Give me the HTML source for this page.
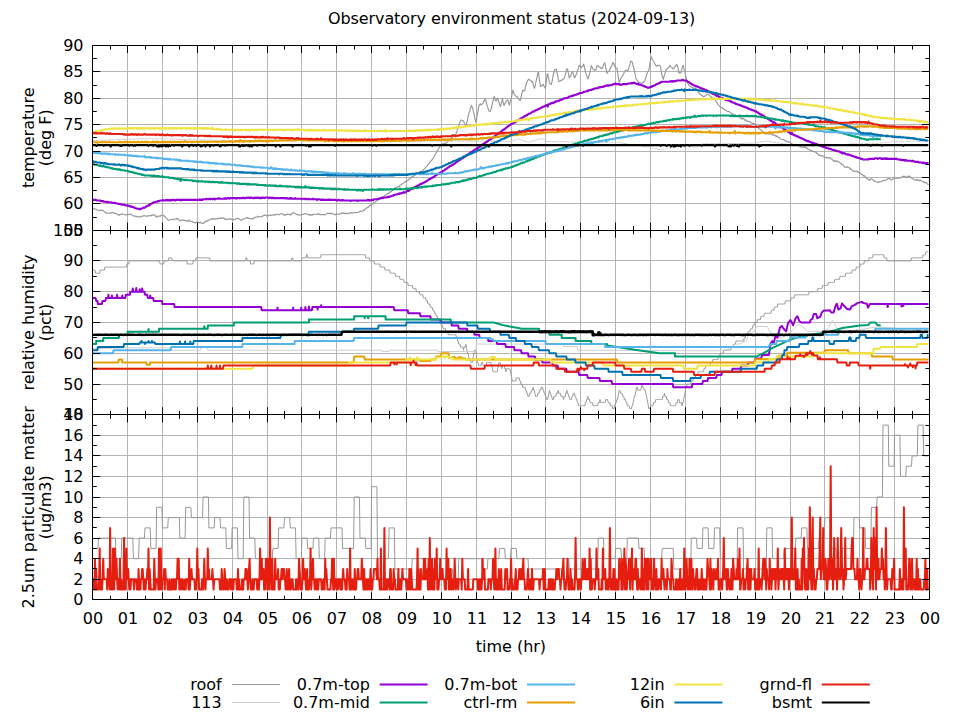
<!DOCTYPE html>
<html lang="en"><head><meta charset="utf-8"><title>Observatory environment status (2024-09-13)</title>
<style>html,body{margin:0;padding:0;background:#fff;}body{width:960px;height:720px;overflow:hidden;}svg{display:block;}</style>
</head><body>
<svg width="960" height="720" viewBox="0 0 960 720" font-family="'DejaVu Sans','Liberation Sans',sans-serif" font-size="16" fill="#000">
<rect width="960" height="720" fill="#fff"/>
<text x="511.6" y="24" text-anchor="middle" textLength="367.4" lengthAdjust="spacing">Observatory environment status (2024-09-13)</text>
<g>
<path d="M127.50 45.50V230.50M162.50 45.50V230.50M197.50 45.50V230.50M232.50 45.50V230.50M267.50 45.50V230.50M301.50 45.50V230.50M336.50 45.50V230.50M371.50 45.50V230.50M406.50 45.50V230.50M441.50 45.50V230.50M476.50 45.50V230.50M511.50 45.50V230.50M545.50 45.50V230.50M580.50 45.50V230.50M615.50 45.50V230.50M650.50 45.50V230.50M685.50 45.50V230.50M720.50 45.50V230.50M755.50 45.50V230.50M790.50 45.50V230.50M824.50 45.50V230.50M859.50 45.50V230.50M894.50 45.50V230.50M92.50 203.50H929.50M92.50 177.50H929.50M92.50 151.50H929.50M92.50 124.50H929.50M92.50 98.50H929.50M92.50 71.50H929.50" stroke="#b4b4b4" stroke-width="1" fill="none"/>
<clipPath id="cp0"><rect x="92.71" y="45.45" width="836.8" height="184.8"/></clipPath>
<g clip-path="url(#cp0)">
<path d="M92.7 208.2L93.3 208.3L93.9 208.8L94.5 209.2L95.0 208.9L95.6 209.2L96.2 209.3L96.8 209.7L97.4 209.8L97.9 209.8L98.5 210.6L99.1 210.7L99.7 210.8L100.3 210.5L100.8 209.7L101.4 210.5L102.0 210.5L102.6 210.6L103.2 210.4L103.8 211.1L104.3 211.5L104.9 211.9L105.5 212.5L106.1 212.9L106.7 213.1L107.2 212.9L107.8 213.0L108.4 213.2L109.0 213.2L109.6 212.8L110.1 213.1L110.7 213.2L111.3 212.6L111.9 212.8L112.5 212.6L113.0 212.3L113.6 212.7L114.2 213.3L114.8 213.3L115.4 213.3L116.0 213.7L116.5 213.6L117.1 214.1L117.7 214.6L118.3 214.9L118.9 215.3L119.4 214.6L120.0 214.8L120.6 214.6L121.2 214.3L121.8 213.5L122.3 214.2L122.9 214.2L123.5 214.3L124.1 214.5L124.7 214.6L125.3 214.7L125.8 214.9L126.4 215.0L127.0 214.3L127.6 214.4L128.2 214.5L128.7 214.4L129.3 214.6L129.9 214.4L130.5 214.4L131.1 214.2L131.6 214.9L132.2 215.4L132.8 215.7L133.4 215.7L134.0 216.0L134.5 216.1L135.1 216.4L135.7 216.1L136.3 216.5L136.9 216.9L137.5 216.8L138.0 216.6L138.6 216.8L139.2 216.9L139.8 216.9L140.4 217.1L140.9 216.7L141.5 216.2L142.1 216.3L142.7 216.1L143.3 216.1L143.8 215.5L144.4 215.8L145.0 215.8L145.6 215.9L146.2 216.2L146.8 216.0L147.3 216.1L147.9 216.2L148.5 215.5L149.1 215.8L149.7 215.9L150.2 215.4L150.8 215.7L151.4 215.6L152.0 214.9L152.6 215.2L153.1 214.7L153.7 215.2L154.3 215.0L154.9 215.3L155.5 215.6L156.1 216.6L156.6 217.4L157.2 216.6L157.8 216.5L158.4 216.0L159.0 216.1L159.5 216.0L160.1 216.3L160.7 215.6L161.3 215.6L161.9 214.9L162.4 214.8L163.0 215.6L163.6 215.6L164.2 215.9L164.8 216.6L165.3 216.8L165.9 217.7L166.5 218.1L167.1 218.8L167.7 219.6L168.3 220.4L168.8 220.3L169.4 220.0L170.0 219.8L170.6 219.7L171.2 219.5L171.7 219.4L172.3 219.7L172.9 219.8L173.5 219.1L174.1 219.2L174.6 219.2L175.2 219.1L175.8 219.3L176.4 218.9L177.0 218.1L177.6 219.1L178.1 219.1L178.7 219.4L179.3 220.0L179.9 220.8L180.5 220.7L181.0 220.2L181.6 220.1L182.2 220.3L182.8 219.9L183.4 220.3L183.9 220.3L184.5 220.3L185.1 220.7L185.7 220.4L186.3 220.9L186.8 221.1L187.4 220.9L188.0 221.4L188.6 221.1L189.2 219.8L189.8 221.0L190.3 221.2L190.9 221.5L191.5 221.5L192.1 221.8L192.7 221.5L193.2 222.1L193.8 222.2L194.4 222.7L195.0 222.7L195.6 222.4L196.1 222.7L196.7 222.2L197.3 223.2L197.9 222.2L198.5 222.3L199.1 222.9L199.6 222.6L200.2 222.2L200.8 223.0L201.4 223.1L202.0 223.2L202.5 223.7L203.1 223.4L203.7 223.2L204.3 222.1L204.9 222.3L205.4 221.7L206.0 221.1L206.6 220.8L207.2 221.2L207.8 220.7L208.4 219.9L208.9 220.2L209.5 220.2L210.1 219.4L210.7 219.0L211.3 219.1L211.8 218.5L212.4 218.9L213.0 218.7L213.6 219.3L214.2 219.0L214.7 219.3L215.3 218.8L215.9 218.9L216.5 218.8L217.1 219.0L217.6 218.1L218.2 218.4L218.8 218.2L219.4 218.4L220.0 218.3L220.6 217.9L221.1 218.6L221.7 218.0L222.3 218.1L222.9 217.8L223.5 218.2L224.0 217.9L224.6 218.9L225.2 219.1L225.8 219.5L226.4 219.6L226.9 219.2L227.5 219.4L228.1 218.9L228.7 219.2L229.3 219.2L229.9 218.8L230.4 218.7L231.0 219.4L231.6 219.1L232.2 219.1L232.8 219.7L233.3 220.1L233.9 219.3L234.5 219.2L235.1 219.3L235.7 219.5L236.2 218.7L236.8 218.4L237.4 218.5L238.0 218.0L238.6 218.8L239.1 219.0L239.7 219.4L240.3 219.7L240.9 220.1L241.5 219.9L242.1 220.0L242.6 219.3L243.2 219.1L243.8 218.8L244.4 218.8L245.0 218.7L245.5 218.2L246.1 217.8L246.7 217.4L247.3 218.0L247.9 218.5L248.4 218.2L249.0 218.6L249.6 218.4L250.2 218.8L250.8 218.7L251.4 218.6L251.9 219.0L252.5 219.1L253.1 218.3L253.7 218.5L254.3 217.5L254.8 217.7L255.4 217.4L256.0 217.1L256.6 217.2L257.2 216.9L257.7 216.2L258.3 216.5L258.9 216.8L259.5 216.7L260.1 216.5L260.7 216.7L261.2 216.9L261.8 216.8L262.4 216.1L263.0 215.9L263.6 215.7L264.1 215.3L264.7 214.9L265.3 215.3L265.9 215.3L266.5 215.8L267.0 215.8L267.6 215.6L268.2 215.9L268.8 215.1L269.4 215.2L269.9 215.2L270.5 214.8L271.1 215.4L271.7 215.2L272.3 215.1L272.9 215.0L273.4 214.8L274.0 215.1L274.6 214.7L275.2 215.2L275.8 214.5L276.3 214.3L276.9 214.3L277.5 214.5L278.1 214.3L278.7 214.9L279.2 214.6L279.8 214.3L280.4 213.9L281.0 213.7L281.6 213.7L282.2 214.0L282.7 214.1L283.3 214.8L283.9 214.7L284.5 215.3L285.1 214.4L285.6 214.9L286.2 214.9L286.8 214.6L287.4 214.0L288.0 214.4L288.5 214.4L289.1 214.5L289.7 214.5L290.3 215.2L290.9 214.1L291.4 214.5L292.0 213.6L292.6 212.9L293.2 212.5L293.8 212.7L294.4 213.2L294.9 213.3L295.5 213.6L296.1 214.1L296.7 214.7L297.3 214.4L297.8 214.6L298.4 214.7L299.0 215.3L299.6 215.0L300.2 215.0L300.7 214.8L301.3 214.7L301.9 214.6L302.5 214.6L303.1 214.5L303.7 214.1L304.2 213.8L304.8 213.5L305.4 213.6L306.0 213.9L306.6 214.0L307.1 214.3L307.7 214.1L308.3 214.7L308.9 214.4L309.5 214.5L310.0 215.4L310.6 214.8L311.2 215.1L311.8 214.5L312.4 215.1L313.0 214.5L313.5 214.2L314.1 214.2L314.7 214.5L315.3 214.4L315.9 214.2L316.4 214.2L317.0 214.3L317.6 213.7L318.2 213.9L318.8 214.3L319.3 214.0L319.9 214.6L320.5 214.4L321.1 214.7L321.7 214.6L322.2 214.6L322.8 214.6L323.4 214.4L324.0 214.7L324.6 215.0L325.2 214.7L325.7 214.3L326.3 214.2L326.9 213.5L327.5 213.2L328.1 213.5L328.6 213.3L329.2 213.6L329.8 213.6L330.4 213.1L331.0 213.5L331.5 213.2L332.1 213.8L332.7 213.8L333.3 214.1L333.9 214.2L334.5 214.3L335.0 214.4L335.6 214.8L336.2 214.1L336.8 214.3L337.4 214.2L337.9 214.0L338.5 214.2L339.1 214.2L339.7 214.3L340.3 213.8L340.8 213.3L341.4 213.6L342.0 213.0L342.6 213.2L343.2 212.8L343.8 213.6L344.3 213.0L344.9 213.4L345.5 213.6L346.1 213.3L346.7 213.3L347.2 213.4L347.8 213.9L348.4 213.8L349.0 213.1L349.6 213.5L350.1 213.1L350.7 212.7L351.3 212.5L351.9 213.1L352.5 212.7L353.0 212.8L353.6 212.9L354.2 212.6L354.8 212.3L355.4 212.7L356.0 212.8L356.5 212.4L357.1 212.7L357.7 212.5L358.3 212.2L358.9 212.1L359.4 211.6L360.0 211.5L360.6 211.3L361.2 211.4L361.8 211.0L362.3 211.0L362.9 211.0L363.5 210.2L364.1 210.5L364.7 209.5L365.3 209.1L365.8 208.7L366.4 208.3L367.0 207.5L367.6 207.6L368.2 207.2L368.7 206.9L369.3 206.2L369.9 205.7L370.5 204.9L371.1 205.5L371.6 204.7L372.2 203.9L372.8 204.0L373.4 203.0L374.0 202.2L374.5 202.3L375.1 202.0L375.7 201.6L376.3 201.0L376.9 200.9L377.5 200.3L378.0 200.1L378.6 199.8L379.2 199.3L379.8 198.6L380.4 198.5L380.9 197.7L381.5 197.9L382.1 197.3L382.7 197.0L383.3 196.8L383.8 196.9L384.4 195.9L385.0 195.5L385.6 195.1L386.2 194.4L386.8 194.3L387.3 193.5L387.9 193.4L388.5 193.6L389.1 193.0L389.7 192.4L390.2 192.1L390.8 191.4L391.4 191.8L392.0 190.7L392.6 190.3L393.1 190.2L393.7 189.6L394.3 189.7L394.9 188.9L395.5 188.4L396.0 187.8L396.6 187.5L397.2 186.9L397.8 186.4L398.4 186.9L399.0 186.8L399.5 185.7L400.1 185.1L400.7 185.0L401.3 184.5L401.9 184.1L402.4 184.0L403.0 183.3L403.6 183.2L404.2 182.5L404.8 181.8L405.3 181.6L405.9 181.9L406.5 180.7L407.1 180.9L407.7 180.6L408.3 180.1L408.8 179.4L409.4 179.1L410.0 178.4L410.6 178.2L411.2 177.8L411.7 177.4L412.3 176.4L412.9 177.0L413.5 176.0L414.1 175.6L414.6 175.1L415.2 175.0L415.8 174.5L416.4 174.1L417.0 173.8L417.6 173.7L418.1 173.0L418.7 173.1L419.3 172.2L419.9 172.0L420.5 171.5L421.0 171.2L421.6 171.3L422.2 170.9L422.8 170.4L423.4 170.1L423.9 169.2L424.5 168.9L425.1 168.5L425.7 167.2L426.3 166.6L426.8 166.2L427.4 165.6L428.0 164.3L428.6 163.8L429.2 163.5L429.8 162.0L430.3 161.7L430.9 161.3L431.5 160.1L432.1 159.9L432.7 159.2L433.2 158.1L433.8 157.2L434.4 155.7L435.0 155.2L435.6 153.7L436.1 152.9L436.7 152.2L437.3 150.5L437.9 150.1L438.5 149.1L439.1 147.8L439.6 147.2L440.2 146.3L440.8 145.3L441.4 144.3L442.0 144.2L442.5 143.9L443.1 144.6L443.7 143.5L444.3 143.3L444.9 143.4L445.4 143.6L446.0 143.3L446.6 142.5L447.2 142.3L447.8 141.8L448.3 140.9L448.9 140.1L449.5 139.9L450.1 139.2L450.7 138.8L451.3 138.3L451.8 137.6L452.4 137.4L453.0 136.8L453.6 136.5L454.2 136.1L454.7 134.9L455.3 135.1L455.9 134.0L456.5 132.2L457.1 130.9L457.6 128.8L458.2 127.2L458.8 125.3L459.4 124.0L460.0 122.2L460.6 121.3L461.1 120.0L461.7 120.2L462.3 120.3L462.9 120.9L463.5 121.1L464.0 122.3L464.6 123.2L465.2 124.6L465.8 125.8L466.4 124.8L466.9 122.0L467.5 120.2L468.1 117.0L468.7 114.1L469.3 111.8L469.9 110.9L470.4 108.0L471.0 106.6L471.6 105.6L472.2 107.3L472.8 109.1L473.3 111.2L473.9 113.4L474.5 116.4L475.1 118.9L475.7 122.2L476.2 120.6L476.8 117.5L477.4 114.0L478.0 110.6L478.6 106.7L479.1 105.2L479.7 104.8L480.3 103.8L480.9 104.9L481.5 104.4L482.1 104.2L482.6 103.7L483.2 102.7L483.8 101.4L484.4 100.4L485.0 98.7L485.5 99.3L486.1 101.5L486.7 104.0L487.3 106.2L487.9 107.5L488.4 109.8L489.0 110.9L489.6 111.3L490.2 111.6L490.8 109.9L491.4 108.2L491.9 106.0L492.5 102.8L493.1 101.0L493.7 97.6L494.3 96.5L494.8 98.5L495.4 100.4L496.0 101.1L496.6 99.6L497.2 99.0L497.7 98.1L498.3 100.1L498.9 101.9L499.5 104.6L500.1 105.9L500.6 106.3L501.2 103.5L501.8 101.4L502.4 98.2L503.0 101.7L503.6 104.6L504.1 105.5L504.7 103.9L505.3 102.8L505.9 101.8L506.5 100.7L507.0 100.3L507.6 99.8L508.2 101.3L508.8 103.9L509.4 105.1L509.9 102.7L510.5 100.7L511.1 98.9L511.7 96.2L512.3 92.8L512.9 90.0L513.4 92.1L514.0 93.5L514.6 94.7L515.2 95.4L515.8 96.0L516.3 96.6L516.9 96.6L517.5 96.9L518.1 98.1L518.7 99.1L519.2 99.7L519.8 100.5L520.4 100.3L521.0 97.6L521.6 94.3L522.2 92.0L522.7 90.4L523.3 90.3L523.9 91.0L524.5 91.0L525.1 88.5L525.6 86.3L526.2 84.0L526.8 82.3L527.4 81.0L528.0 80.1L528.5 79.4L529.1 79.2L529.7 80.3L530.3 80.6L530.9 80.8L531.4 81.0L532.0 82.1L532.6 81.5L533.2 84.2L533.8 86.3L534.4 88.3L534.9 86.9L535.5 83.8L536.1 81.0L536.7 78.5L537.3 75.6L537.8 73.3L538.4 71.8L539.0 76.5L539.6 81.0L540.2 85.1L540.7 86.5L541.3 85.9L541.9 85.3L542.5 85.4L543.1 84.2L543.7 85.6L544.2 86.4L544.8 87.4L545.4 88.4L546.0 84.1L546.6 78.9L547.1 74.1L547.7 73.9L548.3 77.3L548.9 79.8L549.5 83.3L550.0 83.5L550.6 84.0L551.2 84.4L551.8 82.4L552.4 80.0L552.9 76.7L553.5 73.7L554.1 71.9L554.7 69.3L555.3 69.5L555.9 69.5L556.4 69.1L557.0 72.6L557.6 75.1L558.2 78.5L558.8 81.6L559.3 81.4L559.9 81.3L560.5 80.7L561.1 80.4L561.7 80.4L562.2 79.7L562.8 79.4L563.4 78.8L564.0 78.9L564.6 77.2L565.2 74.8L565.7 73.3L566.3 70.8L566.9 68.9L567.5 68.9L568.1 72.1L568.6 74.4L569.2 77.8L569.8 77.5L570.4 76.3L571.0 74.9L571.5 73.1L572.1 72.2L572.7 71.5L573.3 74.1L573.9 76.0L574.5 78.0L575.0 77.3L575.6 75.8L576.2 74.6L576.8 72.8L577.4 71.2L577.9 69.6L578.5 67.6L579.1 65.3L579.7 65.4L580.3 66.7L580.8 66.9L581.4 67.7L582.0 66.7L582.6 66.2L583.2 65.7L583.7 64.0L584.3 66.6L584.9 69.1L585.5 71.7L586.1 73.9L586.7 75.2L587.2 77.1L587.8 78.6L588.4 79.0L589.0 76.0L589.6 73.5L590.1 71.3L590.7 68.6L591.3 65.5L591.9 67.0L592.5 67.9L593.0 68.7L593.6 69.6L594.2 69.5L594.8 70.1L595.4 70.3L596.0 69.4L596.5 67.5L597.1 66.0L597.7 65.6L598.3 65.7L598.9 66.7L599.4 66.9L600.0 67.0L600.6 68.1L601.2 67.9L601.8 68.8L602.3 68.4L602.9 66.9L603.5 64.9L604.1 63.5L604.7 62.7L605.2 65.0L605.8 67.7L606.4 70.2L607.0 73.6L607.6 72.3L608.2 71.7L608.7 71.3L609.3 70.6L609.9 69.1L610.5 68.0L611.1 66.9L611.6 65.9L612.2 64.5L612.8 62.6L613.4 62.7L614.0 64.3L614.5 65.7L615.1 67.1L615.7 67.5L616.3 68.1L616.9 68.4L617.5 71.9L618.0 75.5L618.6 78.6L619.2 82.3L619.8 81.2L620.4 79.5L620.9 78.6L621.5 77.4L622.1 76.0L622.7 75.7L623.3 74.2L623.8 73.7L624.4 71.8L625.0 71.1L625.6 70.4L626.2 70.1L626.8 70.6L627.3 70.7L627.9 70.9L628.5 68.6L629.1 66.7L629.7 65.0L630.2 63.3L630.8 61.1L631.4 61.5L632.0 61.6L632.6 63.4L633.1 65.5L633.7 67.6L634.3 70.1L634.9 73.5L635.5 76.3L636.0 79.0L636.6 79.6L637.2 80.2L637.8 81.1L638.4 82.0L639.0 82.5L639.5 82.7L640.1 82.9L640.7 83.2L641.3 83.1L641.9 83.4L642.4 83.0L643.0 82.6L643.6 81.8L644.2 81.5L644.8 80.8L645.3 79.3L645.9 76.9L646.5 75.4L647.1 73.4L647.7 71.8L648.3 71.0L648.8 70.1L649.4 67.2L650.0 63.0L650.6 59.2L651.2 56.8L651.7 58.6L652.3 59.0L652.9 60.3L653.5 61.5L654.1 62.2L654.6 63.5L655.2 64.7L655.8 65.4L656.4 66.1L657.0 66.1L657.5 65.3L658.1 65.6L658.7 65.3L659.3 65.4L659.9 65.9L660.5 66.4L661.0 70.0L661.6 73.7L662.2 76.0L662.8 77.8L663.4 79.3L663.9 76.9L664.5 75.2L665.1 72.9L665.7 71.6L666.3 70.0L666.8 68.8L667.4 68.9L668.0 67.9L668.6 67.5L669.2 66.7L669.8 65.7L670.3 65.4L670.9 66.8L671.5 67.4L672.1 67.5L672.7 68.6L673.2 69.0L673.8 68.8L674.4 67.3L675.0 66.4L675.6 66.5L676.1 65.4L676.7 64.5L677.3 65.2L677.9 67.7L678.5 71.5L679.1 73.2L679.6 72.3L680.2 72.6L680.8 72.9L681.4 70.7L682.0 68.9L682.5 66.5L683.1 65.4L683.7 67.7L684.3 69.6L684.9 71.8L685.4 74.5L686.0 77.2L686.6 79.7L687.2 82.3L687.8 83.4L688.3 83.7L688.9 85.2L689.5 86.0L690.1 86.3L690.7 86.7L691.3 87.0L691.8 87.2L692.4 87.3L693.0 87.6L693.6 88.0L694.2 88.3L694.7 88.5L695.3 88.7L695.9 89.4L696.5 89.3L697.1 90.1L697.6 90.3L698.2 92.1L698.8 92.6L699.4 93.3L700.0 94.2L700.6 94.7L701.1 95.1L701.7 95.3L702.3 95.7L702.9 96.2L703.5 96.7L704.0 96.4L704.6 96.4L705.2 95.9L705.8 95.8L706.4 95.0L706.9 94.4L707.5 94.3L708.1 94.1L708.7 95.0L709.3 95.4L709.9 95.7L710.4 96.5L711.0 96.9L711.6 97.6L712.2 97.8L712.8 97.9L713.3 98.3L713.9 98.2L714.5 99.6L715.1 99.8L715.7 100.7L716.2 101.7L716.8 102.5L717.4 103.3L718.0 104.6L718.6 104.9L719.1 105.9L719.7 106.4L720.3 106.5L720.9 106.9L721.5 107.8L722.1 107.6L722.6 108.3L723.2 109.1L723.8 108.7L724.4 109.3L725.0 110.0L725.5 110.4L726.1 110.6L726.7 110.9L727.3 111.2L727.9 111.4L728.4 111.4L729.0 111.6L729.6 111.8L730.2 112.6L730.8 113.1L731.4 113.1L731.9 113.8L732.5 113.8L733.1 114.5L733.7 114.8L734.3 115.1L734.8 115.1L735.4 115.4L736.0 115.5L736.6 116.1L737.2 115.8L737.7 115.7L738.3 116.5L738.9 116.5L739.5 117.0L740.1 117.8L740.6 118.1L741.2 118.4L741.8 119.1L742.4 118.2L743.0 118.6L743.6 118.6L744.1 119.5L744.7 120.1L745.3 119.6L745.9 120.8L746.5 120.9L747.0 120.5L747.6 121.5L748.2 121.4L748.8 121.2L749.4 121.7L749.9 121.9L750.5 122.2L751.1 122.8L751.7 122.9L752.3 123.3L752.9 123.3L753.4 123.9L754.0 123.4L754.6 123.9L755.2 123.9L755.8 124.5L756.3 125.2L756.9 126.8L757.5 127.1L758.1 127.3L758.7 128.3L759.2 129.0L759.8 129.1L760.4 129.4L761.0 130.0L761.6 130.8L762.1 131.1L762.7 131.5L763.3 132.8L763.9 133.4L764.5 133.5L765.1 134.0L765.6 133.7L766.2 133.9L766.8 133.5L767.4 133.6L768.0 134.1L768.5 133.9L769.1 133.7L769.7 133.4L770.3 133.9L770.9 134.0L771.4 134.1L772.0 134.6L772.6 135.1L773.2 134.9L773.8 135.1L774.4 135.2L774.9 135.0L775.5 135.3L776.1 136.8L776.7 135.8L777.3 136.7L777.8 136.9L778.4 137.3L779.0 137.3L779.6 138.1L780.2 138.5L780.7 138.8L781.3 139.1L781.9 139.2L782.5 139.5L783.1 139.7L783.7 139.5L784.2 140.2L784.8 140.1L785.4 140.9L786.0 141.5L786.6 141.3L787.1 141.4L787.7 141.6L788.3 142.0L788.9 142.0L789.5 142.5L790.0 142.1L790.6 142.9L791.2 143.2L791.8 143.5L792.4 144.5L792.9 144.6L793.5 144.6L794.1 144.8L794.7 144.6L795.3 145.1L795.9 144.6L796.4 144.8L797.0 145.0L797.6 145.0L798.2 145.5L798.8 145.7L799.3 146.2L799.9 146.5L800.5 146.7L801.1 146.9L801.7 147.3L802.2 147.2L802.8 147.2L803.4 147.4L804.0 146.9L804.6 147.1L805.2 147.0L805.7 147.5L806.3 148.2L806.9 147.9L807.5 149.0L808.1 149.0L808.6 149.2L809.2 149.5L809.8 150.0L810.4 150.4L811.0 150.6L811.5 150.9L812.1 150.7L812.7 151.4L813.3 151.6L813.9 151.6L814.4 151.8L815.0 151.9L815.6 152.2L816.2 152.6L816.8 153.4L817.4 153.2L817.9 154.1L818.5 154.8L819.1 155.4L819.7 154.8L820.3 155.6L820.8 155.8L821.4 155.9L822.0 155.6L822.6 155.8L823.2 156.2L823.7 156.6L824.3 157.0L824.9 157.5L825.5 157.4L826.1 157.8L826.7 157.5L827.2 157.8L827.8 157.7L828.4 158.2L829.0 157.7L829.6 158.0L830.1 157.7L830.7 158.0L831.3 158.9L831.9 159.1L832.5 159.8L833.0 160.4L833.6 161.2L834.2 160.7L834.8 161.4L835.4 161.1L836.0 160.9L836.5 161.1L837.1 160.9L837.7 161.8L838.3 162.1L838.9 161.8L839.4 162.1L840.0 162.9L840.6 163.4L841.2 163.6L841.8 164.6L842.3 164.5L842.9 164.7L843.5 165.8L844.1 166.3L844.7 167.1L845.2 167.2L845.8 167.5L846.4 167.4L847.0 166.5L847.6 167.1L848.2 167.2L848.7 167.4L849.3 168.0L849.9 168.0L850.5 169.5L851.1 169.3L851.6 169.3L852.2 170.0L852.8 170.8L853.4 171.1L854.0 171.2L854.5 171.4L855.1 171.2L855.7 171.4L856.3 171.3L856.9 171.1L857.5 172.1L858.0 171.7L858.6 172.3L859.2 172.7L859.8 172.5L860.4 173.2L860.9 173.8L861.5 174.2L862.1 174.5L862.7 175.1L863.3 175.4L863.8 176.1L864.4 175.6L865.0 176.5L865.6 177.0L866.2 177.9L866.8 178.4L867.3 178.3L867.9 179.3L868.5 180.2L869.1 179.7L869.7 180.1L870.2 179.3L870.8 178.9L871.4 178.9L872.0 179.4L872.6 179.3L873.1 180.1L873.7 180.6L874.3 181.4L874.9 180.8L875.5 181.4L876.0 181.8L876.6 182.0L877.2 182.1L877.8 182.0L878.4 182.6L879.0 182.0L879.5 181.8L880.1 182.0L880.7 181.8L881.3 181.4L881.9 181.4L882.4 181.2L883.0 180.6L883.6 180.1L884.2 180.7L884.8 180.7L885.3 180.3L885.9 180.0L886.5 179.7L887.1 179.5L887.7 179.0L888.3 178.2L888.8 178.7L889.4 178.6L890.0 179.1L890.6 179.2L891.2 179.7L891.7 180.1L892.3 179.6L892.9 179.0L893.5 178.3L894.1 178.1L894.6 178.2L895.2 178.2L895.8 177.9L896.4 178.3L897.0 178.2L897.5 178.5L898.1 177.8L898.7 178.0L899.3 177.6L899.9 178.0L900.5 178.1L901.0 177.6L901.6 177.0L902.2 177.4L902.8 176.6L903.4 176.2L903.9 176.4L904.5 176.3L905.1 176.7L905.7 177.5L906.3 177.3L906.8 177.4L907.4 176.2L908.0 176.7L908.6 176.3L909.2 176.4L909.8 176.0L910.3 176.9L910.9 177.3L911.5 178.0L912.1 178.5L912.7 178.7L913.2 179.2L913.8 179.6L914.4 179.9L915.0 179.9L915.6 179.8L916.1 179.9L916.7 180.3L917.3 179.4L917.9 180.1L918.5 180.3L919.1 179.9L919.6 180.9L920.2 180.1L920.8 180.4L921.4 180.9L922.0 181.2L922.5 181.5L923.1 181.6L923.7 182.4L924.3 182.3L924.9 182.8L925.4 182.6L926.0 182.4L926.6 182.9L927.2 183.6L927.8 184.1L928.3 184.8" stroke="#989898" stroke-width="1.15" fill="none" stroke-linejoin="round" stroke-linecap="butt" />
<path d="M92.7 140.5L95.0 140.5L95.6 139.9L96.2 140.5L97.4 140.5L97.9 139.9L98.5 140.5L99.1 140.5L99.7 139.9L100.8 139.9L101.4 140.5L102.0 139.9L103.2 139.9L103.8 140.5L104.3 139.9L104.9 140.5L105.5 139.9L107.2 139.9L107.8 140.5L108.4 139.9L113.0 139.9L113.6 139.3L114.2 139.9L115.4 139.9L116.0 139.3L119.4 139.3L120.0 139.9L120.6 139.3L121.2 139.3L121.8 139.9L122.3 139.3L129.9 139.3L130.5 138.7L131.1 139.3L131.6 138.7L132.2 138.7L132.8 139.3L133.4 139.3L134.0 138.7L134.5 139.3L135.1 139.3L135.7 138.7L136.9 138.7L137.5 139.3L138.0 139.3L138.6 138.7L140.9 138.7L141.5 139.3L142.1 138.1L142.7 138.7L147.9 138.7L148.5 138.1L149.1 138.7L150.8 138.7L151.4 139.3L152.0 138.7L152.6 138.7L153.1 139.3L153.7 138.7L155.5 138.7L156.1 139.3L156.6 138.7L158.4 138.7L159.0 139.3L159.5 138.7L161.9 138.7L162.4 139.3L163.6 139.3L164.2 138.7L164.8 138.7L165.3 139.3L165.9 138.7L168.3 138.7L168.8 139.3L169.4 138.7L170.0 139.3L174.6 139.3L175.2 138.7L175.8 139.3L183.4 139.3L183.9 139.9L184.5 139.3L185.1 139.3L185.7 139.9L186.3 139.3L186.8 139.3L187.4 139.9L188.0 139.3L192.1 139.3L192.7 139.9L193.2 139.9L193.8 139.3L195.0 139.3L195.6 139.9L198.5 139.9L199.1 139.3L199.6 139.3L200.2 139.9L207.8 139.9L208.4 140.5L208.9 139.9L213.0 139.9L213.6 140.5L214.2 139.9L214.7 140.5L217.1 140.5L217.6 139.9L218.2 139.9L218.8 140.5L219.4 140.5L220.0 139.9L221.1 139.9L221.7 140.5L224.0 140.5L224.6 139.9L225.2 140.5L225.8 140.5L226.4 139.9L226.9 140.5L242.6 140.5L243.2 141.1L243.8 140.5L265.3 140.5L265.9 141.1L266.5 140.5L272.3 140.5L272.9 139.9L273.4 140.5L274.6 140.5L275.2 141.1L275.8 140.5L277.5 140.5L278.1 141.1L278.7 140.5L279.2 139.9L279.8 140.5L307.1 140.5L307.7 141.1L308.3 140.5L311.8 140.5L312.4 141.1L313.0 140.5L326.9 140.5L327.5 141.1L328.1 140.5L329.8 140.5L330.4 141.1L331.0 141.1L331.5 140.5L333.3 140.5L333.9 141.1L334.5 140.5L340.8 140.5L341.4 141.1L342.0 140.5L344.3 140.5L344.9 141.1L345.5 140.5L347.2 140.5L347.8 141.1L348.4 140.5L349.0 141.1L349.6 140.5L350.1 141.1L350.7 140.5L351.3 141.1L351.9 140.5L352.5 141.1L353.0 140.5L353.6 141.1L354.2 140.5L354.8 141.1L355.4 140.5L356.0 141.1L356.5 140.5L357.1 140.5L357.7 141.1L358.3 141.1L358.9 140.5L359.4 140.5L360.0 141.1L360.6 140.5L361.2 141.1L361.8 141.1L362.3 140.5L362.9 141.1L364.1 141.1L364.7 140.5L366.4 140.5L367.0 141.1L369.3 141.1L369.9 140.5L370.5 141.1L376.3 141.1L376.9 140.5L377.5 141.1L378.0 141.1L378.6 140.5L379.2 140.5L379.8 141.1L380.4 140.5L380.9 141.1L381.5 141.1L382.1 140.5L382.7 141.1L383.3 141.1L383.8 140.5L384.4 141.1L386.2 141.1L386.8 140.5L387.3 141.1L391.4 141.1L392.0 140.5L392.6 141.1L403.0 141.1L403.6 140.5L404.2 141.1L407.1 141.1L407.7 141.7L408.3 141.1L414.1 141.1L414.6 140.5L415.2 141.1L415.8 140.5L416.4 141.1L425.1 141.1L425.7 140.5L426.3 140.5L426.8 141.1L428.0 141.1L428.6 140.5L429.2 141.1L429.8 141.1L430.3 141.7L430.9 141.1L434.4 141.1L435.0 140.5L435.6 141.1L441.4 141.1L442.0 139.9L442.5 141.1L447.2 141.1L447.8 140.5L448.3 141.1L449.5 141.1L450.1 140.5L450.7 141.1L453.6 141.1L454.2 140.5L454.7 141.1L456.5 141.1L457.1 140.5L457.6 141.1L461.1 141.1L461.7 140.5L462.3 141.1L464.0 141.1L464.6 140.5L465.2 141.1L482.1 141.1L482.6 141.7L483.2 141.1L483.8 141.1L484.4 141.7L485.0 141.1L489.6 141.1L490.2 140.5L490.8 141.1L491.4 141.7L491.9 141.1L496.6 141.1L497.2 141.7L497.7 141.1L500.6 141.1L501.2 141.7L501.8 141.7L502.4 141.1L503.0 141.7L504.1 141.7L504.7 141.1L505.3 141.7L505.9 141.7L506.5 141.1L507.0 141.7L508.8 141.7L509.4 141.1L509.9 141.7L511.1 141.7L511.7 141.1L512.9 141.1L513.4 140.5L514.0 141.1L514.6 140.5L515.2 139.9L515.8 139.3L517.5 139.3L518.1 138.7L518.7 139.3L520.4 139.3L521.0 139.9L521.6 139.9L522.2 140.5L523.9 140.5L524.5 141.1L525.6 141.1L526.2 141.7L528.0 141.7L528.5 142.3L529.1 142.3L529.7 141.7L530.9 141.7L531.4 141.1L533.2 141.1L533.8 140.5L534.9 140.5L535.5 139.9L536.7 139.9L537.3 139.3L539.6 139.3L540.2 138.7L541.9 138.7L542.5 138.1L543.1 139.3L543.7 139.9L544.2 139.9L544.8 140.5L545.4 141.1L546.0 141.7L558.8 141.7L559.3 142.3L559.9 141.7L565.7 141.7L566.3 142.3L566.9 141.7L567.5 142.3L568.1 141.7L568.6 142.3L569.2 142.3L569.8 141.7L570.4 142.3L571.0 141.7L571.5 141.7L572.1 142.3L572.7 141.7L574.5 141.7L575.0 142.3L575.6 141.7L576.2 142.3L576.8 141.7L577.4 142.3L579.1 142.3L579.7 141.7L580.3 142.3L584.3 142.3L584.9 141.7L585.5 142.3L586.7 142.3L587.2 141.7L587.8 142.3L588.4 142.3L589.0 141.7L589.6 142.3L590.1 142.3L590.7 141.7L591.3 142.3L591.9 142.3L592.5 141.7L593.0 142.3L596.0 142.3L596.5 141.7L597.1 142.3L600.6 142.3L601.2 141.7L601.8 142.3L603.5 142.3L604.1 141.7L604.7 142.3L605.8 142.3L606.4 141.7L607.0 141.7L607.6 142.3L608.2 142.3L608.7 141.7L609.3 142.3L609.9 142.3L610.5 141.7L611.1 142.3L612.8 142.3L613.4 141.7L614.0 142.3L614.5 141.7L615.1 142.3L615.7 142.3L616.3 141.7L616.9 142.3L619.2 142.3L619.8 142.9L621.5 142.9L622.1 143.5L622.7 142.9L623.3 143.5L626.2 143.5L626.8 144.1L629.1 144.1L629.7 144.6L631.4 144.6L632.0 144.1L632.6 144.6L633.1 144.6L633.7 144.1L634.3 144.6L634.9 145.2L637.2 145.2L637.8 145.8L639.0 145.8L639.5 145.2L640.1 145.8L640.7 145.8L641.3 145.2L641.9 145.8L642.4 145.8L643.0 146.4L645.9 146.4L646.5 147.0L647.7 147.0L648.3 146.4L648.8 147.0L649.4 147.0L650.0 147.6L650.6 147.0L651.2 147.6L651.7 147.6L652.3 148.2L654.1 148.2L654.6 148.8L655.2 148.8L655.8 148.2L656.4 148.8L657.0 149.4L659.9 149.4L660.5 150.0L662.2 150.0L662.8 149.4L664.5 149.4L665.1 148.8L665.7 148.8L666.3 148.2L666.8 148.8L667.4 148.2L669.2 148.2L669.8 147.6L672.1 147.6L672.7 147.0L675.0 147.0L675.6 146.4L678.5 146.4L679.1 145.8L682.0 145.8L682.5 145.2L684.3 145.2L684.9 144.6L686.0 144.6L686.6 145.2L687.8 145.2L688.3 144.6L688.9 145.8L690.1 145.8L690.7 146.4L693.0 146.4L693.6 147.0L695.3 147.0L695.9 147.6L696.5 147.0L697.1 147.0L697.6 146.4L698.2 146.4L698.8 145.8L699.4 145.8L700.0 144.6L700.6 145.2L701.1 144.1L701.7 144.6L702.3 144.1L702.9 144.1L703.5 143.5L704.0 144.1L704.6 144.1L705.2 143.5L706.9 143.5L707.5 144.1L708.1 143.5L709.3 143.5L709.9 144.1L710.4 144.1L711.0 143.5L712.2 143.5L712.8 142.9L713.3 144.1L713.9 143.5L714.5 143.5L715.1 144.1L715.7 143.5L716.2 143.5L716.8 144.1L717.4 143.5L720.3 143.5L720.9 144.1L721.5 143.5L722.6 143.5L723.2 144.1L723.8 143.5L725.5 143.5L726.1 144.1L726.7 143.5L727.3 143.5L727.9 144.1L728.4 143.5L737.2 143.5L737.7 142.9L738.3 143.5L744.7 143.5L745.3 142.9L745.9 143.5L746.5 143.5L747.0 142.9L747.6 143.5L748.2 142.9L750.5 142.9L751.1 143.5L752.3 143.5L752.9 142.9L753.4 142.9L754.0 143.5L754.6 142.9L758.1 142.9L758.7 142.3L760.4 142.3L761.0 141.7L765.1 141.7L765.6 141.1L767.4 141.1L768.0 141.7L768.5 141.1L769.1 141.1L769.7 141.7L771.4 141.7L772.0 142.3L772.6 141.7L773.2 142.3L776.1 142.3L776.7 142.9L779.6 142.9L780.2 143.5L780.7 142.9L781.3 143.5L783.1 143.5L783.7 144.1L785.4 144.1L786.0 143.5L786.6 144.1L787.1 144.1L787.7 144.6L793.5 144.6L794.1 145.2L794.7 144.6L795.3 145.2L795.9 145.2L796.4 144.6L797.0 145.2L798.8 145.2L799.3 144.6L799.9 144.6L800.5 145.2L802.8 145.2L803.4 145.8L804.0 145.2L804.6 145.8L805.2 145.2L806.3 145.2L806.9 145.8L807.5 145.2L808.1 145.2L808.6 145.8L809.2 145.2L811.0 145.2L811.5 145.8L813.9 145.8L814.4 145.2L815.0 145.2L815.6 145.8L823.7 145.8L824.3 146.4L824.9 145.8L828.4 145.8L829.0 145.2L829.6 145.8L830.1 145.8L830.7 145.2L831.3 145.8L831.9 145.2L838.9 145.2L839.4 144.6L840.0 145.2L840.6 145.2L841.2 144.6L846.4 144.6L847.0 144.1L851.6 144.1L852.2 143.5L852.8 144.1L853.4 144.1L854.0 143.5L855.1 143.5L855.7 144.1L856.3 143.5L856.9 143.5L857.5 142.9L858.0 143.5L858.6 142.9L859.2 142.9L859.8 143.5L860.4 143.5L860.9 142.9L861.5 143.5L862.7 143.5L863.3 142.9L863.8 142.9L864.4 143.5L868.5 143.5L869.1 142.9L869.7 143.5L870.2 143.5L870.8 142.9L871.4 142.9L872.0 143.5L874.3 143.5L874.9 142.9L875.5 143.5L878.4 143.5L879.0 142.9L882.4 142.9L883.0 142.3L883.6 142.9L884.2 142.9L884.8 142.3L885.3 142.9L885.9 142.9L886.5 142.3L888.8 142.3L889.4 141.7L890.0 142.3L890.6 142.3L891.2 141.7L892.3 141.7L892.9 141.1L893.5 141.7L898.1 141.7L898.7 141.1L899.3 141.7L899.9 141.1L900.5 141.1L901.0 140.5L901.6 141.7L903.9 141.7L904.5 141.1L905.1 141.7L905.7 141.7L906.3 141.1L906.8 141.7L907.4 141.1L908.0 141.7L908.6 141.7L909.2 141.1L909.8 141.7L910.3 141.1L913.2 141.1L913.8 141.7L914.4 141.1L915.0 141.7L915.6 141.1L919.1 141.1L919.6 141.7L920.2 141.1L921.4 141.1L922.0 141.7L922.5 141.1L923.1 142.3L923.7 141.1L928.3 141.1" stroke="#cfcfcf" stroke-width="1" fill="none" stroke-linejoin="round" stroke-linecap="butt" />
<path d="M92.7 199.9L96.2 199.9L96.8 200.5L100.3 200.5L100.8 201.1L103.2 201.1L103.8 201.7L106.1 201.7L106.7 202.3L107.2 201.7L107.8 201.7L108.4 202.3L111.3 202.3L111.9 202.9L115.4 202.9L116.0 203.5L117.7 203.5L118.3 204.0L120.6 204.0L121.2 204.6L124.1 204.6L124.7 205.2L126.4 205.2L127.0 205.8L127.6 205.2L128.2 205.8L129.3 205.8L129.9 206.4L131.1 206.4L131.6 207.0L133.4 207.0L134.0 207.6L134.5 207.6L135.1 208.2L136.3 208.2L136.9 208.8L139.2 208.8L139.8 209.4L140.4 208.8L141.5 208.8L142.1 208.2L142.7 208.2L143.3 207.6L145.0 207.6L145.6 207.0L146.2 206.4L146.8 206.4L147.3 205.8L148.5 205.8L149.1 204.6L149.7 205.2L150.2 204.0L150.8 204.0L151.4 203.5L152.0 203.5L152.6 202.9L153.1 202.9L153.7 202.3L154.9 202.3L155.5 201.7L157.2 201.7L157.8 201.1L159.5 201.1L160.1 200.5L162.4 200.5L163.0 199.9L163.6 200.5L165.3 200.5L165.9 199.9L166.5 199.9L167.1 200.5L167.7 199.9L168.3 200.5L168.8 199.9L169.4 200.5L170.0 200.5L170.6 199.9L171.2 200.5L171.7 199.9L174.1 199.9L174.6 200.5L175.2 200.5L175.8 199.9L180.5 199.9L181.0 200.5L181.6 199.9L199.1 199.9L199.6 199.3L200.2 199.9L201.4 199.9L202.0 199.3L202.5 199.9L203.1 199.3L206.0 199.3L206.6 198.7L207.2 199.3L208.4 199.3L208.9 198.7L209.5 198.7L210.1 199.3L210.7 198.7L211.8 198.7L212.4 199.3L213.0 198.7L213.6 198.7L214.2 199.3L214.7 198.7L215.3 199.3L215.9 198.7L218.2 198.7L218.8 198.1L219.4 198.7L224.6 198.7L225.2 198.1L225.8 198.7L226.9 198.7L227.5 198.1L228.7 198.1L229.3 198.7L229.9 198.1L235.7 198.1L236.2 198.7L236.8 198.1L242.6 198.1L243.2 197.5L243.8 198.1L246.1 198.1L246.7 197.5L247.3 197.5L247.9 198.1L248.4 197.5L249.0 197.5L249.6 198.1L250.2 197.5L250.8 198.1L251.4 197.5L251.9 197.5L252.5 198.1L254.3 198.1L254.8 197.5L255.4 198.1L256.0 197.5L256.6 198.1L257.2 197.5L257.7 197.5L258.3 198.1L258.9 197.5L259.5 198.1L260.7 198.1L261.2 197.5L261.8 198.1L262.4 197.5L263.0 198.1L263.6 197.5L264.1 197.5L264.7 198.1L265.3 197.5L268.2 197.5L268.8 198.1L269.4 197.5L269.9 198.1L270.5 198.1L271.1 197.5L271.7 198.1L272.3 198.1L272.9 197.5L273.4 198.1L285.1 198.1L285.6 198.7L286.2 198.1L287.4 198.1L288.0 198.7L289.1 198.7L289.7 198.1L290.3 198.1L290.9 198.7L291.4 198.1L292.0 198.7L294.4 198.7L294.9 198.1L295.5 198.7L301.3 198.7L301.9 199.3L302.5 198.7L304.8 198.7L305.4 199.3L306.0 198.7L306.6 198.7L307.1 199.3L308.3 199.3L308.9 198.7L309.5 199.3L312.4 199.3L313.0 198.7L313.5 199.3L316.4 199.3L317.0 199.9L317.6 199.3L319.9 199.3L320.5 199.9L321.7 199.9L322.2 199.3L322.8 199.9L328.1 199.9L328.6 199.3L329.2 199.9L335.6 199.9L336.2 200.5L337.4 200.5L337.9 199.9L339.1 199.9L339.7 200.5L340.8 200.5L341.4 199.9L342.0 200.5L342.6 200.5L343.2 199.9L343.8 200.5L350.1 200.5L350.7 201.1L351.3 200.5L357.1 200.5L357.7 201.1L358.3 200.5L367.0 200.5L367.6 199.9L368.2 199.9L368.7 200.5L369.3 199.9L369.9 200.5L370.5 200.5L371.1 199.9L373.4 199.9L374.0 199.3L377.5 199.3L378.0 198.7L379.8 198.7L380.4 198.1L381.5 198.1L382.1 197.5L382.7 198.1L383.3 198.1L383.8 197.5L386.8 197.5L387.3 196.9L389.7 196.9L390.2 196.3L391.4 196.3L392.0 195.7L393.1 195.7L393.7 195.1L394.3 195.1L394.9 194.5L397.2 194.5L397.8 193.9L399.0 193.9L399.5 193.4L401.3 193.4L401.9 192.8L403.0 192.8L403.6 192.2L404.2 192.8L404.8 192.2L405.9 192.2L406.5 191.6L407.1 191.0L408.3 191.0L408.8 190.4L409.4 190.4L410.0 189.8L410.6 189.2L411.2 189.2L411.7 188.6L412.9 188.6L413.5 188.0L414.1 187.4L414.6 187.4L415.2 186.8L415.8 186.8L416.4 186.2L417.0 186.2L417.6 185.6L418.7 185.6L419.3 185.0L419.9 184.4L420.5 183.9L421.6 183.9L422.2 183.3L422.8 183.3L423.4 182.7L423.9 182.7L424.5 182.1L425.1 182.1L425.7 181.5L426.3 181.5L426.8 180.9L427.4 180.3L428.0 180.3L428.6 179.7L429.2 179.1L430.3 179.1L430.9 178.5L431.5 177.9L432.1 177.9L432.7 177.3L433.2 177.3L433.8 176.7L434.4 176.7L435.0 175.5L435.6 175.5L436.1 174.9L436.7 174.9L437.3 174.3L437.9 174.3L438.5 173.8L439.1 173.2L439.6 173.2L440.2 172.6L440.8 172.6L441.4 172.0L442.0 172.0L442.5 171.4L443.1 170.8L443.7 170.8L444.3 170.2L444.9 169.6L445.4 169.6L446.0 169.0L446.6 168.4L447.2 168.4L447.8 167.8L448.3 167.2L448.9 167.2L449.5 166.6L450.1 166.0L450.7 166.0L451.3 165.4L451.8 165.4L452.4 164.8L453.0 164.8L453.6 164.2L454.2 163.7L454.7 163.7L455.3 163.1L455.9 162.5L456.5 161.9L457.1 161.9L457.6 161.3L458.2 160.7L458.8 160.7L459.4 160.1L460.0 160.1L460.6 159.5L461.1 158.9L461.7 158.3L462.9 158.3L463.5 157.1L464.0 156.5L464.6 157.1L465.2 156.5L465.8 155.9L466.4 155.3L466.9 155.3L467.5 154.7L468.1 154.2L468.7 154.2L469.3 153.6L469.9 153.0L470.4 152.4L471.0 152.4L471.6 151.8L472.2 151.8L472.8 151.2L473.3 150.6L473.9 150.6L474.5 150.0L475.1 149.4L475.7 149.4L476.2 148.8L476.8 148.8L477.4 147.6L478.6 147.6L479.1 147.0L479.7 147.0L480.3 145.8L480.9 145.8L481.5 145.2L482.1 144.6L482.6 144.6L483.2 144.1L483.8 143.5L485.0 143.5L485.5 142.3L486.1 142.3L486.7 141.7L487.3 141.7L487.9 141.1L488.4 140.5L489.0 139.9L489.6 139.9L490.2 139.3L490.8 139.3L491.4 138.7L491.9 138.1L492.5 138.1L493.1 137.5L493.7 136.9L494.3 136.9L494.8 136.3L495.4 135.7L496.0 135.1L496.6 134.6L497.2 134.6L497.7 134.0L498.3 133.4L498.9 133.4L499.5 132.8L500.1 132.2L500.6 132.2L501.2 131.6L501.8 131.0L502.4 130.4L503.0 129.8L503.6 129.8L504.1 129.2L504.7 129.2L505.3 128.6L505.9 128.0L506.5 127.4L507.0 126.8L507.6 126.8L508.2 126.2L508.8 125.6L509.4 125.6L509.9 125.0L510.5 124.5L511.1 123.9L511.7 123.9L512.3 123.3L512.9 123.3L513.4 122.7L514.6 122.7L515.2 122.1L515.8 121.5L516.3 121.5L516.9 120.9L517.5 120.3L518.1 120.3L518.7 119.7L519.2 119.7L519.8 119.1L520.4 118.5L521.0 118.5L521.6 117.9L522.2 117.9L522.7 117.3L523.3 117.3L523.9 116.7L524.5 116.1L525.6 116.1L526.2 115.5L526.8 114.9L527.4 114.9L528.0 114.4L528.5 113.8L529.7 113.8L530.3 113.2L530.9 113.2L531.4 112.6L532.0 112.0L532.6 112.0L533.2 111.4L534.4 111.4L534.9 110.8L535.5 110.2L536.7 110.2L537.3 109.6L537.8 109.6L538.4 109.0L539.0 109.0L539.6 108.4L540.2 108.4L540.7 107.8L541.3 107.8L541.9 107.2L542.5 107.2L543.1 106.6L544.2 106.6L544.8 106.0L545.4 106.0L546.0 105.4L546.6 105.4L547.1 104.8L547.7 106.6L548.3 104.3L549.5 104.3L550.0 103.7L550.6 103.7L551.2 103.1L552.4 103.1L552.9 102.5L553.5 103.1L554.1 102.5L554.7 101.9L555.3 101.9L555.9 101.3L557.6 101.3L558.2 100.7L559.3 100.7L559.9 100.1L560.5 99.5L561.1 100.1L561.7 99.5L562.2 99.5L562.8 98.9L563.4 98.9L564.0 98.3L565.7 98.3L566.3 97.7L568.1 97.7L568.6 97.1L569.2 96.5L571.0 96.5L571.5 95.9L572.7 95.9L573.3 95.3L574.5 95.3L575.0 94.8L576.2 94.8L576.8 94.2L577.9 94.2L578.5 93.6L579.1 93.6L579.7 93.0L582.0 93.0L582.6 92.4L583.2 92.4L583.7 91.8L585.5 91.8L586.1 91.2L586.7 91.2L587.2 90.6L587.8 91.2L588.4 90.6L589.0 90.6L589.6 90.0L591.3 90.0L591.9 89.4L593.0 89.4L593.6 88.8L594.8 88.8L595.4 88.2L597.7 88.2L598.3 87.6L598.9 87.6L599.4 87.0L600.0 87.6L600.6 87.0L602.9 87.0L603.5 86.4L604.7 86.4L605.2 85.8L606.4 85.8L607.0 85.2L607.6 85.8L608.2 85.8L608.7 85.2L611.1 85.2L611.6 84.7L612.8 84.7L613.4 84.1L614.5 84.1L615.1 83.5L615.7 83.5L616.3 84.1L618.6 84.1L619.2 84.7L619.8 84.1L620.4 84.7L622.1 84.7L622.7 84.1L627.3 84.1L627.9 83.5L630.8 83.5L631.4 82.9L632.0 83.5L632.6 82.9L634.9 82.9L635.5 83.5L636.0 83.5L636.6 84.1L637.8 84.1L638.4 83.5L639.0 84.7L640.7 84.7L641.3 85.2L642.4 85.2L643.0 85.8L643.6 85.8L644.2 86.4L645.3 86.4L645.9 87.0L646.5 87.0L647.1 87.6L649.4 87.6L650.0 87.0L651.2 87.0L651.7 86.4L652.3 86.4L652.9 85.8L654.1 85.8L654.6 85.2L655.2 85.2L655.8 84.7L656.4 84.1L657.5 84.1L658.1 83.5L658.7 83.5L659.3 82.9L659.9 82.9L660.5 82.3L661.0 82.3L661.6 81.7L669.8 81.7L670.3 81.1L670.9 81.1L671.5 81.7L672.1 81.1L672.7 81.1L673.2 81.7L673.8 81.1L676.1 81.1L676.7 80.5L681.4 80.5L682.0 79.9L683.1 79.9L683.7 80.5L686.0 80.5L686.6 81.1L687.2 81.1L687.8 81.7L688.3 81.7L688.9 82.3L689.5 82.3L690.1 82.9L690.7 83.5L691.3 84.1L691.8 84.1L692.4 84.7L693.0 84.7L693.6 85.2L694.2 85.2L694.7 85.8L695.3 85.8L695.9 86.4L697.6 86.4L698.2 87.0L698.8 87.0L699.4 87.6L700.0 87.6L700.6 88.2L701.7 88.2L702.3 88.8L703.5 88.8L704.0 89.4L704.6 89.4L705.2 90.0L706.4 90.0L706.9 90.6L707.5 91.2L708.7 91.2L709.3 91.8L709.9 91.8L710.4 92.4L711.0 92.4L711.6 93.0L712.2 93.6L712.8 93.6L713.3 94.2L714.5 94.2L715.1 94.8L715.7 95.3L716.2 95.3L716.8 95.9L718.0 95.9L718.6 96.5L719.1 97.1L719.7 97.1L720.3 97.7L720.9 97.7L721.5 98.3L722.1 97.7L722.6 98.3L723.2 98.3L723.8 98.9L724.4 98.9L725.0 99.5L725.5 99.5L726.1 100.1L727.9 100.1L728.4 100.7L729.6 100.7L730.2 101.3L730.8 101.3L731.4 101.9L731.9 101.9L732.5 102.5L733.7 102.5L734.3 103.1L734.8 103.1L735.4 103.7L736.0 103.7L736.6 104.3L737.7 104.3L738.3 104.8L739.5 104.8L740.1 105.4L741.2 105.4L741.8 106.0L742.4 106.0L743.0 106.6L744.1 106.6L744.7 107.2L745.9 107.2L746.5 107.8L747.6 107.8L748.2 108.4L748.8 109.0L749.9 109.0L750.5 109.6L751.7 109.6L752.3 110.2L753.4 110.2L754.0 110.8L754.6 110.8L755.2 111.4L756.3 111.4L756.9 112.0L757.5 112.6L758.1 112.6L758.7 113.2L759.2 113.8L759.8 113.8L760.4 114.4L761.0 114.4L761.6 114.9L762.1 114.9L762.7 115.5L763.3 115.5L763.9 116.1L764.5 116.7L765.1 117.3L765.6 117.3L766.2 117.9L766.8 117.9L767.4 118.5L768.0 119.1L768.5 119.1L769.1 119.7L769.7 119.7L770.3 120.3L770.9 120.9L771.4 120.9L772.0 121.5L772.6 121.5L773.2 122.1L773.8 122.1L774.4 122.7L774.9 122.7L775.5 123.3L776.1 123.9L776.7 124.5L777.3 124.5L777.8 125.0L778.4 125.0L779.0 125.6L779.6 126.2L780.2 126.2L780.7 126.8L781.3 127.4L781.9 127.4L782.5 128.0L783.1 128.6L783.7 128.6L784.2 129.2L784.8 129.8L785.4 129.8L786.0 130.4L786.6 131.0L787.1 131.0L787.7 131.6L788.3 132.2L789.5 132.2L790.0 133.4L790.6 133.4L791.2 134.0L791.8 132.8L792.4 134.0L792.9 134.6L793.5 134.6L794.1 135.1L794.7 135.1L795.3 135.7L796.4 135.7L797.0 136.3L797.6 136.3L798.2 136.9L798.8 136.9L799.3 137.5L799.9 137.5L800.5 138.1L801.7 138.1L802.2 138.7L802.8 138.7L803.4 139.3L804.0 139.3L804.6 139.9L805.2 139.9L805.7 140.5L806.3 140.5L806.9 141.1L808.6 141.1L809.2 141.7L809.8 141.7L810.4 142.3L811.5 142.3L812.1 142.9L813.3 142.9L813.9 143.5L815.6 143.5L816.2 144.1L816.8 144.1L817.4 144.6L817.9 144.6L818.5 145.2L819.7 145.2L820.3 145.8L821.4 145.8L822.0 146.4L822.6 146.4L823.2 147.0L824.9 147.0L825.5 147.6L826.1 147.6L826.7 148.2L828.4 148.2L829.0 148.8L830.7 148.8L831.3 149.4L831.9 149.4L832.5 150.0L834.2 150.0L834.8 150.6L836.0 150.6L836.5 151.2L838.9 151.2L839.4 151.8L840.0 151.8L840.6 152.4L841.8 152.4L842.3 153.6L842.9 153.0L844.1 153.0L844.7 153.6L845.2 153.6L845.8 154.2L847.0 154.2L847.6 154.7L848.2 154.2L848.7 154.7L849.3 154.7L849.9 155.3L851.1 155.3L851.6 155.9L852.8 155.9L853.4 156.5L854.5 156.5L855.1 157.1L856.3 157.1L856.9 157.7L858.6 157.7L859.2 158.3L860.4 158.3L860.9 158.9L862.1 158.9L862.7 159.5L867.3 159.5L867.9 158.9L868.5 159.5L869.1 158.9L874.3 158.9L874.9 158.3L877.2 158.3L877.8 158.9L878.4 158.3L880.7 158.3L881.3 158.9L881.9 158.3L882.4 158.9L883.6 158.9L884.2 158.3L884.8 158.3L885.3 158.9L885.9 158.3L886.5 158.9L887.1 158.3L887.7 158.9L897.0 158.9L897.5 159.5L899.9 159.5L900.5 160.1L901.0 159.5L901.6 160.1L904.5 160.1L905.1 160.7L905.7 160.1L906.3 160.1L906.8 160.7L910.9 160.7L911.5 161.3L912.1 161.3L912.7 160.7L913.2 161.3L914.4 161.3L915.0 161.9L918.5 161.9L919.1 162.5L922.0 162.5L922.5 163.1L923.1 163.1L923.7 162.5L924.3 163.1L927.8 163.1L928.3 163.7" stroke="#9400d3" stroke-width="2.1" fill="none" stroke-linejoin="round" stroke-linecap="butt" />
<path d="M92.7 163.7L93.3 164.2L94.5 164.2L95.0 164.8L97.4 164.8L97.9 165.4L99.1 165.4L99.7 166.0L100.3 165.4L100.8 166.0L102.0 166.0L102.6 166.6L103.2 166.0L103.8 166.0L104.3 166.6L105.5 166.6L106.1 167.2L108.4 167.2L109.0 167.8L110.7 167.8L111.3 168.4L113.0 168.4L113.6 169.0L116.5 169.0L117.1 169.6L118.3 169.6L118.9 169.0L119.4 169.6L120.6 169.6L121.2 170.2L124.1 170.2L124.7 170.8L127.6 170.8L128.2 171.4L129.3 171.4L129.9 172.0L132.2 172.0L132.8 172.6L134.5 172.6L135.1 173.2L136.9 173.2L137.5 173.8L139.2 173.8L139.8 174.3L141.5 174.3L142.1 174.9L143.8 174.9L144.4 175.5L150.2 175.5L150.8 176.1L151.4 175.5L152.0 175.5L152.6 176.1L153.1 175.5L153.7 176.1L154.3 175.5L154.9 176.1L159.0 176.1L159.5 176.7L161.3 176.7L161.9 176.1L162.4 176.7L164.2 176.7L164.8 177.3L168.8 177.3L169.4 177.9L172.9 177.9L173.5 178.5L174.1 177.9L174.6 178.5L175.8 178.5L176.4 179.1L177.0 179.1L177.6 178.5L178.1 179.1L179.9 179.1L180.5 180.9L181.0 179.1L181.6 179.1L182.2 179.7L184.5 179.7L185.1 180.3L185.7 179.7L186.8 179.7L187.4 180.3L192.1 180.3L192.7 180.9L196.1 180.9L196.7 181.5L197.9 181.5L198.5 180.9L199.1 181.5L201.4 181.5L202.0 180.9L202.5 181.5L204.9 181.5L205.4 182.1L206.0 181.5L207.2 181.5L207.8 182.1L208.4 182.1L208.9 181.5L209.5 181.5L210.1 182.1L211.8 182.1L212.4 181.5L213.0 182.1L218.2 182.1L218.8 182.7L220.0 182.7L220.6 182.1L221.1 182.1L221.7 182.7L222.3 182.1L222.9 182.7L227.5 182.7L228.1 183.3L228.7 183.3L229.3 182.7L229.9 182.7L230.4 183.3L231.6 183.3L232.2 182.7L232.8 182.7L233.3 183.3L236.8 183.3L237.4 183.9L238.0 183.3L239.1 183.3L239.7 183.9L246.1 183.9L246.7 184.4L247.3 184.4L247.9 183.9L248.4 184.4L249.0 183.9L249.6 184.4L256.0 184.4L256.6 185.0L257.2 185.0L257.7 184.4L258.3 185.0L263.6 185.0L264.1 185.6L264.7 185.0L265.3 185.0L265.9 185.6L268.8 185.6L269.4 185.0L269.9 185.6L274.6 185.6L275.2 186.2L275.8 185.6L276.3 185.6L276.9 186.2L278.7 186.2L279.2 185.6L279.8 186.2L280.4 186.2L281.0 185.6L281.6 186.2L286.2 186.2L286.8 186.8L287.4 186.2L288.0 186.8L288.5 186.8L289.1 186.2L290.3 186.2L290.9 186.8L294.9 186.8L295.5 187.4L296.1 186.8L296.7 186.8L297.3 187.4L297.8 186.8L298.4 186.8L299.0 187.4L299.6 186.8L300.2 187.4L300.7 187.4L301.3 186.8L301.9 187.4L304.8 187.4L305.4 186.2L306.0 187.4L309.5 187.4L310.0 188.0L310.6 188.0L311.2 187.4L311.8 188.0L312.4 187.4L313.0 188.0L314.1 188.0L314.7 187.4L315.3 188.0L318.8 188.0L319.3 188.6L319.9 188.0L320.5 188.0L321.1 188.6L321.7 188.0L322.2 188.6L322.8 188.6L323.4 188.0L324.0 188.6L330.4 188.6L331.0 189.2L331.5 188.6L332.1 189.2L332.7 188.6L333.3 189.2L333.9 189.2L334.5 188.6L335.0 188.6L335.6 189.2L337.9 189.2L338.5 188.6L339.1 189.2L343.2 189.2L343.8 189.8L344.3 189.2L344.9 189.8L345.5 189.2L346.1 189.8L347.2 189.8L347.8 189.2L348.4 189.2L349.0 189.8L356.0 189.8L356.5 190.4L357.1 189.8L357.7 190.4L358.3 189.8L359.4 189.8L360.0 190.4L360.6 190.4L361.2 189.8L361.8 189.8L362.3 190.4L362.9 191.0L363.5 189.8L372.2 189.8L372.8 189.2L373.4 189.8L377.5 189.8L378.0 189.2L378.6 189.8L379.2 189.2L379.8 189.8L380.4 189.2L380.9 189.8L381.5 189.2L382.1 189.8L382.7 189.8L383.3 189.2L383.8 189.8L384.4 189.2L385.0 189.2L385.6 189.8L386.2 189.8L386.8 189.2L387.9 189.2L388.5 189.8L389.1 189.8L389.7 189.2L392.0 189.2L392.6 189.8L393.1 189.2L394.3 189.2L394.9 188.6L395.5 189.2L399.5 189.2L400.1 188.6L400.7 189.2L405.3 189.2L405.9 188.6L406.5 188.6L407.1 189.2L407.7 188.6L411.2 188.6L411.7 188.0L412.3 188.6L412.9 188.0L413.5 188.6L414.1 188.0L417.6 188.0L418.1 187.4L421.0 187.4L421.6 186.8L422.2 187.4L422.8 186.8L425.1 186.8L425.7 186.2L426.3 186.8L427.4 186.8L428.0 186.2L432.1 186.2L432.7 185.6L433.2 186.2L433.8 185.6L435.6 185.6L436.1 185.0L436.7 185.6L437.3 185.0L440.8 185.0L441.4 184.4L445.4 184.4L446.0 183.9L448.9 183.9L449.5 183.3L451.3 183.3L451.8 182.7L455.3 182.7L455.9 182.1L459.4 182.1L460.0 181.5L461.1 181.5L461.7 180.9L462.9 180.9L463.5 180.3L464.0 180.9L464.6 180.3L465.8 180.3L466.4 179.7L466.9 180.3L467.5 179.7L468.1 179.7L468.7 179.1L471.0 179.1L471.6 178.5L472.8 178.5L473.3 177.9L476.2 177.9L476.8 177.3L477.4 177.3L478.0 176.7L478.6 176.7L479.1 176.1L481.5 176.1L482.1 175.5L483.2 175.5L483.8 174.9L485.0 174.9L485.5 174.3L486.7 174.3L487.3 173.8L489.0 173.8L489.6 173.2L491.4 173.2L491.9 172.6L493.1 172.6L493.7 172.0L495.4 172.0L496.0 171.4L496.6 171.4L497.2 170.8L498.9 170.8L499.5 170.2L500.6 170.2L501.2 169.6L501.8 170.2L502.4 169.6L503.0 169.6L503.6 169.0L504.7 169.0L505.3 168.4L507.6 168.4L508.2 167.8L509.9 167.8L510.5 167.2L511.7 167.2L512.3 166.6L513.4 166.6L514.0 166.0L514.6 166.0L515.2 165.4L516.3 165.4L516.9 164.8L518.1 164.8L518.7 164.2L519.2 164.2L519.8 163.7L520.4 163.7L521.0 163.1L522.2 163.1L522.7 162.5L524.5 162.5L525.1 161.9L525.6 161.3L527.4 161.3L528.0 160.7L528.5 160.7L529.1 160.1L530.3 160.1L530.9 159.5L531.4 159.5L532.0 158.9L533.2 158.9L533.8 158.3L534.4 158.3L534.9 157.7L536.1 157.7L536.7 157.1L537.3 157.1L537.8 156.5L539.6 156.5L540.2 155.9L540.7 155.9L541.3 155.3L542.5 155.3L543.1 154.7L543.7 154.7L544.2 154.2L544.8 154.2L545.4 153.6L547.1 153.6L547.7 153.0L548.9 153.0L549.5 152.4L551.2 152.4L551.8 151.8L552.4 151.8L552.9 151.2L553.5 151.2L554.1 150.6L555.3 150.6L555.9 150.0L557.6 150.0L558.2 149.4L559.9 149.4L560.5 148.8L561.7 148.8L562.2 148.2L562.8 147.6L563.4 148.2L564.0 147.6L565.2 147.6L565.7 147.0L566.3 147.0L566.9 146.4L568.1 146.4L568.6 145.8L569.8 145.8L570.4 145.2L571.5 145.2L572.1 144.6L573.9 144.6L574.5 144.1L575.0 144.1L575.6 143.5L577.4 143.5L577.9 142.9L579.1 142.9L579.7 142.3L581.4 142.3L582.0 141.7L583.2 141.7L583.7 141.1L584.3 141.1L584.9 140.5L585.5 141.1L586.1 140.5L587.2 140.5L587.8 139.9L588.4 140.5L589.0 139.9L589.6 139.3L591.3 139.3L591.9 138.7L593.6 138.7L594.2 138.1L595.4 138.1L596.0 137.5L597.1 137.5L597.7 136.9L598.3 137.5L598.9 136.9L599.4 136.3L601.8 136.3L602.3 135.7L603.5 135.7L604.1 135.1L605.2 135.1L605.8 134.6L608.2 134.6L608.7 134.0L609.3 134.0L609.9 133.4L612.2 133.4L612.8 132.8L613.4 132.8L614.0 132.2L616.3 132.2L616.9 131.6L618.6 131.6L619.2 131.0L620.4 131.0L620.9 130.4L622.1 130.4L622.7 129.8L623.3 130.4L623.8 129.8L624.4 129.8L625.0 129.2L627.3 129.2L627.9 128.6L629.1 128.6L629.7 128.0L631.4 128.0L632.0 127.4L633.1 127.4L633.7 126.8L636.6 126.8L637.2 126.2L637.8 126.8L638.4 126.2L639.0 126.2L639.5 125.6L642.4 125.6L643.0 125.0L645.3 125.0L645.9 124.5L647.1 124.5L647.7 123.9L650.6 123.9L651.2 123.3L652.9 123.3L653.5 122.7L654.1 123.3L654.6 122.7L655.8 122.7L656.4 122.1L659.3 122.1L659.9 121.5L662.8 121.5L663.4 120.9L666.3 120.9L666.8 120.3L669.2 120.3L669.8 119.7L672.1 119.7L672.7 119.1L673.2 119.7L673.8 119.1L677.3 119.1L677.9 118.5L678.5 118.5L679.1 119.1L679.6 119.1L680.2 118.5L681.4 118.5L682.0 117.9L682.5 117.9L683.1 118.5L683.7 117.9L685.4 117.9L686.0 117.3L686.6 117.9L687.2 117.3L689.5 117.3L690.1 117.9L690.7 117.3L691.3 116.7L694.2 116.7L694.7 115.5L695.3 116.7L697.1 116.7L697.6 116.1L700.6 116.1L701.1 115.5L702.3 115.5L702.9 116.1L703.5 115.5L705.8 115.5L706.4 116.1L706.9 115.5L712.8 115.5L713.3 116.1L713.9 115.5L715.7 115.5L716.2 116.1L716.8 115.5L729.6 115.5L730.2 116.1L730.8 116.1L731.4 115.5L731.9 116.1L732.5 116.1L733.1 115.5L733.7 116.1L734.3 116.1L734.8 115.5L735.4 116.1L738.9 116.1L739.5 115.5L740.1 115.5L740.6 116.1L746.5 116.1L747.0 115.5L747.6 116.1L756.3 116.1L756.9 116.7L760.4 116.7L761.0 117.3L763.9 117.3L764.5 117.9L765.1 117.3L765.6 117.9L768.0 117.9L768.5 118.5L772.0 118.5L772.6 119.1L774.4 119.1L774.9 119.7L775.5 119.1L776.1 119.7L779.0 119.7L779.6 120.3L781.3 120.3L781.9 120.9L782.5 120.3L783.1 120.3L783.7 120.9L784.2 120.9L784.8 121.5L785.4 120.9L786.0 120.9L786.6 121.5L788.9 121.5L789.5 122.1L791.8 122.1L792.4 122.7L795.3 122.7L795.9 123.3L797.0 123.3L797.6 122.7L798.8 122.7L799.3 123.3L804.0 123.3L804.6 123.9L806.3 123.9L806.9 124.5L807.5 123.9L808.1 123.9L808.6 124.5L809.2 125.0L809.8 124.5L810.4 124.5L811.0 125.0L813.3 125.0L813.9 125.6L815.0 125.6L815.6 126.2L817.9 126.2L818.5 126.8L821.4 126.8L822.0 127.4L823.7 127.4L824.3 128.0L824.9 127.4L825.5 128.0L826.1 128.6L828.4 128.6L829.0 129.2L830.1 129.2L830.7 129.8L831.9 129.8L832.5 130.4L834.2 130.4L834.8 131.0L836.5 131.0L837.1 131.6L837.7 131.6L838.3 132.2L839.4 132.2L840.0 132.8L842.3 132.8L842.9 133.4L844.7 133.4L845.2 134.0L846.4 134.0L847.0 134.6L848.2 134.6L848.7 135.1L850.5 135.1L851.1 135.7L852.2 135.7L852.8 136.3L855.1 136.3L855.7 136.9L857.5 136.9L858.0 137.5L859.2 137.5L859.8 138.1L860.9 138.1L861.5 138.7L863.8 138.7L864.4 139.3L866.2 139.3L866.8 139.9L867.9 139.9L868.5 139.3L876.0 139.3L876.6 138.7L877.2 138.7L877.8 139.3L880.1 139.3L880.7 138.7" stroke="#009e73" stroke-width="2.1" fill="none" stroke-linejoin="round" stroke-linecap="butt" />
<path d="M92.7 152.4L93.3 153.0L97.9 153.0L98.5 153.6L99.1 153.0L100.3 153.0L100.8 153.6L107.2 153.6L107.8 154.2L108.4 154.2L109.0 153.6L109.6 154.2L114.2 154.2L114.8 154.7L115.4 154.2L116.0 154.7L117.7 154.7L118.3 154.2L118.9 154.7L124.7 154.7L125.3 155.3L128.7 155.3L129.3 155.9L129.9 155.3L131.1 155.3L131.6 155.9L136.3 155.9L136.9 156.5L137.5 155.9L138.0 155.9L138.6 156.5L143.8 156.5L144.4 155.9L145.0 157.1L149.7 157.1L150.2 157.7L150.8 157.1L151.4 157.7L155.5 157.7L156.1 158.3L156.6 158.3L157.2 157.7L157.8 158.3L162.4 158.3L163.0 158.9L167.7 158.9L168.3 159.5L168.8 159.5L169.4 158.9L170.0 158.9L170.6 159.5L175.2 159.5L175.8 160.1L176.4 159.5L177.0 159.5L177.6 160.1L179.3 160.1L179.9 160.7L180.5 160.1L181.0 160.7L187.4 160.7L188.0 161.3L188.6 160.7L189.2 161.3L193.8 161.3L194.4 161.9L195.0 161.3L195.6 161.9L202.0 161.9L202.5 162.5L207.8 162.5L208.4 163.1L208.9 162.5L209.5 163.1L214.7 163.1L215.3 163.7L215.9 163.7L216.5 163.1L217.1 163.7L221.7 163.7L222.3 164.2L222.9 163.7L223.5 163.7L224.0 164.2L225.8 164.2L226.4 164.8L226.9 164.2L229.9 164.2L230.4 164.8L235.7 164.8L236.2 165.4L240.9 165.4L241.5 166.0L242.1 165.4L242.6 166.0L247.3 166.0L247.9 166.6L248.4 166.0L249.0 166.0L249.6 166.6L253.1 166.6L253.7 167.2L260.1 167.2L260.7 167.8L261.2 167.2L261.8 167.2L262.4 167.8L267.6 167.8L268.2 168.4L270.5 168.4L271.1 167.2L271.7 168.4L272.3 168.4L272.9 169.0L273.4 168.4L274.0 169.0L274.6 168.4L275.2 168.4L275.8 169.0L276.3 168.4L276.9 169.0L280.4 169.0L281.0 169.6L281.6 169.6L282.2 169.0L282.7 169.6L288.0 169.6L288.5 170.2L290.3 170.2L290.9 169.6L291.4 170.2L294.9 170.2L295.5 170.8L296.1 170.2L296.7 170.2L297.3 170.8L299.0 170.8L299.6 170.2L300.2 170.8L304.2 170.8L304.8 171.4L311.8 171.4L312.4 172.0L313.0 171.4L313.5 171.4L314.1 172.0L314.7 172.0L315.3 171.4L315.9 172.0L321.7 172.0L322.2 172.6L322.8 172.0L323.4 172.0L324.0 172.6L326.3 172.6L326.9 173.8L327.5 172.6L328.6 172.6L329.2 173.2L335.6 173.2L336.2 173.8L336.8 173.2L337.4 173.8L337.9 173.2L338.5 173.8L339.1 173.2L339.7 173.2L340.3 173.8L342.6 173.8L343.2 173.2L343.8 173.8L344.3 173.8L344.9 173.2L345.5 173.8L352.5 173.8L353.0 173.2L353.6 173.8L355.4 173.8L356.0 174.3L356.5 173.8L357.1 174.3L357.7 173.8L361.2 173.8L361.8 174.3L362.3 173.8L362.9 174.3L363.5 174.3L364.1 173.8L365.3 173.8L365.8 174.3L375.1 174.3L375.7 173.8L376.3 174.3L393.7 174.3L394.3 173.8L394.9 174.3L398.4 174.3L399.0 173.8L399.5 174.3L412.3 174.3L412.9 173.8L413.5 174.3L414.1 173.8L414.6 174.3L416.4 174.3L417.0 173.8L418.7 173.8L419.3 174.3L422.8 174.3L423.4 173.8L423.9 174.3L424.5 174.3L425.1 173.8L425.7 173.8L426.3 174.3L426.8 173.8L427.4 173.8L428.0 174.3L428.6 174.3L429.2 173.8L431.5 173.8L432.1 172.6L432.7 173.8L439.6 173.8L440.2 174.3L440.8 173.8L446.6 173.8L447.2 173.2L454.7 173.2L455.3 172.6L455.9 173.2L458.8 173.2L459.4 172.6L462.3 172.6L462.9 172.0L464.0 172.0L464.6 171.4L467.5 171.4L468.1 170.8L470.4 170.8L471.0 170.2L473.3 170.2L473.9 169.6L478.0 169.6L478.6 169.0L479.1 169.0L479.7 168.4L480.3 168.4L480.9 167.2L481.5 168.4L482.6 168.4L483.2 167.8L483.8 168.4L484.4 167.8L485.5 167.8L486.1 167.2L488.4 167.2L489.0 166.6L491.9 166.6L492.5 166.0L494.8 166.0L495.4 165.4L497.7 165.4L498.3 164.8L500.6 164.8L501.2 164.2L503.0 164.2L503.6 163.7L505.9 163.7L506.5 163.1L507.0 163.1L507.6 163.7L508.2 163.1L508.8 163.1L509.4 162.5L511.1 162.5L511.7 161.9L513.4 161.9L514.0 161.3L516.9 161.3L517.5 160.7L518.7 160.7L519.2 160.1L521.0 160.1L521.6 159.5L523.3 159.5L523.9 158.9L526.8 158.9L527.4 158.3L528.0 157.7L528.5 158.3L529.1 157.7L530.9 157.7L531.4 157.1L533.2 157.1L533.8 156.5L534.9 156.5L535.5 155.9L536.1 156.5L536.7 155.9L538.4 155.9L539.0 155.3L540.7 155.3L541.3 154.7L542.5 154.7L543.1 154.2L545.4 154.2L546.0 153.6L547.7 153.6L548.3 153.0L548.9 153.0L549.5 152.4L552.4 152.4L552.9 151.8L554.7 151.8L555.3 151.2L556.4 151.2L557.0 150.6L557.6 151.2L558.2 150.6L559.3 150.6L559.9 150.0L561.1 150.0L561.7 149.4L564.6 149.4L565.2 148.8L565.7 148.2L567.5 148.2L568.1 147.6L570.4 147.6L571.0 147.0L572.7 147.0L573.3 146.4L575.0 146.4L575.6 145.8L577.4 145.8L577.9 146.4L578.5 145.2L580.3 145.2L580.8 144.6L582.6 144.6L583.2 144.1L585.5 144.1L586.1 143.5L589.6 143.5L590.1 142.9L590.7 142.9L591.3 142.3L591.9 142.9L593.0 142.9L593.6 142.3L595.4 142.3L596.0 141.7L598.3 141.7L598.9 141.1L602.3 141.1L602.9 140.5L605.2 140.5L605.8 139.9L606.4 141.7L607.0 139.9L608.7 139.9L609.3 139.3L612.2 139.3L612.8 138.7L615.1 138.7L615.7 138.1L618.6 138.1L619.2 137.5L619.8 137.5L620.4 138.1L620.9 137.5L621.5 137.5L622.1 136.9L622.7 137.5L623.3 137.5L623.8 136.9L626.8 136.9L627.3 136.3L627.9 136.3L628.5 135.7L629.1 136.3L629.7 135.7L633.1 135.7L633.7 135.1L635.5 135.1L636.0 134.6L636.6 135.1L637.2 134.6L640.7 134.6L641.3 134.0L643.6 134.0L644.2 133.4L647.1 133.4L647.7 132.8L651.7 132.8L652.3 132.2L655.8 132.2L656.4 131.6L657.0 132.2L657.5 131.6L660.5 131.6L661.0 131.0L665.1 131.0L665.7 130.4L669.8 130.4L670.3 129.8L673.2 129.8L673.8 129.2L674.4 129.8L675.0 129.2L677.9 129.2L678.5 130.4L679.1 129.2L679.6 129.2L680.2 128.6L680.8 129.2L681.4 128.6L685.4 128.6L686.0 128.0L686.6 128.0L687.2 128.6L687.8 128.0L695.9 128.0L696.5 127.4L703.5 127.4L704.0 126.8L704.6 127.4L705.2 127.4L705.8 126.8L706.4 127.4L708.1 127.4L708.7 126.8L710.4 126.8L711.0 127.4L711.6 126.8L715.7 126.8L716.2 127.4L716.8 126.8L722.6 126.8L723.2 126.2L723.8 126.8L726.1 126.8L726.7 126.2L727.3 126.8L727.9 126.8L728.4 126.2L729.0 126.8L730.8 126.8L731.4 126.2L731.9 126.8L732.5 126.2L745.9 126.2L746.5 126.8L747.0 126.8L747.6 126.2L748.8 126.2L749.4 126.8L769.7 126.8L770.3 126.2L770.9 126.8L774.9 126.8L775.5 128.6L776.1 127.4L776.7 126.8L777.8 126.8L778.4 127.4L779.0 126.8L779.6 127.4L785.4 127.4L786.0 128.0L786.6 127.4L787.7 127.4L788.3 128.0L789.5 128.0L790.0 127.4L790.6 128.0L795.9 128.0L796.4 128.6L800.5 128.6L801.1 129.2L801.7 128.6L802.2 129.2L808.1 129.2L808.6 129.8L812.7 129.8L813.3 130.4L817.9 130.4L818.5 131.0L819.1 130.4L819.7 131.0L822.6 131.0L823.2 131.6L825.5 131.6L826.1 132.2L826.7 131.6L829.0 131.6L829.6 132.2L831.3 132.2L831.9 131.6L832.5 132.2L838.3 132.2L838.9 132.8L839.4 132.2L841.2 132.2L841.8 132.8L842.3 132.8L842.9 132.2L843.5 132.2L844.1 132.8L846.4 132.8L847.0 133.4L847.6 132.8L849.3 132.8L849.9 133.4L850.5 133.4L851.1 132.8L851.6 133.4L854.0 133.4L854.5 134.0L855.1 134.0L855.7 133.4L856.3 133.4L856.9 134.0L858.6 134.0L859.2 132.8L859.8 134.6L862.1 134.6L862.7 135.1L863.3 134.6L863.8 135.1L869.1 135.1L869.7 135.7L872.6 135.7L873.1 137.5L873.7 135.7L874.3 136.3L880.7 136.3L881.3 136.9" stroke="#56b4e9" stroke-width="2.1" fill="none" stroke-linejoin="round" stroke-linecap="butt" />
<path d="M92.7 142.3L96.8 142.3L97.4 142.9L97.9 142.3L101.4 142.3L102.0 141.7L102.6 142.3L104.9 142.3L105.5 141.7L106.1 142.3L108.4 142.3L109.0 141.7L109.6 142.3L119.4 142.3L120.0 141.7L120.6 142.3L123.5 142.3L124.1 141.7L124.7 142.3L125.3 142.3L125.8 141.7L126.4 142.3L127.0 141.7L127.6 141.7L128.2 142.3L129.9 142.3L130.5 141.7L131.1 142.3L134.0 142.3L134.5 141.7L135.1 142.3L137.5 142.3L138.0 141.7L138.6 142.3L140.9 142.3L141.5 141.7L142.1 141.7L142.7 142.3L143.8 142.3L144.4 141.7L145.0 142.3L146.2 142.3L146.8 141.7L147.3 142.3L147.9 141.7L148.5 142.3L152.0 142.3L152.6 141.7L153.1 142.3L153.7 141.7L154.3 141.7L154.9 142.3L155.5 141.7L156.1 142.3L156.6 142.3L157.2 141.7L157.8 142.3L158.4 141.7L159.0 142.3L160.7 142.3L161.3 141.7L161.9 141.7L162.4 142.3L163.6 142.3L164.2 141.7L164.8 142.3L165.3 141.7L165.9 142.3L166.5 142.3L167.1 141.7L167.7 142.3L168.8 142.3L169.4 141.7L170.0 142.3L170.6 141.7L171.2 142.3L171.7 142.3L172.3 141.7L172.9 141.7L173.5 142.3L174.1 141.7L174.6 141.7L175.2 142.3L175.8 141.7L176.4 142.3L177.6 142.3L178.1 141.7L178.7 141.7L179.3 142.3L179.9 141.7L180.5 142.3L181.0 142.3L181.6 141.7L183.4 141.7L183.9 142.3L184.5 141.7L185.1 141.1L185.7 141.7L186.8 141.7L187.4 142.3L188.0 141.7L190.9 141.7L191.5 142.3L192.1 141.7L192.7 142.3L193.2 142.3L193.8 141.7L197.9 141.7L198.5 142.3L199.1 141.7L206.6 141.7L207.2 142.3L207.8 141.7L217.6 141.7L218.2 142.3L218.8 141.7L223.5 141.7L224.0 141.1L224.6 141.7L229.3 141.7L229.9 141.1L230.4 141.1L231.0 141.7L235.1 141.7L235.7 141.1L236.2 141.1L236.8 141.7L237.4 141.1L238.6 141.1L239.1 141.7L239.7 141.7L240.3 139.9L240.9 141.1L241.5 141.1L242.1 141.7L242.6 141.1L243.2 141.1L243.8 141.7L244.4 141.7L245.0 141.1L249.0 141.1L249.6 141.7L250.2 141.7L250.8 141.1L254.8 141.1L255.4 140.5L256.0 141.1L257.2 141.1L257.7 140.5L258.3 141.1L258.9 140.5L259.5 141.1L260.1 140.5L260.7 141.1L261.2 140.5L261.8 141.1L262.4 141.1L263.0 140.5L263.6 141.1L264.7 141.1L265.3 140.5L265.9 140.5L266.5 141.7L267.0 141.1L267.6 141.7L268.2 140.5L268.8 140.5L269.4 141.1L269.9 140.5L270.5 141.1L271.1 140.5L271.7 140.5L272.3 141.1L272.9 140.5L273.4 140.5L274.0 141.1L274.6 140.5L276.9 140.5L277.5 141.1L278.1 140.5L286.2 140.5L286.8 139.9L287.4 140.5L289.1 140.5L289.7 139.9L290.3 140.5L292.6 140.5L293.2 139.9L293.8 139.9L294.4 140.5L294.9 140.5L295.5 139.9L296.1 140.5L296.7 139.9L302.5 139.9L303.1 140.5L303.7 139.9L304.2 139.9L304.8 140.5L305.4 140.5L306.0 139.9L306.6 140.5L307.1 140.5L307.7 139.9L308.3 140.5L313.0 140.5L313.5 139.9L314.1 140.5L324.0 140.5L324.6 141.1L326.3 141.1L326.9 140.5L327.5 140.5L328.1 141.1L329.8 141.1L330.4 140.5L332.1 140.5L332.7 141.1L343.2 141.1L343.8 141.7L344.3 141.1L351.9 141.1L352.5 140.5L353.0 141.1L358.9 141.1L359.4 140.5L360.0 141.1L360.6 141.1L361.2 140.5L361.8 141.1L376.3 141.1L376.9 140.5L377.5 141.1L379.8 141.1L380.4 140.5L380.9 141.1L384.4 141.1L385.0 140.5L386.2 140.5L386.8 141.1L387.9 141.1L388.5 140.5L389.7 140.5L390.2 141.1L390.8 141.1L391.4 140.5L392.0 141.1L392.6 140.5L393.7 140.5L394.3 141.1L394.9 140.5L395.5 140.5L396.0 141.1L396.6 140.5L399.0 140.5L399.5 141.1L400.1 140.5L400.7 141.1L401.3 140.5L407.7 140.5L408.3 141.1L408.8 139.9L409.4 140.5L412.9 140.5L413.5 139.9L414.1 140.5L416.4 140.5L417.0 139.9L418.1 139.9L418.7 140.5L419.3 139.9L419.9 139.9L420.5 140.5L421.0 140.5L421.6 139.9L423.9 139.9L424.5 140.5L425.1 139.9L430.3 139.9L430.9 139.3L431.5 139.9L432.7 139.9L433.2 139.3L433.8 139.9L434.4 139.9L435.0 139.3L435.6 139.9L438.5 139.9L439.1 139.3L439.6 139.9L441.4 139.9L442.0 139.3L442.5 139.9L443.1 139.3L443.7 139.9L444.3 139.9L444.9 139.3L445.4 139.3L446.0 139.9L446.6 139.9L447.2 139.3L447.8 139.3L448.3 139.9L448.9 139.3L449.5 139.3L450.1 139.9L450.7 139.3L451.3 139.9L451.8 139.3L469.3 139.3L469.9 138.7L470.4 139.3L471.0 138.7L471.6 139.3L472.2 138.7L472.8 139.3L473.3 138.7L474.5 138.7L475.1 139.3L476.8 139.3L477.4 138.7L479.7 138.7L480.3 138.1L481.5 138.1L482.1 138.7L482.6 138.7L483.2 138.1L487.3 138.1L487.9 137.5L493.1 137.5L493.7 136.9L494.3 137.5L495.4 137.5L496.0 136.9L498.9 136.9L499.5 136.3L503.0 136.3L503.6 135.7L504.1 136.3L504.7 136.3L505.3 135.7L505.9 135.7L506.5 135.1L507.0 135.7L508.8 135.7L509.4 135.1L509.9 135.7L510.5 135.1L515.2 135.1L515.8 134.6L516.3 135.1L516.9 134.6L517.5 135.1L518.1 134.6L520.4 134.6L521.0 134.0L521.6 134.6L523.9 134.6L524.5 134.0L525.1 134.6L525.6 134.6L526.2 134.0L530.3 134.0L530.9 133.4L531.4 134.0L532.0 133.4L537.8 133.4L538.4 132.8L539.0 133.4L539.6 132.8L540.2 132.8L540.7 133.4L541.3 133.4L541.9 132.8L542.5 132.2L543.1 132.8L546.0 132.8L546.6 132.2L557.0 132.2L557.6 131.6L564.0 131.6L564.6 131.0L565.7 131.0L566.3 131.6L567.5 131.6L568.1 131.0L569.8 131.0L570.4 131.6L571.0 131.0L572.1 131.0L572.7 131.6L573.3 131.0L576.8 131.0L577.4 130.4L577.9 131.0L578.5 130.4L589.6 130.4L590.1 129.8L590.7 130.4L592.5 130.4L593.0 129.8L593.6 130.4L594.2 130.4L594.8 129.8L595.4 130.4L596.0 129.8L597.1 129.8L597.7 130.4L600.0 130.4L600.6 129.8L601.2 130.4L601.8 129.8L602.3 130.4L603.5 130.4L604.1 129.8L604.7 130.4L605.2 129.8L605.8 130.4L606.4 129.8L607.0 129.8L607.6 130.4L608.2 129.8L609.3 129.8L609.9 130.4L610.5 129.8L611.1 130.4L611.6 129.8L612.2 129.8L612.8 130.4L613.4 129.8L614.5 129.8L615.1 130.4L615.7 130.4L616.3 128.6L616.9 129.8L622.1 129.8L622.7 130.4L623.8 130.4L624.4 129.8L626.8 129.8L627.3 130.4L627.9 129.8L628.5 129.8L629.1 130.4L629.7 130.4L630.2 129.8L630.8 130.4L632.6 130.4L633.1 129.8L633.7 129.8L634.3 130.4L634.9 129.8L635.5 130.4L644.8 130.4L645.3 129.8L645.9 130.4L651.2 130.4L651.7 131.0L652.3 130.4L654.6 130.4L655.2 131.0L655.8 130.4L656.4 131.0L657.0 131.0L657.5 130.4L658.1 131.0L659.9 131.0L660.5 130.4L661.0 131.0L661.6 131.0L662.2 130.4L662.8 131.0L663.4 130.4L663.9 131.0L665.1 131.0L665.7 130.4L666.3 131.0L671.5 131.0L672.1 131.6L672.7 131.6L673.2 131.0L674.4 131.0L675.0 131.6L675.6 131.0L676.1 131.6L676.7 131.0L679.1 131.0L679.6 131.6L680.8 131.6L681.4 131.0L682.0 131.0L682.5 131.6L693.0 131.6L693.6 132.2L694.2 132.2L694.7 131.6L695.3 132.2L695.9 132.2L696.5 131.6L697.1 131.6L697.6 132.2L698.2 131.6L700.0 131.6L700.6 132.2L701.1 131.6L701.7 132.2L708.7 132.2L709.3 131.0L709.9 132.2L710.4 132.8L711.0 132.2L712.8 132.2L713.3 132.8L714.5 132.8L715.1 132.2L716.8 132.2L717.4 132.8L718.0 132.2L718.6 132.2L719.1 132.8L720.9 132.8L721.5 132.2L722.1 132.8L729.0 132.8L729.6 133.4L730.2 132.8L733.7 132.8L734.3 132.2L734.8 131.0L735.4 133.4L736.0 132.8L738.3 132.8L738.9 132.2L739.5 132.8L743.6 132.8L744.1 133.4L744.7 133.4L745.3 132.8L745.9 132.8L746.5 133.4L747.0 132.8L748.2 132.8L748.8 133.4L749.4 132.8L749.9 133.4L750.5 132.8L751.1 133.4L751.7 133.4L752.3 132.8L753.4 132.8L754.0 133.4L754.6 133.4L755.2 132.8L755.8 133.4L756.3 133.4L756.9 132.8L757.5 132.8L758.1 133.4L758.7 133.4L759.2 132.8L759.8 133.4L760.4 132.8L769.1 132.8L769.7 131.6L770.3 132.8L772.0 132.8L772.6 132.2L773.2 132.8L773.8 132.2L778.4 132.2L779.0 131.6L780.2 131.6L780.7 132.2L781.3 131.6L782.5 131.6L783.1 131.0L784.2 131.0L784.8 131.6L785.4 131.0L786.6 131.0L787.1 130.4L787.7 130.4L788.3 131.0L788.9 130.4L795.3 130.4L795.9 129.8L804.0 129.8L804.6 129.2L805.2 129.8L806.9 129.8L807.5 129.2L814.4 129.2L815.0 128.6L815.6 129.2L816.2 128.6L826.1 128.6L826.7 128.0L829.0 128.0L829.6 128.6L830.1 128.0L834.8 128.0L835.4 127.4L836.0 127.4L836.5 128.0L837.1 127.4L837.7 128.0L838.3 127.4L842.3 127.4L842.9 126.8L843.5 127.4L850.5 127.4L851.1 126.8L851.6 127.4L852.2 127.4L852.8 126.8L855.1 126.8L855.7 127.4L856.3 127.4L856.9 126.8L857.5 126.8L858.0 126.2L858.6 126.8L859.2 126.2L862.1 126.2L862.7 126.8L863.3 126.2L863.8 126.2L864.4 126.8L865.0 126.2L865.6 126.2L866.2 126.8L866.8 126.2L867.3 126.8L867.9 126.8L868.5 126.2L871.4 126.2L872.0 126.8L872.6 126.2L873.1 126.8L878.4 126.8L879.0 127.4L879.5 126.8L880.1 127.4L880.7 127.4L881.3 126.8L881.9 127.4L883.6 127.4L884.2 128.0L884.8 127.4L885.3 128.0L885.9 127.4L886.5 127.4L887.1 128.0L887.7 128.0L888.3 127.4L888.8 128.0L889.4 127.4L890.0 128.0L895.8 128.0L896.4 128.6L897.0 128.0L897.5 128.0L898.1 128.6L898.7 128.0L899.3 128.6L899.9 128.0L900.5 128.6L902.8 128.6L903.4 128.0L903.9 128.6L909.2 128.6L909.8 129.2L910.9 129.2L911.5 128.6L913.8 128.6L914.4 129.2L915.0 129.2L915.6 128.6L916.1 129.2L917.9 129.2L918.5 128.6L919.1 128.6L919.6 129.2L920.8 129.2L921.4 128.6L923.7 128.6L924.3 129.2L924.9 129.2L925.4 128.6L926.0 129.2L926.6 128.6L928.3 128.6" stroke="#e69f00" stroke-width="2.1" fill="none" stroke-linejoin="round" stroke-linecap="butt" />
<path d="M92.7 132.8L93.3 132.8L93.9 132.2L94.5 132.2L95.0 131.6L97.9 131.6L98.5 131.0L100.3 131.0L100.8 130.4L102.6 130.4L103.2 129.8L104.9 129.8L105.5 129.2L109.6 129.2L110.1 128.6L114.8 128.6L115.4 128.0L116.0 128.6L118.9 128.6L119.4 128.0L120.0 128.6L126.4 128.6L127.0 128.0L127.6 128.6L128.2 128.6L128.7 128.0L129.3 128.6L129.9 128.6L130.5 128.0L131.1 128.0L131.6 128.6L132.2 128.0L132.8 128.6L133.4 128.0L134.0 128.6L134.5 128.0L135.7 128.0L136.3 128.6L136.9 128.0L137.5 128.0L138.0 128.6L139.2 128.6L139.8 128.0L140.4 128.0L140.9 128.6L141.5 128.6L142.1 128.0L142.7 128.0L143.3 128.6L143.8 128.0L144.4 128.6L145.6 128.6L146.2 128.0L148.5 128.0L149.1 128.6L150.2 128.6L150.8 128.0L151.4 128.6L152.0 128.6L152.6 128.0L153.1 128.6L153.7 128.6L154.3 128.0L154.9 128.6L156.1 128.6L156.6 128.0L157.8 128.0L158.4 128.6L159.5 128.6L160.1 128.0L160.7 128.0L161.3 128.6L162.4 128.6L163.0 128.0L163.6 128.0L164.2 128.6L164.8 128.0L165.3 128.6L166.5 128.6L167.1 128.0L167.7 128.0L168.3 128.6L168.8 128.0L169.4 128.6L170.0 128.0L171.2 128.0L171.7 128.6L172.3 128.0L172.9 128.6L174.1 128.6L174.6 128.0L175.8 128.0L176.4 128.6L177.0 128.6L177.6 128.0L178.7 128.0L179.3 128.6L179.9 128.6L180.5 128.0L181.0 128.6L182.2 128.6L182.8 128.0L185.1 128.0L185.7 128.6L186.3 128.6L186.8 128.0L187.4 128.0L188.0 128.6L189.8 128.6L190.3 128.0L190.9 128.0L191.5 128.6L192.1 128.0L192.7 128.6L195.0 128.6L195.6 128.0L196.1 128.6L196.7 128.0L197.3 128.6L197.9 128.0L198.5 128.6L199.1 128.6L199.6 128.0L200.8 128.0L201.4 128.6L202.0 128.6L202.5 128.0L203.1 128.6L203.7 128.0L204.3 128.6L204.9 128.6L205.4 128.0L206.0 128.6L206.6 128.0L207.2 128.6L207.8 128.0L208.4 128.6L211.8 128.6L212.4 127.4L213.0 129.2L216.5 129.2L217.1 128.6L217.6 129.8L218.2 129.2L219.4 129.2L220.0 129.8L220.6 129.2L221.1 129.8L225.2 129.8L225.8 129.2L226.4 129.8L233.9 129.8L234.5 130.4L235.1 130.4L235.7 129.8L239.1 129.8L239.7 130.4L240.3 129.8L241.5 129.8L242.1 130.4L242.6 129.8L245.5 129.8L246.1 130.4L246.7 129.8L248.4 129.8L249.0 130.4L249.6 129.8L250.2 130.4L250.8 129.8L253.1 129.8L253.7 130.4L254.3 129.8L256.6 129.8L257.2 130.4L257.7 129.8L267.6 129.8L268.2 130.4L268.8 130.4L269.4 129.8L272.9 129.8L273.4 130.4L274.0 129.8L282.7 129.8L283.3 130.4L283.9 129.8L284.5 130.4L285.1 129.8L290.9 129.8L291.4 130.4L292.0 129.8L297.3 129.8L297.8 128.6L298.4 129.8L303.7 129.8L304.2 130.4L304.8 130.4L305.4 129.8L307.1 129.8L307.7 130.4L308.9 130.4L309.5 129.8L310.0 129.8L310.6 130.4L311.2 129.8L311.8 130.4L314.1 130.4L314.7 129.8L315.3 129.8L315.9 130.4L317.6 130.4L318.2 129.8L318.8 130.4L323.4 130.4L324.0 129.8L324.6 129.8L325.2 130.4L329.2 130.4L329.8 129.8L330.4 130.4L337.9 130.4L338.5 131.0L339.1 130.4L344.9 130.4L345.5 131.0L346.1 131.0L346.7 130.4L348.4 130.4L349.0 131.0L349.6 130.4L350.1 131.0L350.7 130.4L351.3 131.0L351.9 131.0L352.5 130.4L353.0 131.0L354.2 131.0L354.8 130.4L355.4 131.0L356.0 131.0L356.5 130.4L357.1 131.0L357.7 131.0L358.3 130.4L358.9 131.0L364.1 131.0L364.7 130.4L365.3 131.0L365.8 130.4L366.4 130.4L367.0 131.0L368.2 131.0L368.7 131.6L369.3 131.0L379.2 131.0L379.8 130.4L380.4 131.0L385.0 131.0L385.6 129.8L386.2 131.6L386.8 131.0L407.7 131.0L408.3 130.4L408.8 131.0L409.4 130.4L410.0 131.0L411.7 131.0L412.3 130.4L412.9 131.0L414.1 131.0L414.6 130.4L415.2 131.0L415.8 130.4L416.4 131.0L417.0 130.4L423.9 130.4L424.5 129.8L425.1 129.8L425.7 130.4L426.3 129.8L426.8 129.8L427.4 130.4L428.0 129.8L429.8 129.8L430.3 130.4L430.9 129.8L436.7 129.8L437.3 129.2L437.9 129.8L438.5 129.8L439.1 129.2L439.6 129.8L440.2 129.2L440.8 129.8L441.4 129.8L442.0 129.2L442.5 129.2L443.1 129.8L443.7 129.2L444.3 128.6L444.9 129.2L445.4 129.2L446.0 128.6L446.6 129.2L447.2 128.6L450.7 128.6L451.3 128.0L454.2 128.0L454.7 127.4L455.3 128.0L455.9 128.0L456.5 127.4L458.2 127.4L458.8 126.8L459.4 127.4L461.1 127.4L461.7 126.8L464.0 126.8L464.6 126.2L465.2 126.2L465.8 126.8L466.4 126.2L469.9 126.2L470.4 125.6L471.0 126.2L471.6 125.6L472.2 125.6L472.8 125.0L473.3 125.6L474.5 125.6L475.1 125.0L478.6 125.0L479.1 124.5L479.7 125.0L480.3 125.0L480.9 124.5L482.6 124.5L483.2 123.9L483.8 124.5L484.4 123.9L485.0 124.5L486.1 124.5L486.7 123.9L487.3 123.9L487.9 124.5L488.4 123.9L490.8 123.9L491.4 123.3L491.9 123.3L492.5 123.9L493.1 123.3L496.0 123.3L496.6 122.7L497.2 122.7L497.7 123.3L498.3 123.3L498.9 122.7L501.8 122.7L502.4 122.1L507.0 122.1L507.6 121.5L508.2 121.5L508.8 122.1L509.4 121.5L513.4 121.5L514.0 120.9L515.8 120.9L516.3 120.3L516.9 120.9L517.5 120.3L519.2 120.3L519.8 119.7L520.4 120.3L521.0 119.7L521.6 120.3L522.2 119.7L524.5 119.7L525.1 119.1L526.2 119.1L526.8 119.7L527.4 118.5L528.0 119.1L528.5 119.1L529.1 120.3L529.7 118.5L531.4 118.5L532.0 117.9L532.6 118.5L533.2 117.9L536.7 117.9L537.3 117.3L539.0 117.3L539.6 116.7L540.2 117.3L540.7 116.7L544.2 116.7L544.8 116.1L548.9 116.1L549.5 115.5L551.2 115.5L551.8 114.9L554.1 114.9L554.7 114.4L555.3 114.9L555.9 114.4L557.6 114.4L558.2 113.8L558.8 114.4L559.3 113.8L562.2 113.8L562.8 113.2L563.4 113.2L564.0 112.6L564.6 113.2L565.7 113.2L566.3 112.6L568.6 112.6L569.2 112.0L569.8 112.0L570.4 112.6L571.0 112.0L572.7 112.0L573.3 111.4L575.6 111.4L576.2 110.8L580.3 110.8L580.8 110.2L584.3 110.2L584.9 109.6L585.5 110.2L586.1 110.2L586.7 109.6L588.4 109.6L589.0 109.0L589.6 109.6L590.7 109.6L591.3 109.0L591.9 109.6L592.5 109.0L593.0 109.6L593.6 109.0L594.8 109.0L595.4 108.4L596.0 108.4L596.5 109.0L597.1 108.4L600.6 108.4L601.2 107.8L601.8 108.4L602.3 108.4L602.9 107.8L606.4 107.8L607.0 107.2L607.6 107.8L608.2 107.8L608.7 107.2L612.2 107.2L612.8 106.6L616.9 106.6L617.5 106.0L618.0 106.6L619.2 106.6L619.8 106.0L620.9 106.0L621.5 106.6L622.1 106.0L623.3 106.0L623.8 105.4L624.4 106.6L625.0 105.4L626.2 105.4L626.8 106.0L627.3 105.4L632.0 105.4L632.6 104.8L633.1 105.4L633.7 104.8L638.4 104.8L639.0 104.3L642.4 104.3L643.0 103.7L643.6 104.3L644.2 104.3L644.8 103.7L648.8 103.7L649.4 103.1L655.8 103.1L656.4 102.5L657.0 102.5L657.5 103.1L658.1 102.5L658.7 103.1L659.3 102.5L662.2 102.5L662.8 101.9L663.4 102.5L663.9 101.9L664.5 102.5L665.1 102.5L665.7 101.9L669.2 101.9L669.8 101.3L670.3 101.9L670.9 101.3L672.1 101.3L672.7 101.9L673.2 101.3L676.7 101.3L677.3 100.7L677.9 101.3L678.5 100.7L679.1 100.7L679.6 101.3L680.2 100.7L684.9 100.7L685.4 100.1L691.8 100.1L692.4 99.5L693.0 100.1L693.6 99.5L694.2 100.1L694.7 99.5L700.6 99.5L701.1 98.9L701.7 99.5L703.5 99.5L704.0 98.9L704.6 99.5L705.8 99.5L706.4 98.9L708.7 98.9L709.3 99.5L709.9 98.9L711.0 98.9L711.6 99.5L712.2 98.9L720.9 98.9L721.5 98.3L722.1 98.9L742.4 98.9L743.0 99.5L743.6 98.9L744.1 99.5L744.7 98.9L745.9 98.9L746.5 99.5L747.0 98.9L747.6 98.9L748.2 99.5L748.8 99.5L749.4 98.9L749.9 99.5L751.1 99.5L751.7 98.9L752.3 99.5L752.9 98.9L753.4 98.9L754.0 99.5L754.6 99.5L755.2 98.9L755.8 99.5L759.8 99.5L760.4 100.1L761.0 99.5L763.3 99.5L763.9 100.1L764.5 99.5L765.1 100.1L769.7 100.1L770.3 100.7L770.9 100.1L771.4 100.7L774.4 100.7L774.9 100.1L775.5 100.7L776.1 100.7L776.7 101.3L777.3 100.7L777.8 100.7L778.4 101.3L781.3 101.3L781.9 101.9L786.0 101.9L786.6 102.5L787.1 101.9L788.3 101.9L788.9 102.5L791.2 102.5L791.8 103.1L794.1 103.1L794.7 103.7L795.3 103.7L795.9 103.1L797.0 103.1L797.6 103.7L799.9 103.7L800.5 104.3L801.1 103.7L801.7 104.3L802.2 104.3L802.8 103.7L803.4 104.3L804.0 104.3L804.6 104.8L806.3 104.8L806.9 104.3L807.5 104.8L809.8 104.8L810.4 105.4L813.3 105.4L813.9 106.0L814.4 105.4L815.0 106.0L815.6 106.0L816.2 105.4L816.8 105.4L817.4 106.0L817.9 106.0L818.5 106.6L819.1 106.0L819.7 106.6L822.0 106.6L822.6 107.2L823.2 106.6L823.7 107.2L826.7 107.2L827.2 107.8L829.6 107.8L830.1 108.4L832.5 108.4L833.0 109.0L835.4 109.0L836.0 109.6L836.5 109.0L837.1 109.6L837.7 109.6L838.3 110.2L838.9 109.6L839.4 109.6L840.0 110.2L840.6 109.6L841.2 110.2L841.8 110.2L842.3 110.8L842.9 110.2L843.5 110.8L844.7 110.8L845.2 111.4L845.8 110.8L846.4 111.4L847.0 110.8L847.6 111.4L848.7 111.4L849.3 112.0L852.8 112.0L853.4 112.6L855.1 112.6L855.7 113.2L858.6 113.2L859.2 113.8L861.5 113.8L862.1 114.4L864.4 114.4L865.0 114.9L865.6 115.5L866.2 114.9L866.8 114.9L867.3 115.5L868.5 115.5L869.1 116.1L871.4 116.1L872.0 116.7L873.1 116.7L873.7 117.3L874.3 116.7L875.5 116.7L876.0 117.3L879.5 117.3L880.1 117.9L884.8 117.9L885.3 118.5L885.9 117.9L886.5 117.9L887.1 118.5L889.4 118.5L890.0 117.9L890.6 118.5L891.2 119.1L891.7 118.5L893.5 118.5L894.1 119.1L900.5 119.1L901.0 119.7L901.6 119.1L903.4 119.1L903.9 119.7L904.5 119.1L905.1 119.7L906.8 119.7L907.4 120.3L908.0 119.7L910.9 119.7L911.5 120.3L916.1 120.3L916.7 120.9L919.1 120.9L919.6 122.1L920.2 120.9L921.4 120.9L922.0 121.5L923.7 121.5L924.3 122.1L924.9 121.5L925.4 122.1L928.3 122.1" stroke="#f0e442" stroke-width="2.1" fill="none" stroke-linejoin="round" stroke-linecap="butt" />
<path d="M92.7 161.9L93.3 161.3L93.9 161.9L96.2 161.9L96.8 162.5L100.3 162.5L100.8 163.1L103.2 163.1L103.8 163.7L104.3 163.1L105.5 163.1L106.1 163.7L106.7 163.7L107.2 164.2L107.8 163.7L108.4 164.2L113.0 164.2L113.6 164.8L114.2 164.8L114.8 164.2L115.4 164.8L118.3 164.8L118.9 164.2L119.4 164.8L120.0 164.8L120.6 165.4L121.2 165.4L121.8 164.8L122.9 164.8L123.5 165.4L124.1 165.4L124.7 164.8L125.3 165.4L127.6 165.4L128.2 166.0L128.7 165.4L129.3 166.0L130.5 166.0L131.1 166.6L132.8 166.6L133.4 167.2L135.7 167.2L136.3 167.8L136.9 167.8L137.5 168.4L138.0 167.8L138.6 168.4L139.8 168.4L140.4 169.0L142.1 169.0L142.7 169.6L143.3 169.0L143.8 169.6L145.0 169.6L145.6 170.2L146.2 169.6L154.9 169.6L155.5 169.0L159.0 169.0L159.5 168.4L161.3 168.4L161.9 167.8L163.6 167.8L164.2 168.4L164.8 167.8L166.5 167.8L167.1 168.4L167.7 167.8L168.3 168.4L181.6 168.4L182.2 169.0L185.1 169.0L185.7 169.6L186.3 169.0L187.4 169.0L188.0 169.6L188.6 169.0L189.2 169.6L192.7 169.6L193.2 170.2L193.8 169.6L194.4 169.6L195.0 170.2L200.8 170.2L201.4 170.8L202.0 170.2L202.5 170.2L203.1 170.8L211.8 170.8L212.4 171.4L213.0 170.8L213.6 170.8L214.2 171.4L214.7 170.8L215.3 171.4L215.9 170.8L216.5 170.8L217.1 171.4L217.6 170.8L218.2 171.4L225.8 171.4L226.4 172.0L226.9 171.4L227.5 171.4L228.1 172.0L228.7 171.4L229.3 172.0L229.9 172.0L230.4 171.4L231.0 172.0L232.8 172.0L233.3 171.4L233.9 172.0L239.1 172.0L239.7 172.6L240.3 172.0L240.9 172.6L241.5 172.0L242.1 172.6L242.6 172.6L243.2 172.0L243.8 172.6L251.4 172.6L251.9 173.2L252.5 172.6L253.1 173.2L253.7 173.2L254.3 172.6L254.8 173.2L255.4 173.2L256.0 172.6L256.6 173.2L265.3 173.2L265.9 173.8L266.5 173.2L267.0 173.2L267.6 173.8L278.7 173.8L279.2 174.3L279.8 173.8L282.7 173.8L283.3 174.3L283.9 174.3L284.5 173.8L285.1 174.3L286.2 174.3L286.8 173.8L287.4 174.3L289.1 174.3L289.7 173.8L290.3 174.3L301.9 174.3L302.5 174.9L303.1 174.3L303.7 174.3L304.2 174.9L304.8 174.3L306.6 174.3L307.1 174.9L307.7 174.3L308.3 174.9L326.9 174.9L327.5 175.5L328.1 174.9L328.6 174.9L329.2 175.5L329.8 174.9L330.4 175.5L331.0 174.9L331.5 175.5L332.1 174.9L332.7 174.9L333.3 175.5L334.5 175.5L335.0 174.9L335.6 174.9L336.2 175.5L356.5 175.5L357.1 176.1L357.7 175.5L363.5 175.5L364.1 176.1L364.7 175.5L365.8 175.5L366.4 176.1L367.0 176.1L367.6 175.5L368.2 176.1L368.7 175.5L369.3 176.1L369.9 176.1L370.5 175.5L371.6 175.5L372.2 176.1L372.8 175.5L374.0 175.5L374.5 176.1L375.1 176.1L375.7 175.5L378.0 175.5L378.6 176.1L379.2 175.5L379.8 176.1L380.4 175.5L390.2 175.5L390.8 174.9L391.4 175.5L392.0 174.9L392.6 175.5L393.1 174.9L393.7 174.9L394.3 175.5L394.9 174.9L407.7 174.9L408.3 174.3L411.2 174.3L411.7 173.8L415.2 173.8L415.8 173.2L419.3 173.2L419.9 172.6L422.8 172.6L423.4 172.0L423.9 172.6L424.5 172.0L425.1 172.0L425.7 171.4L427.4 171.4L428.0 170.8L429.2 170.8L429.8 170.2L430.9 170.2L431.5 169.6L433.2 169.6L433.8 169.0L434.4 169.0L435.0 168.4L436.1 168.4L436.7 167.8L439.1 167.8L439.6 167.2L441.4 167.2L442.0 166.6L442.5 166.6L443.1 166.0L443.7 166.0L444.3 165.4L444.9 165.4L445.4 164.8L446.0 164.8L446.6 164.2L447.2 164.2L447.8 163.7L448.3 163.7L448.9 163.1L450.1 163.1L450.7 162.5L451.8 162.5L452.4 161.9L453.0 161.3L453.6 161.3L454.2 160.7L455.9 160.7L456.5 160.1L457.1 160.1L457.6 159.5L458.2 159.5L458.8 158.9L459.4 158.9L460.0 158.3L461.1 158.3L461.7 157.7L462.3 157.7L462.9 157.1L463.5 156.5L464.6 156.5L465.2 155.9L465.8 155.9L466.4 155.3L467.5 155.3L468.1 154.7L468.7 154.7L469.3 154.2L469.9 153.6L470.4 154.2L471.0 153.6L471.6 153.6L472.2 153.0L472.8 153.0L473.3 152.4L473.9 152.4L474.5 151.8L476.2 151.8L476.8 151.2L477.4 150.6L478.0 150.0L479.7 150.0L480.3 149.4L480.9 149.4L481.5 148.8L482.1 148.2L483.2 148.2L483.8 147.6L485.0 147.6L485.5 147.0L486.1 146.4L486.7 146.4L487.3 145.8L488.4 145.8L489.0 145.2L489.6 145.2L490.2 144.6L490.8 144.1L492.5 144.1L493.1 143.5L493.7 142.9L494.3 142.9L494.8 142.3L496.6 142.3L497.2 141.7L497.7 141.1L498.9 141.1L499.5 140.5L500.1 140.5L500.6 139.9L501.2 139.3L502.4 139.3L503.0 138.7L504.1 138.7L504.7 138.1L505.3 138.1L505.9 137.5L506.5 137.5L507.0 136.9L507.6 136.9L508.2 136.3L509.4 136.3L509.9 135.7L510.5 135.1L511.7 135.1L512.3 134.6L513.4 134.6L514.0 134.0L514.6 134.0L515.2 133.4L515.8 134.0L516.3 133.4L516.9 132.8L517.5 133.4L518.1 132.8L518.7 132.8L519.2 131.0L519.8 132.2L520.4 132.2L521.0 131.6L521.6 131.0L522.2 131.6L522.7 131.0L523.9 131.0L524.5 130.4L525.1 129.8L526.2 129.8L526.8 129.2L528.0 129.2L528.5 128.6L529.7 128.6L530.3 128.0L530.9 128.6L531.4 128.0L532.0 127.4L533.2 127.4L533.8 126.8L534.4 126.8L534.9 126.2L536.7 126.2L537.3 125.6L538.4 125.6L539.0 125.0L539.6 125.0L540.2 124.5L541.9 124.5L542.5 123.9L543.1 123.9L543.7 123.3L544.8 123.3L545.4 122.7L546.0 122.7L546.6 122.1L548.3 122.1L548.9 121.5L549.5 121.5L550.0 120.9L550.6 120.9L551.2 120.3L553.5 120.3L554.1 119.7L554.7 119.7L555.3 119.1L556.4 119.1L557.0 118.5L558.2 118.5L558.8 117.9L559.3 117.9L559.9 117.3L561.7 117.3L562.2 116.7L562.8 116.7L563.4 116.1L564.0 116.1L564.6 115.5L565.2 116.1L565.7 115.5L566.3 114.4L566.9 115.5L567.5 114.9L568.1 114.9L568.6 114.4L569.8 114.4L570.4 113.8L571.5 113.8L572.1 113.2L573.9 113.2L574.5 112.6L575.0 112.6L575.6 112.0L576.8 112.0L577.4 111.4L579.1 111.4L579.7 110.8L580.3 110.2L580.8 111.4L581.4 110.2L582.6 110.2L583.2 109.6L584.3 109.6L584.9 109.0L586.7 109.0L587.2 108.4L588.4 108.4L589.0 107.8L590.1 107.8L590.7 107.2L591.3 106.6L591.9 107.2L592.5 107.2L593.0 106.6L593.6 106.6L594.2 106.0L596.0 106.0L596.5 105.4L597.1 105.4L597.7 104.8L598.3 105.4L598.9 104.8L599.4 104.8L600.0 104.3L601.2 104.3L601.8 103.7L603.5 103.7L604.1 103.1L606.4 103.1L607.0 102.5L607.6 102.5L608.2 101.9L609.9 101.9L610.5 101.3L612.2 101.3L612.8 100.7L613.4 100.7L614.0 100.1L615.1 100.1L615.7 99.5L618.6 99.5L619.2 98.9L621.5 98.9L622.1 98.3L623.3 98.3L623.8 97.7L626.2 97.7L626.8 97.1L627.3 97.7L627.9 97.1L629.7 97.1L630.2 96.5L639.5 96.5L640.1 95.9L640.7 96.5L641.3 96.5L641.9 95.9L642.4 96.5L645.9 96.5L646.5 95.9L647.1 95.9L647.7 96.5L648.3 95.9L649.4 95.9L650.0 96.5L650.6 96.5L651.2 95.9L651.7 95.9L652.3 95.3L654.1 95.3L654.6 94.8L656.4 94.8L657.0 94.2L658.1 94.2L658.7 93.6L660.5 93.6L661.0 93.0L662.2 93.0L662.8 92.4L666.3 92.4L666.8 91.8L670.9 91.8L671.5 91.2L673.2 91.2L673.8 90.6L676.1 90.6L676.7 90.0L680.8 90.0L681.4 89.4L682.0 90.0L683.7 90.0L684.3 91.2L684.9 89.4L685.4 90.0L688.9 90.0L689.5 89.4L690.1 90.0L692.4 90.0L693.0 89.4L693.6 90.0L695.3 90.0L695.9 89.4L696.5 90.0L698.2 90.0L698.8 90.6L701.7 90.6L702.3 91.2L705.2 91.2L705.8 91.8L709.3 91.8L709.9 92.4L710.4 91.8L711.0 92.4L712.2 92.4L712.8 93.0L713.3 92.4L713.9 93.0L715.1 93.0L715.7 93.6L716.2 93.0L716.8 93.6L718.0 93.6L718.6 94.2L720.9 94.2L721.5 94.8L723.2 94.8L723.8 95.3L725.5 95.3L726.1 95.9L727.3 95.9L727.9 96.5L729.6 96.5L730.2 97.1L731.4 97.1L731.9 97.7L733.7 97.7L734.3 98.3L736.0 98.3L736.6 98.9L738.3 98.9L738.9 99.5L740.6 99.5L741.2 100.1L742.4 100.1L743.0 100.7L744.1 100.7L744.7 100.1L745.3 100.7L745.9 101.3L747.6 101.3L748.2 101.9L750.5 101.9L751.1 102.5L752.9 102.5L753.4 103.1L754.6 103.1L755.2 103.7L755.8 103.1L756.3 103.7L758.1 103.7L758.7 104.3L761.6 104.3L762.1 104.8L764.5 104.8L765.1 105.4L768.0 105.4L768.5 106.0L770.9 106.0L771.4 106.6L773.2 106.6L773.8 107.2L774.9 107.2L775.5 107.8L776.7 107.8L777.3 108.4L777.8 109.0L779.0 109.0L779.6 109.6L781.3 109.6L781.9 110.2L782.5 110.8L783.1 110.8L783.7 111.4L784.2 111.4L784.8 112.0L785.4 112.0L786.0 112.6L786.6 112.6L787.1 113.2L787.7 113.2L788.3 113.8L788.9 114.4L789.5 114.4L790.0 114.9L790.6 114.4L791.2 114.9L792.9 114.9L793.5 115.5L795.9 115.5L796.4 116.1L797.0 116.1L797.6 115.5L798.2 116.1L798.8 116.1L799.3 116.7L804.0 116.7L804.6 117.3L806.3 117.3L806.9 117.9L808.6 117.9L809.2 117.3L809.8 117.9L810.4 117.3L817.9 117.3L818.5 117.9L820.8 117.9L821.4 118.5L824.3 118.5L824.9 119.1L826.1 119.1L826.7 119.7L827.8 119.7L828.4 120.3L829.0 119.7L829.6 120.3L830.7 120.3L831.3 120.9L832.5 120.9L833.0 121.5L833.6 121.5L834.2 122.1L836.5 122.1L837.1 122.7L838.3 122.7L838.9 123.3L840.6 123.3L841.2 123.9L842.3 123.9L842.9 124.5L843.5 124.5L844.1 125.0L845.8 125.0L846.4 125.6L847.0 125.6L847.6 126.2L848.7 126.2L849.3 126.8L849.9 126.2L850.5 126.8L851.1 127.4L852.2 127.4L852.8 128.0L853.4 128.0L854.0 128.6L855.1 128.6L855.7 129.2L856.3 129.8L856.9 129.8L857.5 130.4L858.0 131.0L858.6 131.6L859.2 131.6L859.8 132.2L860.4 132.8L860.9 132.8L861.5 133.4L862.7 133.4L863.3 132.8L863.8 133.4L866.8 133.4L867.3 134.0L867.9 133.4L869.1 133.4L869.7 134.0L870.2 133.4L871.4 133.4L872.0 134.0L873.7 134.0L874.3 134.6L877.2 134.6L877.8 135.1L880.1 135.1L880.7 135.7L881.3 135.1L881.9 135.1L882.4 135.7L885.3 135.7L885.9 136.3L886.5 135.7L887.1 136.3L887.7 135.7L888.3 136.3L891.7 136.3L892.3 136.9L892.9 136.3L893.5 136.9L894.1 136.9L894.6 136.3L895.2 136.9L897.5 136.9L898.1 137.5L898.7 136.9L900.5 136.9L901.0 137.5L902.2 137.5L902.8 136.9L903.4 137.5L905.7 137.5L906.3 138.1L906.8 137.5L907.4 138.1L908.0 138.1L908.6 137.5L909.2 138.1L912.7 138.1L913.2 138.7L913.8 138.7L914.4 138.1L915.0 138.7L916.1 138.7L916.7 139.3L919.6 139.3L920.2 139.9L920.8 139.3L921.4 139.9L924.9 139.9L925.4 140.5L928.3 140.5" stroke="#0072b2" stroke-width="2.1" fill="none" stroke-linejoin="round" stroke-linecap="butt" />
<path d="M92.7 132.8L93.3 132.8L93.9 133.4L94.5 132.8L95.0 133.4L95.6 132.8L96.2 132.8L96.8 133.4L101.4 133.4L102.0 132.8L102.6 133.4L105.5 133.4L106.1 134.0L106.7 133.4L108.4 133.4L109.0 134.0L109.6 134.0L110.1 133.4L110.7 133.4L111.3 134.0L122.9 134.0L123.5 134.6L124.1 134.6L124.7 134.0L125.3 134.6L130.5 134.6L131.1 134.0L131.6 134.6L132.2 134.6L132.8 134.0L133.4 134.6L135.1 134.6L135.7 134.0L136.3 134.6L136.9 134.6L137.5 135.1L138.0 134.6L138.6 134.0L139.2 134.6L143.8 134.6L144.4 134.0L145.0 134.0L145.6 134.6L155.5 134.6L156.1 135.1L156.6 134.6L159.0 134.6L159.5 135.1L160.1 134.6L160.7 135.1L161.3 134.6L163.0 134.6L163.6 135.1L166.5 135.1L167.1 134.6L167.7 134.6L168.3 135.1L171.2 135.1L171.7 135.7L172.3 135.1L181.6 135.1L182.2 135.7L182.8 135.7L183.4 135.1L186.3 135.1L186.8 135.7L189.2 135.7L189.8 135.1L190.3 135.7L190.9 135.1L191.5 135.7L192.1 135.1L192.7 135.7L197.9 135.7L198.5 136.3L199.1 135.7L204.3 135.7L204.9 136.3L205.4 135.7L206.6 135.7L207.2 136.3L207.8 136.3L208.4 135.7L208.9 135.7L209.5 136.3L210.1 135.7L210.7 136.3L222.9 136.3L223.5 136.9L224.0 136.9L224.6 136.3L225.2 136.9L225.8 136.9L226.4 136.3L226.9 136.9L227.5 136.3L228.1 137.5L228.7 136.9L229.3 136.9L229.9 136.3L230.4 136.9L231.0 136.3L231.6 136.9L244.4 136.9L245.0 137.5L245.5 136.9L253.1 136.9L253.7 137.5L254.3 137.5L254.8 136.9L255.4 137.5L256.0 136.9L256.6 137.5L257.2 136.9L257.7 136.9L258.3 137.5L259.5 137.5L260.1 136.9L260.7 137.5L261.2 136.9L261.8 136.9L262.4 137.5L263.0 136.9L263.6 136.9L264.1 137.5L265.3 137.5L265.9 136.9L266.5 137.5L268.2 137.5L268.8 136.9L269.4 137.5L274.6 137.5L275.2 138.1L275.8 138.1L276.3 137.5L278.7 137.5L279.2 138.1L279.8 137.5L280.4 138.1L288.5 138.1L289.1 138.7L289.7 138.7L290.3 138.1L292.6 138.1L293.2 138.7L296.1 138.7L296.7 138.1L298.4 138.1L299.0 138.7L307.7 138.7L308.3 139.3L309.5 139.3L310.0 138.7L310.6 139.3L311.2 138.7L311.8 138.7L312.4 139.3L315.3 139.3L315.9 138.7L316.4 139.3L317.0 139.3L317.6 138.7L318.2 139.3L320.5 139.3L321.1 138.1L321.7 139.3L328.6 139.3L329.2 139.9L329.8 139.3L332.1 139.3L332.7 139.9L333.3 139.3L333.9 139.9L334.5 139.3L335.0 139.9L335.6 139.9L336.2 139.3L336.8 139.3L337.4 139.9L339.1 139.9L339.7 139.3L340.3 139.9L340.8 139.9L341.4 139.3L342.0 139.3L342.6 139.9L343.2 139.9L343.8 139.3L344.3 139.9L345.5 139.9L346.1 139.3L346.7 139.3L347.2 139.9L349.6 139.9L350.1 139.3L350.7 139.9L351.3 139.3L351.9 139.9L352.5 139.9L353.0 139.3L353.6 139.9L354.2 139.3L354.8 139.9L355.4 139.3L356.0 139.3L356.5 139.9L358.3 139.9L358.9 139.3L359.4 139.9L360.6 139.9L361.2 139.3L361.8 139.3L362.3 139.9L363.5 139.9L364.1 139.3L365.8 139.3L366.4 139.9L367.6 139.9L368.2 139.3L368.7 139.9L369.3 139.3L369.9 139.9L371.6 139.9L372.2 139.3L372.8 139.9L374.0 139.9L374.5 139.3L375.1 139.3L375.7 139.9L376.3 139.9L376.9 139.3L380.9 139.3L381.5 138.7L382.1 138.7L382.7 139.3L383.8 139.3L384.4 138.7L385.0 139.3L386.8 139.3L387.3 138.1L387.9 138.7L391.4 138.7L392.0 139.3L392.6 138.7L393.1 139.3L393.7 138.7L403.0 138.7L403.6 138.1L404.2 138.1L404.8 138.7L406.5 138.7L407.1 138.1L411.2 138.1L411.7 138.7L412.3 138.1L412.9 138.1L413.5 139.3L414.1 138.1L417.0 138.1L417.6 137.5L418.1 137.5L418.7 138.1L419.3 137.5L420.5 137.5L421.0 138.1L421.6 137.5L423.4 137.5L423.9 138.1L424.5 137.5L425.1 137.5L425.7 136.9L426.3 137.5L427.4 137.5L428.0 136.9L428.6 137.5L429.2 136.9L430.3 136.9L430.9 137.5L431.5 136.9L432.1 136.9L432.7 136.3L433.2 136.9L436.1 136.9L436.7 136.3L437.3 136.3L437.9 136.9L440.2 136.9L440.8 136.3L441.4 136.9L442.0 136.3L450.7 136.3L451.3 135.7L452.4 135.7L453.0 135.1L453.6 135.7L455.3 135.7L455.9 136.3L456.5 135.7L458.8 135.7L459.4 135.1L465.2 135.1L465.8 135.7L466.4 135.1L468.1 135.1L468.7 134.6L469.9 134.6L470.4 135.1L471.0 135.1L471.6 134.6L472.2 135.1L472.8 134.6L476.8 134.6L477.4 134.0L478.0 134.0L478.6 134.6L480.3 134.6L480.9 134.0L482.1 134.0L482.6 134.6L483.2 134.0L489.0 134.0L489.6 133.4L490.2 134.0L490.8 133.4L495.4 133.4L496.0 134.0L496.6 133.4L497.7 133.4L498.3 132.8L498.9 133.4L499.5 132.8L500.1 133.4L501.8 133.4L502.4 132.8L503.0 132.8L503.6 133.4L504.1 133.4L504.7 132.8L510.5 132.8L511.1 132.2L511.7 132.8L512.3 132.2L512.9 132.2L513.4 132.8L514.0 132.2L514.6 132.8L515.2 132.2L518.1 132.2L518.7 131.6L519.2 132.2L520.4 132.2L521.0 131.6L521.6 132.2L522.2 131.6L526.8 131.6L527.4 131.0L529.7 131.0L530.3 131.6L530.9 131.0L533.2 131.0L533.8 130.4L534.9 130.4L535.5 131.0L536.1 131.0L536.7 130.4L542.5 130.4L543.1 129.8L543.7 130.4L544.2 129.8L552.4 129.8L552.9 129.2L553.5 129.8L556.4 129.8L557.0 129.2L557.6 129.2L558.2 130.4L558.8 129.2L559.3 129.8L560.5 129.8L561.1 129.2L561.7 129.2L562.2 129.8L562.8 129.2L564.0 129.2L564.6 129.8L565.2 129.2L568.6 129.2L569.2 129.8L569.8 129.2L570.4 129.2L571.0 128.6L571.5 129.2L572.1 128.6L572.7 129.2L574.5 129.2L575.0 128.6L575.6 129.2L579.1 129.2L579.7 128.6L583.7 128.6L584.3 129.2L584.9 129.2L585.5 128.6L592.5 128.6L593.0 128.0L593.6 128.6L594.2 128.6L594.8 128.0L595.4 128.6L598.9 128.6L599.4 128.0L600.0 128.6L600.6 128.6L601.2 128.0L601.8 128.6L602.3 128.0L608.2 128.0L608.7 129.2L609.3 128.0L615.7 128.0L616.3 127.4L616.9 128.0L625.0 128.0L625.6 127.4L626.2 128.0L627.3 128.0L627.9 127.4L628.5 127.4L629.1 128.0L629.7 127.4L630.2 128.0L634.9 128.0L635.5 127.4L636.0 128.0L636.6 128.0L637.2 127.4L637.8 128.0L638.4 127.4L639.0 127.4L639.5 128.0L640.1 127.4L640.7 128.0L641.3 127.4L641.9 127.4L642.4 128.0L643.0 128.0L643.6 127.4L644.2 128.0L647.7 128.0L648.3 128.6L648.8 128.0L650.0 128.0L650.6 127.4L651.2 128.0L654.1 128.0L654.6 127.4L656.4 127.4L657.0 128.0L657.5 127.4L658.1 127.4L658.7 128.0L659.3 127.4L663.4 127.4L663.9 126.8L664.5 127.4L668.6 127.4L669.2 126.8L669.8 127.4L672.7 127.4L673.2 126.8L673.8 127.4L674.4 126.8L675.0 126.8L675.6 127.4L676.1 126.8L686.0 126.8L686.6 126.2L687.2 126.8L688.9 126.8L689.5 126.2L690.1 126.8L690.7 126.2L691.3 126.8L691.8 126.2L692.4 126.8L693.0 126.8L693.6 126.2L694.2 126.2L694.7 126.8L695.3 126.2L695.9 126.2L696.5 126.8L697.1 126.8L697.6 126.2L698.2 126.8L698.8 126.8L699.4 126.2L712.8 126.2L713.3 125.6L713.9 126.2L714.5 126.2L715.1 125.6L716.2 125.6L716.8 126.2L717.4 126.2L718.0 125.6L718.6 125.6L719.1 126.2L720.3 126.2L720.9 125.6L721.5 125.6L722.1 126.2L723.2 126.2L723.8 125.6L724.4 125.6L725.0 126.2L726.1 126.2L726.7 125.6L727.3 126.2L727.9 125.6L728.4 126.2L729.0 125.6L729.6 126.2L730.2 126.2L730.8 125.6L731.4 126.2L731.9 125.6L732.5 126.2L734.3 126.2L734.8 125.6L735.4 126.2L740.1 126.2L740.6 126.8L741.2 126.2L742.4 126.2L743.0 126.8L743.6 126.2L745.9 126.2L746.5 126.8L747.0 126.2L747.6 126.8L748.2 126.2L748.8 126.2L749.4 126.8L749.9 126.8L750.5 126.2L751.1 126.8L758.7 126.8L759.2 126.2L762.7 126.2L763.3 125.6L763.9 126.2L765.1 126.2L765.6 127.4L766.2 125.6L769.7 125.6L770.3 125.0L772.0 125.0L772.6 123.9L773.2 125.0L778.4 125.0L779.0 124.5L781.9 124.5L782.5 125.0L783.1 124.5L783.7 125.0L784.2 123.9L784.8 124.5L788.9 124.5L789.5 123.9L790.0 123.9L790.6 124.5L791.2 123.9L793.5 123.9L794.1 123.3L794.7 123.9L795.3 123.9L795.9 123.3L799.3 123.3L799.9 122.7L802.2 122.7L802.8 123.3L803.4 122.7L806.3 122.7L806.9 122.1L808.6 122.1L809.2 122.7L809.8 122.1L812.7 122.1L813.3 122.7L813.9 122.1L816.8 122.1L817.4 121.5L817.9 122.1L819.7 122.1L820.3 120.3L820.8 122.1L823.7 122.1L824.3 121.5L824.9 122.1L825.5 120.9L826.1 122.1L830.1 122.1L830.7 122.7L831.9 122.7L832.5 122.1L833.0 122.1L833.6 122.7L834.2 122.7L834.8 122.1L835.4 122.7L849.9 122.7L850.5 122.1L851.1 122.7L851.6 122.7L852.2 122.1L852.8 122.7L853.4 122.1L855.7 122.1L856.3 122.7L856.9 122.1L859.2 122.1L859.8 122.7L860.4 122.1L861.5 122.1L862.1 122.7L862.7 122.1L863.8 122.1L864.4 122.7L865.0 122.1L865.6 122.7L866.2 122.1L866.8 122.7L867.3 122.7L867.9 123.3L868.5 121.5L869.1 122.7L869.7 122.7L870.2 123.3L872.0 123.3L872.6 123.9L873.7 123.9L874.3 124.5L877.8 124.5L878.4 125.0L879.5 125.0L880.1 125.6L884.2 125.6L884.8 126.2L885.3 125.6L885.9 126.2L891.2 126.2L891.7 126.8L892.3 126.2L893.5 126.2L894.1 126.8L894.6 126.2L895.2 126.8L908.0 126.8L908.6 127.4L909.2 126.8L912.1 126.8L912.7 127.4L913.2 126.8L914.4 126.8L915.0 127.4L916.1 127.4L916.7 126.8L917.3 127.4L918.5 127.4L919.1 126.8L919.6 127.4L920.2 126.8L920.8 127.4L921.4 126.8L923.1 126.8L923.7 127.4L926.0 127.4L926.6 126.8L927.2 127.4L928.3 127.4" stroke="#e51e10" stroke-width="2.1" fill="none" stroke-linejoin="round" stroke-linecap="butt" />
<path d="M92.7 145.2L95.6 145.2L96.2 145.8L96.8 145.8L97.4 145.2L103.2 145.2L103.8 145.8L104.3 145.2L110.1 145.2L110.7 146.4L111.3 145.2L119.4 145.2L120.0 145.8L120.6 145.2L121.2 145.8L121.8 145.8L122.3 145.2L128.7 145.2L129.3 145.8L129.9 145.2L132.8 145.2L133.4 145.8L134.0 145.2L134.5 145.2L135.1 145.8L135.7 145.2L147.9 145.2L148.5 145.8L149.1 145.2L152.6 145.2L153.1 145.8L153.7 145.2L156.1 145.2L156.6 145.8L157.2 146.4L157.8 146.4L158.4 145.2L159.0 146.4L159.5 146.4L160.1 145.2L160.7 145.8L161.3 145.2L161.9 146.4L162.4 145.2L163.0 145.2L163.6 145.8L164.2 145.2L165.3 145.2L165.9 146.4L166.5 145.2L167.7 145.2L168.3 146.4L168.8 145.2L169.4 145.2L170.0 145.8L170.6 145.8L171.2 145.2L173.5 145.2L174.1 145.8L174.6 145.2L181.6 145.2L182.2 146.4L182.8 145.2L188.6 145.2L189.2 146.4L189.8 145.2L192.7 145.2L193.2 145.8L193.8 145.2L195.6 145.2L196.1 145.8L196.7 145.2L200.2 145.2L200.8 146.4L201.4 145.8L202.0 145.2L202.5 145.8L203.1 145.2L204.9 145.2L205.4 146.4L206.0 145.2L209.5 145.2L210.1 146.4L210.7 145.2L213.0 145.2L213.6 145.8L214.2 145.2L218.8 145.2L219.4 145.8L220.0 146.4L220.6 145.2L221.1 145.8L221.7 145.2L224.6 145.2L225.2 145.8L225.8 145.2L238.6 145.2L239.1 146.4L239.7 145.2L240.3 146.4L240.9 145.8L241.5 145.2L242.1 145.2L242.6 145.8L243.2 145.2L243.8 145.8L244.4 145.2L245.0 145.8L245.5 145.2L247.3 145.2L247.9 145.8L248.4 145.2L249.0 145.2L249.6 146.4L250.2 145.2L250.8 145.8L251.4 145.2L251.9 146.4L252.5 145.2L256.6 145.2L257.2 145.8L257.7 145.2L263.6 145.2L264.1 145.8L264.7 145.2L275.2 145.2L275.8 146.4L276.3 145.2L279.8 145.2L280.4 146.4L281.0 145.8L281.6 145.2L292.0 145.2L292.6 146.4L293.2 145.2L305.4 145.2L306.0 145.8L306.6 145.2L308.3 145.2L308.9 146.4L309.5 145.2L310.0 145.2L310.6 146.4L311.2 145.2L334.5 145.2L335.0 145.8L335.6 145.2L371.6 145.2L372.2 145.8L372.8 145.2L375.7 145.2L376.3 145.8L376.9 145.2L431.5 145.2L432.1 145.8L432.7 145.2L450.7 145.2L451.3 146.4L451.8 145.2L488.4 145.2L489.0 146.4L489.6 145.2L509.4 145.2L509.9 145.8L510.5 145.2L565.7 145.2L566.3 146.4L566.9 145.2L582.6 145.2L583.2 145.8L583.7 145.2L659.9 145.2L660.5 145.8L661.0 145.2L665.7 145.2L666.3 145.8L666.8 145.8L667.4 145.2L670.3 145.2L670.9 146.4L671.5 145.8L672.1 145.2L673.2 145.2L673.8 146.4L674.4 145.2L675.0 146.4L675.6 145.2L676.1 145.8L676.7 145.2L677.9 145.2L678.5 145.8L679.1 145.2L679.6 145.8L680.2 145.2L680.8 146.4L681.4 145.2L683.7 145.2L684.3 145.8L684.9 145.2L688.9 145.2L689.5 145.8L690.1 145.2L701.1 145.2L701.7 145.8L702.3 145.2L713.9 145.2L714.5 145.8L715.1 146.4L715.7 145.2L727.3 145.2L727.9 145.8L728.4 145.8L729.0 146.4L729.6 145.8L730.2 145.2L730.8 146.4L731.4 145.8L731.9 145.2L733.1 145.2L733.7 145.8L734.3 145.2L736.0 145.2L736.6 145.8L737.2 145.2L737.7 145.2L738.3 146.4L738.9 146.4L739.5 145.2L758.7 145.2L759.2 146.4L759.8 145.2L760.4 145.2L761.0 145.8L761.6 145.2L870.2 145.2L870.8 145.8L871.4 145.2L881.3 145.2L881.9 145.8L882.4 145.2L902.8 145.2L903.4 145.8L903.9 145.2L928.3 145.2" stroke="#000000" stroke-width="2.2" fill="none" stroke-linejoin="round" stroke-linecap="butt" />
</g>
<path d="M92.50 230.25v-7.60M92.50 45.45v7.60M110.50 230.25v-4.10M110.50 45.45v4.10M127.50 230.25v-7.60M127.50 45.45v7.60M145.50 230.25v-4.10M145.50 45.45v4.10M162.50 230.25v-7.60M162.50 45.45v7.60M179.50 230.25v-4.10M179.50 45.45v4.10M197.50 230.25v-7.60M197.50 45.45v7.60M214.50 230.25v-4.10M214.50 45.45v4.10M232.50 230.25v-7.60M232.50 45.45v7.60M249.50 230.25v-4.10M249.50 45.45v4.10M267.50 230.25v-7.60M267.50 45.45v7.60M284.50 230.25v-4.10M284.50 45.45v4.10M301.50 230.25v-7.60M301.50 45.45v7.60M319.50 230.25v-4.10M319.50 45.45v4.10M336.50 230.25v-7.60M336.50 45.45v7.60M354.50 230.25v-4.10M354.50 45.45v4.10M371.50 230.25v-7.60M371.50 45.45v7.60M389.50 230.25v-4.10M389.50 45.45v4.10M406.50 230.25v-7.60M406.50 45.45v7.60M423.50 230.25v-4.10M423.50 45.45v4.10M441.50 230.25v-7.60M441.50 45.45v7.60M458.50 230.25v-4.10M458.50 45.45v4.10M476.50 230.25v-7.60M476.50 45.45v7.60M493.50 230.25v-4.10M493.50 45.45v4.10M511.50 230.25v-7.60M511.50 45.45v7.60M528.50 230.25v-4.10M528.50 45.45v4.10M545.50 230.25v-7.60M545.50 45.45v7.60M563.50 230.25v-4.10M563.50 45.45v4.10M580.50 230.25v-7.60M580.50 45.45v7.60M598.50 230.25v-4.10M598.50 45.45v4.10M615.50 230.25v-7.60M615.50 45.45v7.60M633.50 230.25v-4.10M633.50 45.45v4.10M650.50 230.25v-7.60M650.50 45.45v7.60M668.50 230.25v-4.10M668.50 45.45v4.10M685.50 230.25v-7.60M685.50 45.45v7.60M702.50 230.25v-4.10M702.50 45.45v4.10M720.50 230.25v-7.60M720.50 45.45v7.60M737.50 230.25v-4.10M737.50 45.45v4.10M755.50 230.25v-7.60M755.50 45.45v7.60M772.50 230.25v-4.10M772.50 45.45v4.10M790.50 230.25v-7.60M790.50 45.45v7.60M807.50 230.25v-4.10M807.50 45.45v4.10M824.50 230.25v-7.60M824.50 45.45v7.60M842.50 230.25v-4.10M842.50 45.45v4.10M859.50 230.25v-7.60M859.50 45.45v7.60M877.50 230.25v-4.10M877.50 45.45v4.10M894.50 230.25v-7.60M894.50 45.45v7.60M912.50 230.25v-4.10M912.50 45.45v4.10M929.50 230.25v-7.60M929.50 45.45v7.60M92.71 230.50h7.60M929.51 230.50h-7.60M92.71 217.50h4.10M929.51 217.50h-4.10M92.71 203.50h7.60M929.51 203.50h-7.60M92.71 190.50h4.10M929.51 190.50h-4.10M92.71 177.50h7.60M929.51 177.50h-7.60M92.71 164.50h4.10M929.51 164.50h-4.10M92.71 151.50h7.60M929.51 151.50h-7.60M92.71 137.50h4.10M929.51 137.50h-4.10M92.71 124.50h7.60M929.51 124.50h-7.60M92.71 111.50h4.10M929.51 111.50h-4.10M92.71 98.50h7.60M929.51 98.50h-7.60M92.71 85.50h4.10M929.51 85.50h-4.10M92.71 71.50h7.60M929.51 71.50h-7.60M92.71 58.50h4.10M929.51 58.50h-4.10M92.71 45.50h7.60M929.51 45.50h-7.60" stroke="#000" stroke-width="1" fill="none"/>
<rect x="92.5" y="45.5" width="837.0" height="185.0" fill="none" stroke="#000" stroke-width="1"/>
<text x="83.5" y="236.30" text-anchor="end">55</text>
<text x="83.5" y="209.30" text-anchor="end">60</text>
<text x="83.5" y="183.30" text-anchor="end">65</text>
<text x="83.5" y="157.30" text-anchor="end">70</text>
<text x="83.5" y="130.30" text-anchor="end">75</text>
<text x="83.5" y="104.30" text-anchor="end">80</text>
<text x="83.5" y="77.30" text-anchor="end">85</text>
<text x="83.5" y="51.30" text-anchor="end">90</text>
<text transform="translate(33.5 137.8) rotate(-90)" text-anchor="middle">temperature</text>
<text transform="translate(51.2 137.8) rotate(-90)" text-anchor="middle">(deg F)</text>
</g>
<g>
<path d="M127.50 230.50V414.50M162.50 230.50V414.50M197.50 230.50V414.50M232.50 230.50V414.50M267.50 230.50V414.50M301.50 230.50V414.50M336.50 230.50V414.50M371.50 230.50V414.50M406.50 230.50V414.50M441.50 230.50V414.50M476.50 230.50V414.50M511.50 230.50V414.50M545.50 230.50V414.50M580.50 230.50V414.50M615.50 230.50V414.50M650.50 230.50V414.50M685.50 230.50V414.50M720.50 230.50V414.50M755.50 230.50V414.50M790.50 230.50V414.50M824.50 230.50V414.50M859.50 230.50V414.50M894.50 230.50V414.50M92.50 384.50H929.50M92.50 353.50H929.50M92.50 322.50H929.50M92.50 291.50H929.50M92.50 260.50H929.50" stroke="#b4b4b4" stroke-width="1" fill="none"/>
<clipPath id="cp1"><rect x="92.71" y="230.1" width="836.8" height="184.79999999999998"/></clipPath>
<g clip-path="url(#cp1)">
<path d="M92.7 270.1L93.3 270.1L93.9 270.1L94.5 270.1L95.0 270.1L95.6 273.2L96.2 273.2L96.8 273.2L97.4 273.2L97.9 273.2L98.5 273.2L99.1 273.2L99.7 273.2L100.3 270.1L100.8 270.1L101.4 270.1L102.0 270.1L102.6 270.1L103.2 270.1L103.8 270.1L104.3 270.1L104.9 267.1L105.5 267.1L106.1 267.1L106.7 267.1L107.2 267.1L107.8 267.1L108.4 267.1L109.0 267.1L109.6 267.1L110.1 267.1L110.7 267.1L111.3 267.1L111.9 267.1L112.5 267.1L113.0 267.1L113.6 267.1L114.2 267.1L114.8 267.1L115.4 267.1L116.0 267.1L116.5 267.1L117.1 267.1L117.7 267.1L118.3 267.1L118.9 267.1L119.4 267.1L120.0 267.1L120.6 267.1L121.2 267.1L121.8 267.1L122.3 267.1L122.9 267.1L123.5 267.1L124.1 267.1L124.7 267.1L125.3 267.1L125.8 267.1L126.4 267.1L127.0 264.0L127.6 264.0L128.2 264.0L128.7 264.0L129.3 260.9L129.9 260.9L130.5 260.9L131.1 260.9L131.6 260.9L132.2 260.9L132.8 260.9L133.4 260.9L134.0 260.9L134.5 260.9L135.1 260.9L135.7 260.9L136.3 260.9L136.9 260.9L137.5 260.9L138.0 260.9L138.6 260.9L139.2 260.9L139.8 260.9L140.4 260.9L140.9 260.9L141.5 260.9L142.1 260.9L142.7 260.9L143.3 260.9L143.8 260.9L144.4 260.9L145.0 260.9L145.6 260.9L146.2 260.9L146.8 260.9L147.3 260.9L147.9 260.9L148.5 260.9L149.1 260.9L149.7 260.9L150.2 260.9L150.8 260.9L151.4 260.9L152.0 260.9L152.6 260.9L153.1 260.9L153.7 260.9L154.3 260.9L154.9 260.9L155.5 260.9L156.1 260.9L156.6 260.9L157.2 260.9L157.8 260.9L158.4 260.9L159.0 260.9L159.5 260.9L160.1 264.0L160.7 264.0L161.3 264.0L161.9 264.0L162.4 264.0L163.0 264.0L163.6 264.0L164.2 260.9L164.8 260.9L165.3 260.9L165.9 260.9L166.5 260.9L167.1 260.9L167.7 260.9L168.3 260.9L168.8 257.8L169.4 257.8L170.0 257.8L170.6 257.8L171.2 257.8L171.7 257.8L172.3 260.9L172.9 260.9L173.5 260.9L174.1 260.9L174.6 260.9L175.2 260.9L175.8 260.9L176.4 260.9L177.0 260.9L177.6 260.9L178.1 260.9L178.7 260.9L179.3 260.9L179.9 260.9L180.5 260.9L181.0 260.9L181.6 260.9L182.2 260.9L182.8 260.9L183.4 260.9L183.9 260.9L184.5 260.9L185.1 260.9L185.7 260.9L186.3 260.9L186.8 260.9L187.4 264.0L188.0 264.0L188.6 264.0L189.2 264.0L189.8 264.0L190.3 264.0L190.9 264.0L191.5 264.0L192.1 264.0L192.7 264.0L193.2 260.9L193.8 260.9L194.4 260.9L195.0 260.9L195.6 260.9L196.1 257.8L196.7 257.8L197.3 257.8L197.9 257.8L198.5 257.8L199.1 257.8L199.6 257.8L200.2 257.8L200.8 257.8L201.4 257.8L202.0 257.8L202.5 257.8L203.1 257.8L203.7 257.8L204.3 257.8L204.9 257.8L205.4 257.8L206.0 257.8L206.6 257.8L207.2 257.8L207.8 257.8L208.4 257.8L208.9 257.8L209.5 257.8L210.1 260.9L210.7 260.9L211.3 260.9L211.8 260.9L212.4 260.9L213.0 260.9L213.6 260.9L214.2 260.9L214.7 260.9L215.3 260.9L215.9 260.9L216.5 260.9L217.1 260.9L217.6 260.9L218.2 260.9L218.8 260.9L219.4 260.9L220.0 260.9L220.6 260.9L221.1 260.9L221.7 260.9L222.3 260.9L222.9 260.9L223.5 260.9L224.0 260.9L224.6 260.9L225.2 260.9L225.8 260.9L226.4 260.9L226.9 260.9L227.5 260.9L228.1 260.9L228.7 260.9L229.3 260.9L229.9 260.9L230.4 260.9L231.0 260.9L231.6 260.9L232.2 260.9L232.8 260.9L233.3 260.9L233.9 260.9L234.5 260.9L235.1 260.9L235.7 260.9L236.2 260.9L236.8 260.9L237.4 260.9L238.0 260.9L238.6 260.9L239.1 260.9L239.7 260.9L240.3 260.9L240.9 260.9L241.5 260.9L242.1 260.9L242.6 260.9L243.2 260.9L243.8 260.9L244.4 260.9L245.0 260.9L245.5 260.9L246.1 257.8L246.7 257.8L247.3 260.9L247.9 260.9L248.4 260.9L249.0 260.9L249.6 260.9L250.2 260.9L250.8 264.0L251.4 264.0L251.9 264.0L252.5 264.0L253.1 264.0L253.7 264.0L254.3 260.9L254.8 260.9L255.4 260.9L256.0 260.9L256.6 260.9L257.2 260.9L257.7 260.9L258.3 260.9L258.9 260.9L259.5 260.9L260.1 260.9L260.7 260.9L261.2 260.9L261.8 260.9L262.4 260.9L263.0 260.9L263.6 260.9L264.1 260.9L264.7 260.9L265.3 260.9L265.9 260.9L266.5 260.9L267.0 260.9L267.6 260.9L268.2 260.9L268.8 260.9L269.4 260.9L269.9 260.9L270.5 260.9L271.1 260.9L271.7 260.9L272.3 260.9L272.9 260.9L273.4 260.9L274.0 260.9L274.6 260.9L275.2 260.9L275.8 260.9L276.3 260.9L276.9 260.9L277.5 260.9L278.1 260.9L278.7 260.9L279.2 260.9L279.8 260.9L280.4 260.9L281.0 260.9L281.6 260.9L282.2 260.9L282.7 260.9L283.3 260.9L283.9 260.9L284.5 260.9L285.1 260.9L285.6 260.9L286.2 260.9L286.8 260.9L287.4 260.9L288.0 260.9L288.5 260.9L289.1 260.9L289.7 260.9L290.3 260.9L290.9 260.9L291.4 260.9L292.0 257.8L292.6 257.8L293.2 260.9L293.8 260.9L294.4 260.9L294.9 260.9L295.5 260.9L296.1 260.9L296.7 260.9L297.3 260.9L297.8 260.9L298.4 260.9L299.0 260.9L299.6 260.9L300.2 260.9L300.7 260.9L301.3 260.9L301.9 257.8L302.5 257.8L303.1 257.8L303.7 257.8L304.2 257.8L304.8 257.8L305.4 257.8L306.0 257.8L306.6 254.7L307.1 254.7L307.7 257.8L308.3 257.8L308.9 257.8L309.5 257.8L310.0 257.8L310.6 257.8L311.2 257.8L311.8 257.8L312.4 257.8L313.0 257.8L313.5 257.8L314.1 257.8L314.7 257.8L315.3 257.8L315.9 257.8L316.4 257.8L317.0 257.8L317.6 257.8L318.2 257.8L318.8 257.8L319.3 257.8L319.9 257.8L320.5 257.8L321.1 254.7L321.7 254.7L322.2 254.7L322.8 254.7L323.4 254.7L324.0 254.7L324.6 254.7L325.2 254.7L325.7 254.7L326.3 254.7L326.9 254.7L327.5 254.7L328.1 254.7L328.6 254.7L329.2 254.7L329.8 254.7L330.4 254.7L331.0 254.7L331.5 254.7L332.1 254.7L332.7 254.7L333.3 254.7L333.9 254.7L334.5 254.7L335.0 254.7L335.6 254.7L336.2 254.7L336.8 254.7L337.4 254.7L337.9 254.7L338.5 254.7L339.1 254.7L339.7 254.7L340.3 254.7L340.8 254.7L341.4 254.7L342.0 254.7L342.6 254.7L343.2 254.7L343.8 254.7L344.3 254.7L344.9 254.7L345.5 254.7L346.1 254.7L346.7 254.7L347.2 254.7L347.8 254.7L348.4 254.7L349.0 254.7L349.6 254.7L350.1 254.7L350.7 254.7L351.3 254.7L351.9 254.7L352.5 254.7L353.0 254.7L353.6 254.7L354.2 254.7L354.8 254.7L355.4 254.7L356.0 254.7L356.5 254.7L357.1 254.7L357.7 254.7L358.3 254.7L358.9 254.7L359.4 254.7L360.0 254.7L360.6 254.7L361.2 254.7L361.8 254.7L362.3 254.7L362.9 254.7L363.5 254.7L364.1 254.7L364.7 254.7L365.3 254.7L365.8 257.8L366.4 257.8L367.0 257.8L367.6 257.8L368.2 257.8L368.7 257.8L369.3 257.8L369.9 260.9L370.5 260.9L371.1 260.9L371.6 260.9L372.2 260.9L372.8 260.9L373.4 260.9L374.0 260.9L374.5 264.0L375.1 264.0L375.7 264.0L376.3 264.0L376.9 264.0L377.5 264.0L378.0 264.0L378.6 264.0L379.2 264.0L379.8 264.0L380.4 267.1L380.9 267.1L381.5 267.1L382.1 267.1L382.7 267.1L383.3 267.1L383.8 267.1L384.4 267.1L385.0 270.1L385.6 270.1L386.2 270.1L386.8 270.1L387.3 270.1L387.9 270.1L388.5 270.1L389.1 270.1L389.7 270.1L390.2 273.2L390.8 273.2L391.4 273.2L392.0 273.2L392.6 273.2L393.1 273.2L393.7 273.2L394.3 273.2L394.9 273.2L395.5 276.3L396.0 276.3L396.6 276.3L397.2 276.3L397.8 276.3L398.4 276.3L399.0 276.3L399.5 276.3L400.1 279.4L400.7 279.4L401.3 279.4L401.9 279.4L402.4 279.4L403.0 279.4L403.6 279.4L404.2 282.5L404.8 282.5L405.3 282.5L405.9 282.5L406.5 282.5L407.1 282.5L407.7 282.5L408.3 285.5L408.8 285.5L409.4 285.5L410.0 285.5L410.6 285.5L411.2 285.5L411.7 285.5L412.3 285.5L412.9 288.6L413.5 288.6L414.1 288.6L414.6 288.6L415.2 288.6L415.8 288.6L416.4 291.7L417.0 291.7L417.6 291.7L418.1 291.7L418.7 291.7L419.3 291.7L419.9 294.8L420.5 294.8L421.0 294.8L421.6 294.8L422.2 294.8L422.8 294.8L423.4 297.9L423.9 297.9L424.5 297.9L425.1 297.9L425.7 297.9L426.3 300.9L426.8 300.9L427.4 300.9L428.0 304.0L428.6 304.0L429.2 304.0L429.8 304.0L430.3 307.1L430.9 307.1L431.5 307.1L432.1 307.1L432.7 310.2L433.2 310.2L433.8 310.2L434.4 313.3L435.0 313.3L435.6 313.3L436.1 316.3L436.7 316.3L437.3 316.3L437.9 319.4L438.5 319.4L439.1 319.4L439.6 322.5L440.2 322.5L440.8 322.5L441.4 325.6L442.0 325.6L442.5 325.6L443.1 328.7L443.7 328.7L444.3 328.7L444.9 328.7L445.4 328.7L446.0 331.7L446.6 331.7L447.2 331.7L447.8 331.7L448.3 334.8L448.9 334.8L449.5 334.8L450.1 334.8L450.7 334.8L451.3 334.8L451.8 334.8L452.4 334.8L453.0 334.8L453.6 334.8L454.2 334.8L454.7 334.8L455.3 334.8L455.9 334.8L456.5 337.9L457.1 337.9L457.6 341.0L458.2 341.0L458.8 344.1L459.4 344.1L460.0 344.1L460.6 347.1L461.1 347.1L461.7 347.1L462.3 347.1L462.9 347.1L463.5 350.2L464.0 347.1L464.6 347.1L465.2 347.1L465.8 344.1L466.4 347.1L466.9 350.2L467.5 353.3L468.1 353.3L468.7 356.4L469.3 359.5L469.9 359.5L470.4 359.5L471.0 362.5L471.6 362.5L472.2 362.5L472.8 359.5L473.3 356.4L473.9 353.3L474.5 350.2L475.1 350.2L475.7 350.2L476.2 353.3L476.8 359.5L477.4 362.5L478.0 362.5L478.6 365.6L479.1 365.6L479.7 365.6L480.3 365.6L480.9 365.6L481.5 362.5L482.1 362.5L482.6 362.5L483.2 365.6L483.8 365.6L484.4 365.6L485.0 365.6L485.5 365.6L486.1 365.6L486.7 362.5L487.3 362.5L487.9 362.5L488.4 362.5L489.0 362.5L489.6 362.5L490.2 362.5L490.8 362.5L491.4 365.6L491.9 365.6L492.5 368.7L493.1 371.8L493.7 371.8L494.3 371.8L494.8 371.8L495.4 371.8L496.0 371.8L496.6 371.8L497.2 371.8L497.7 368.7L498.3 365.6L498.9 362.5L499.5 362.5L500.1 362.5L500.6 365.6L501.2 365.6L501.8 368.7L502.4 365.6L503.0 365.6L503.6 365.6L504.1 365.6L504.7 368.7L505.3 368.7L505.9 371.8L506.5 368.7L507.0 368.7L507.6 368.7L508.2 368.7L508.8 368.7L509.4 368.7L509.9 368.7L510.5 371.8L511.1 374.9L511.7 377.9L512.3 381.0L512.9 381.0L513.4 381.0L514.0 381.0L514.6 381.0L515.2 381.0L515.8 381.0L516.3 377.9L516.9 377.9L517.5 377.9L518.1 377.9L518.7 377.9L519.2 377.9L519.8 381.0L520.4 381.0L521.0 384.1L521.6 384.1L522.2 384.1L522.7 387.2L523.3 387.2L523.9 387.2L524.5 387.2L525.1 387.2L525.6 390.3L526.2 390.3L526.8 393.3L527.4 393.3L528.0 396.4L528.5 396.4L529.1 396.4L529.7 393.3L530.3 393.3L530.9 393.3L531.4 390.3L532.0 390.3L532.6 390.3L533.2 387.2L533.8 390.3L534.4 390.3L534.9 393.3L535.5 396.4L536.1 396.4L536.7 396.4L537.3 396.4L537.8 393.3L538.4 393.3L539.0 393.3L539.6 390.3L540.2 390.3L540.7 390.3L541.3 387.2L541.9 387.2L542.5 387.2L543.1 390.3L543.7 390.3L544.2 393.3L544.8 393.3L545.4 396.4L546.0 396.4L546.6 399.5L547.1 399.5L547.7 399.5L548.3 396.4L548.9 393.3L549.5 390.3L550.0 393.3L550.6 393.3L551.2 396.4L551.8 396.4L552.4 399.5L552.9 399.5L553.5 399.5L554.1 396.4L554.7 396.4L555.3 396.4L555.9 396.4L556.4 393.3L557.0 393.3L557.6 393.3L558.2 390.3L558.8 393.3L559.3 393.3L559.9 393.3L560.5 393.3L561.1 396.4L561.7 396.4L562.2 396.4L562.8 396.4L563.4 399.5L564.0 396.4L564.6 396.4L565.2 396.4L565.7 393.3L566.3 393.3L566.9 390.3L567.5 393.3L568.1 393.3L568.6 396.4L569.2 396.4L569.8 399.5L570.4 399.5L571.0 399.5L571.5 399.5L572.1 396.4L572.7 396.4L573.3 393.3L573.9 393.3L574.5 393.3L575.0 396.4L575.6 396.4L576.2 399.5L576.8 399.5L577.4 402.6L577.9 402.6L578.5 405.7L579.1 405.7L579.7 405.7L580.3 405.7L580.8 405.7L581.4 405.7L582.0 405.7L582.6 405.7L583.2 405.7L583.7 405.7L584.3 405.7L584.9 405.7L585.5 402.6L586.1 402.6L586.7 399.5L587.2 399.5L587.8 396.4L588.4 399.5L589.0 399.5L589.6 399.5L590.1 402.6L590.7 402.6L591.3 402.6L591.9 402.6L592.5 402.6L593.0 405.7L593.6 405.7L594.2 405.7L594.8 405.7L595.4 405.7L596.0 405.7L596.5 405.7L597.1 405.7L597.7 405.7L598.3 402.6L598.9 402.6L599.4 402.6L600.0 399.5L600.6 402.6L601.2 402.6L601.8 402.6L602.3 402.6L602.9 402.6L603.5 402.6L604.1 402.6L604.7 402.6L605.2 402.6L605.8 399.5L606.4 399.5L607.0 399.5L607.6 399.5L608.2 402.6L608.7 402.6L609.3 402.6L609.9 402.6L610.5 405.7L611.1 405.7L611.6 405.7L612.2 405.7L612.8 408.7L613.4 408.7L614.0 408.7L614.5 405.7L615.1 405.7L615.7 402.6L616.3 402.6L616.9 399.5L617.5 399.5L618.0 396.4L618.6 393.3L619.2 390.3L619.8 390.3L620.4 393.3L620.9 393.3L621.5 393.3L622.1 393.3L622.7 396.4L623.3 396.4L623.8 396.4L624.4 399.5L625.0 399.5L625.6 399.5L626.2 402.6L626.8 402.6L627.3 405.7L627.9 405.7L628.5 405.7L629.1 405.7L629.7 408.7L630.2 408.7L630.8 408.7L631.4 408.7L632.0 405.7L632.6 405.7L633.1 402.6L633.7 399.5L634.3 396.4L634.9 396.4L635.5 393.3L636.0 390.3L636.6 387.2L637.2 387.2L637.8 390.3L638.4 390.3L639.0 390.3L639.5 390.3L640.1 390.3L640.7 390.3L641.3 387.2L641.9 384.1L642.4 387.2L643.0 387.2L643.6 387.2L644.2 390.3L644.8 390.3L645.3 390.3L645.9 393.3L646.5 396.4L647.1 399.5L647.7 402.6L648.3 405.7L648.8 408.7L649.4 408.7L650.0 408.7L650.6 405.7L651.2 405.7L651.7 405.7L652.3 405.7L652.9 405.7L653.5 402.6L654.1 402.6L654.6 402.6L655.2 402.6L655.8 399.5L656.4 399.5L657.0 399.5L657.5 399.5L658.1 399.5L658.7 399.5L659.3 399.5L659.9 399.5L660.5 399.5L661.0 399.5L661.6 399.5L662.2 399.5L662.8 396.4L663.4 396.4L663.9 396.4L664.5 393.3L665.1 396.4L665.7 396.4L666.3 396.4L666.8 399.5L667.4 399.5L668.0 399.5L668.6 402.6L669.2 402.6L669.8 402.6L670.3 405.7L670.9 405.7L671.5 405.7L672.1 405.7L672.7 405.7L673.2 405.7L673.8 405.7L674.4 405.7L675.0 405.7L675.6 405.7L676.1 402.6L676.7 402.6L677.3 402.6L677.9 399.5L678.5 399.5L679.1 399.5L679.6 402.6L680.2 402.6L680.8 402.6L681.4 402.6L682.0 405.7L682.5 402.6L683.1 402.6L683.7 399.5L684.3 396.4L684.9 393.3L685.4 390.3L686.0 387.2L686.6 387.2L687.2 384.1L687.8 384.1L688.3 384.1L688.9 384.1L689.5 384.1L690.1 384.1L690.7 384.1L691.3 381.0L691.8 381.0L692.4 381.0L693.0 381.0L693.6 377.9L694.2 377.9L694.7 377.9L695.3 377.9L695.9 374.9L696.5 374.9L697.1 374.9L697.6 374.9L698.2 371.8L698.8 371.8L699.4 371.8L700.0 371.8L700.6 371.8L701.1 371.8L701.7 371.8L702.3 371.8L702.9 371.8L703.5 371.8L704.0 368.7L704.6 368.7L705.2 368.7L705.8 365.6L706.4 365.6L706.9 365.6L707.5 365.6L708.1 365.6L708.7 365.6L709.3 365.6L709.9 365.6L710.4 362.5L711.0 362.5L711.6 362.5L712.2 362.5L712.8 359.5L713.3 359.5L713.9 359.5L714.5 359.5L715.1 359.5L715.7 359.5L716.2 359.5L716.8 359.5L717.4 359.5L718.0 359.5L718.6 356.4L719.1 356.4L719.7 356.4L720.3 353.3L720.9 353.3L721.5 353.3L722.1 353.3L722.6 353.3L723.2 353.3L723.8 350.2L724.4 350.2L725.0 350.2L725.5 350.2L726.1 350.2L726.7 350.2L727.3 350.2L727.9 350.2L728.4 350.2L729.0 350.2L729.6 350.2L730.2 350.2L730.8 350.2L731.4 347.1L731.9 347.1L732.5 347.1L733.1 347.1L733.7 344.1L734.3 344.1L734.8 344.1L735.4 344.1L736.0 341.0L736.6 341.0L737.2 341.0L737.7 341.0L738.3 341.0L738.9 341.0L739.5 341.0L740.1 341.0L740.6 341.0L741.2 341.0L741.8 341.0L742.4 341.0L743.0 341.0L743.6 341.0L744.1 337.9L744.7 337.9L745.3 337.9L745.9 334.8L746.5 334.8L747.0 334.8L747.6 334.8L748.2 331.7L748.8 331.7L749.4 331.7L749.9 331.7L750.5 328.7L751.1 328.7L751.7 328.7L752.3 328.7L752.9 325.6L753.4 325.6L754.0 325.6L754.6 322.5L755.2 322.5L755.8 322.5L756.3 322.5L756.9 322.5L757.5 319.4L758.1 319.4L758.7 319.4L759.2 319.4L759.8 319.4L760.4 319.4L761.0 316.3L761.6 316.3L762.1 316.3L762.7 316.3L763.3 316.3L763.9 316.3L764.5 313.3L765.1 313.3L765.6 313.3L766.2 313.3L766.8 313.3L767.4 313.3L768.0 313.3L768.5 313.3L769.1 313.3L769.7 313.3L770.3 313.3L770.9 313.3L771.4 310.2L772.0 310.2L772.6 310.2L773.2 310.2L773.8 310.2L774.4 307.1L774.9 307.1L775.5 307.1L776.1 307.1L776.7 307.1L777.3 307.1L777.8 304.0L778.4 304.0L779.0 304.0L779.6 304.0L780.2 304.0L780.7 304.0L781.3 304.0L781.9 304.0L782.5 304.0L783.1 304.0L783.7 304.0L784.2 304.0L784.8 304.0L785.4 300.9L786.0 300.9L786.6 300.9L787.1 300.9L787.7 300.9L788.3 300.9L788.9 300.9L789.5 300.9L790.0 300.9L790.6 300.9L791.2 297.9L791.8 297.9L792.4 297.9L792.9 297.9L793.5 297.9L794.1 297.9L794.7 294.8L795.3 294.8L795.9 294.8L796.4 294.8L797.0 294.8L797.6 294.8L798.2 294.8L798.8 294.8L799.3 294.8L799.9 294.8L800.5 294.8L801.1 294.8L801.7 294.8L802.2 294.8L802.8 294.8L803.4 294.8L804.0 294.8L804.6 294.8L805.2 294.8L805.7 294.8L806.3 294.8L806.9 294.8L807.5 294.8L808.1 294.8L808.6 294.8L809.2 291.7L809.8 291.7L810.4 291.7L811.0 291.7L811.5 291.7L812.1 291.7L812.7 291.7L813.3 291.7L813.9 291.7L814.4 291.7L815.0 291.7L815.6 291.7L816.2 291.7L816.8 291.7L817.4 291.7L817.9 288.6L818.5 288.6L819.1 288.6L819.7 288.6L820.3 288.6L820.8 288.6L821.4 288.6L822.0 288.6L822.6 285.5L823.2 285.5L823.7 285.5L824.3 285.5L824.9 285.5L825.5 285.5L826.1 285.5L826.7 285.5L827.2 285.5L827.8 285.5L828.4 282.5L829.0 282.5L829.6 282.5L830.1 282.5L830.7 282.5L831.3 282.5L831.9 282.5L832.5 282.5L833.0 282.5L833.6 282.5L834.2 282.5L834.8 279.4L835.4 279.4L836.0 279.4L836.5 279.4L837.1 279.4L837.7 279.4L838.3 279.4L838.9 279.4L839.4 279.4L840.0 276.3L840.6 276.3L841.2 276.3L841.8 276.3L842.3 276.3L842.9 276.3L843.5 276.3L844.1 276.3L844.7 276.3L845.2 276.3L845.8 273.2L846.4 273.2L847.0 273.2L847.6 273.2L848.2 273.2L848.7 273.2L849.3 273.2L849.9 273.2L850.5 273.2L851.1 273.2L851.6 273.2L852.2 270.1L852.8 270.1L853.4 270.1L854.0 270.1L854.5 270.1L855.1 270.1L855.7 270.1L856.3 267.1L856.9 267.1L857.5 267.1L858.0 267.1L858.6 267.1L859.2 267.1L859.8 267.1L860.4 264.0L860.9 264.0L861.5 264.0L862.1 264.0L862.7 264.0L863.3 264.0L863.8 264.0L864.4 260.9L865.0 260.9L865.6 260.9L866.2 260.9L866.8 260.9L867.3 260.9L867.9 260.9L868.5 260.9L869.1 257.8L869.7 257.8L870.2 257.8L870.8 257.8L871.4 257.8L872.0 257.8L872.6 257.8L873.1 254.7L873.7 254.7L874.3 254.7L874.9 254.7L875.5 254.7L876.0 254.7L876.6 254.7L877.2 254.7L877.8 254.7L878.4 254.7L879.0 254.7L879.5 254.7L880.1 254.7L880.7 254.7L881.3 254.7L881.9 254.7L882.4 254.7L883.0 254.7L883.6 254.7L884.2 257.8L884.8 257.8L885.3 257.8L885.9 257.8L886.5 257.8L887.1 260.9L887.7 260.9L888.3 260.9L888.8 260.9L889.4 260.9L890.0 260.9L890.6 260.9L891.2 260.9L891.7 260.9L892.3 260.9L892.9 260.9L893.5 260.9L894.1 260.9L894.6 260.9L895.2 260.9L895.8 260.9L896.4 260.9L897.0 260.9L897.5 260.9L898.1 260.9L898.7 260.9L899.3 260.9L899.9 260.9L900.5 260.9L901.0 260.9L901.6 260.9L902.2 260.9L902.8 260.9L903.4 260.9L903.9 260.9L904.5 260.9L905.1 260.9L905.7 260.9L906.3 260.9L906.8 260.9L907.4 260.9L908.0 260.9L908.6 260.9L909.2 260.9L909.8 260.9L910.3 260.9L910.9 260.9L911.5 257.8L912.1 257.8L912.7 257.8L913.2 257.8L913.8 257.8L914.4 257.8L915.0 257.8L915.6 257.8L916.1 257.8L916.7 257.8L917.3 257.8L917.9 257.8L918.5 257.8L919.1 257.8L919.6 257.8L920.2 257.8L920.8 257.8L921.4 257.8L922.0 257.8L922.5 257.8L923.1 254.7L923.7 254.7L924.3 254.7L924.9 254.7L925.4 254.7L926.0 251.7L926.6 251.7L927.2 251.7L927.8 251.7L928.3 251.7" stroke="#989898" stroke-width="1" fill="none" stroke-linejoin="round" stroke-linecap="butt" stroke-linejoin="miter"/>
<path d="M92.7 348.7L127.6 347.8L169.4 347.8L169.4 350.2L200.8 350.2L200.8 347.1L207.8 347.1L207.8 350.2L382.1 350.2L382.1 351.5L389.1 351.5L389.1 350.2L437.9 350.2L437.9 351.5L476.2 351.5L476.2 344.1L563.4 344.1L563.4 346.5L577.4 346.5L577.4 350.2L709.9 350.8L720.0 350.7L727.3 349.3L735.0 344.4L739.8 343.8L746.1 340.7L748.6 335.1L752.4 332.7L757.3 326.5L767.4 326.5L769.8 331.4L776.1 336.1L781.3 337.6L788.3 334.2L798.8 323.9L805.0 329.0L807.5 331.4L824.9 331.4L828.4 327.7L832.6 320.0L836.1 326.5L838.5 330.2L842.3 331.7L859.8 329.6L877.2 326.8L898.1 328.7L929.5 328.7" stroke="#cfcfcf" stroke-width="1" fill="none" stroke-linejoin="round" stroke-linecap="butt" />
<path d="M92.7 297.9L95.6 297.9L96.2 300.9L97.4 300.9L97.9 304.0L101.9 304.0L102.5 300.9L105.4 300.9L106.0 297.9L108.0 297.9L108.4 294.8L108.8 297.9L111.5 297.9L111.9 295.4L112.3 297.9L116.7 297.9L117.1 294.8L117.5 297.9L121.9 297.9L122.3 295.4L122.8 297.9L125.3 297.9L125.8 294.8L129.8 294.8L130.4 291.7L132.4 291.7L132.8 288.6L133.2 291.7L135.9 291.7L136.3 288.0L136.7 291.7L139.4 291.7L139.8 289.2L140.2 291.7L141.8 291.7L142.2 288.6L142.6 291.7L144.4 291.7L145.0 294.8L147.2 294.8L147.8 297.9L149.8 297.9L150.2 295.4L150.7 297.9L153.1 297.9L153.7 300.9L161.9 300.9L162.4 304.0L174.1 304.0L174.6 307.1L261.2 307.1L261.8 310.2L277.1 310.2L277.5 307.7L277.9 310.2L292.8 310.2L293.2 307.7L293.6 310.2L300.8 310.2L301.2 307.7L301.6 310.2L305.0 310.2L305.4 307.1L305.8 310.2L308.5 310.2L308.9 306.5L309.3 310.2L311.8 310.2L312.4 307.1L317.2 307.1L317.6 309.6L318.0 307.1L320.7 307.1L321.1 305.3L321.5 307.1L393.7 307.1L394.3 310.2L407.7 310.2L408.3 313.3L419.9 313.3L420.5 316.3L430.3 316.3L430.9 319.4L440.8 319.4L441.4 322.5L451.3 322.5L451.8 325.6L458.2 325.6L458.8 328.7L466.9 328.7L467.5 331.7L473.9 331.7L474.5 334.8L479.1 334.8L479.7 337.9L487.9 337.9L488.4 341.0L496.6 341.0L497.2 344.1L505.3 344.1L505.9 347.1L514.0 347.1L514.6 350.2L521.0 350.2L521.6 353.3L528.0 353.3L528.5 356.4L534.9 356.4L535.5 359.5L541.9 359.5L542.5 362.5L552.4 362.5L552.9 365.6L557.6 365.6L558.2 368.7L566.3 368.7L566.9 371.8L578.5 371.8L579.1 374.9L587.2 374.9L587.8 377.9L599.4 377.9L600.0 381.0L611.6 381.0L612.2 384.1L672.7 384.1L673.2 387.2L691.8 387.2L692.4 384.1L702.3 384.1L702.9 381.0L707.5 381.0L708.1 377.9L716.2 377.9L716.8 374.9L721.5 374.9L722.1 371.8L731.9 371.8L732.5 368.7L740.6 368.7L741.2 365.6L747.6 365.6L748.2 362.5L754.6 362.5L755.2 358.5L760.5 358.5L761.1 358.5L761.1 358.5L762.1 355.1L768.8 355.1L770.5 344.1L772.3 341.0L773.7 342.8L775.4 336.4L777.5 337.6L779.9 327.7L781.7 325.9L783.8 329.0L786.2 331.4L788.0 323.3L790.4 320.0L793.2 325.3L795.6 318.2L797.4 316.3L799.5 321.3L801.2 322.5L809.9 322.5L810.6 320.0L812.4 318.8L813.8 313.9L816.2 313.9L817.2 318.2L820.0 317.0L821.8 312.6L823.5 310.8L829.8 310.2L831.2 312.6L833.6 312.6L835.4 306.2L836.8 303.7L838.5 309.6L840.6 308.3L842.0 303.4L844.4 306.2L846.9 308.9L850.0 309.6L851.8 306.2L854.9 304.9L857.3 303.1L861.9 301.9L863.6 303.1L866.8 303.7L868.1 307.6L869.9 304.0L887.3 304.0L887.7 307.1L888.1 304.0L901.2 304.0L901.6 306.5L902.0 304.0L902.9 304.0L903.4 305.9L903.8 304.0L928.5 304.0" stroke="#9400d3" stroke-width="2" fill="none" stroke-linejoin="round" stroke-linecap="butt" />
<path d="M92.7 344.1L96.2 344.1L96.2 341.0L103.2 341.0L103.2 337.9L118.9 337.9L118.9 334.8L127.6 334.8L127.6 331.7L148.1 331.7L148.5 329.0L148.9 331.7L159.0 331.7L159.0 328.7L203.9 328.7L204.3 326.2L204.7 328.7L207.8 328.7L207.8 325.6L233.9 325.6L233.9 322.5L308.9 322.5L308.9 319.4L354.2 319.4L354.2 316.3L364.3 316.3L364.7 318.2L365.1 316.3L367.7 316.3L368.2 318.2L368.6 316.3L385.6 316.3L385.6 319.4L450.8 319.4L450.8 322.5L493.7 322.5L502.4 325.0L511.1 326.8L518.1 328.0L521.6 328.7L539.0 328.7L539.0 331.7L549.5 331.7L549.5 334.8L561.7 334.8L561.7 337.9L575.6 337.9L575.6 341.0L591.3 341.0L591.3 344.1L607.0 344.1L607.3 345.6L615.7 346.8L633.1 349.4L650.6 352.1L659.3 353.3L675.0 353.3L675.0 356.4L756.9 356.4L763.9 352.8L772.6 347.8L781.3 343.8L790.0 339.7L798.8 337.0L808.5 335.1L824.9 332.7L835.0 330.2L842.3 328.0L851.1 326.8L859.8 325.6L868.5 325.0L870.2 322.5L875.5 322.5L877.2 325.0L880.7 325.6" stroke="#009e73" stroke-width="2" fill="none" stroke-linejoin="round" stroke-linecap="butt" />
<path d="M92.7 353.3L113.0 353.3L113.6 350.2L170.6 350.2L171.2 347.1L242.1 347.1L242.6 344.1L294.4 344.1L294.9 341.0L353.6 341.0L354.2 337.9L490.3 337.9L490.9 339.4L493.1 339.4L493.7 341.0L545.4 341.0L546.0 344.1L604.7 344.1L605.2 347.1L768.5 347.1L769.1 345.6L770.6 345.6L771.2 344.1L776.2 344.1L776.8 341.0L789.5 341.0L790.0 337.6L805.5 337.6L806.1 334.8L838.3 334.8L838.9 331.7L874.9 331.7L875.5 328.7L927.9 328.7L928.5 328.7" stroke="#56b4e9" stroke-width="2" fill="none" stroke-linejoin="round" stroke-linecap="butt" />
<path d="M92.7 362.5L118.3 362.5L118.9 359.5L121.8 359.5L122.3 362.5L146.2 362.5L146.8 364.7L149.7 364.7L150.2 362.5L353.6 362.5L354.2 356.4L364.1 356.4L364.7 359.5L419.9 359.5L420.5 361.0L430.3 361.0L430.9 359.5L435.6 359.5L436.1 356.4L440.8 356.4L441.4 353.3L448.5 353.3L449.0 358.2L452.3 358.2L452.9 357.0L454.7 357.0L455.3 358.5L458.2 358.5L458.8 357.3L461.0 357.3L461.6 358.5L465.2 358.5L465.8 359.5L616.9 359.5L617.5 362.5L754.6 362.5L755.2 359.2L777.6 359.2L778.2 355.8L786.7 355.8L787.3 352.7L824.3 352.7L824.9 350.2L848.0 350.2L848.6 353.3L871.4 353.3L872.0 356.4L892.3 356.4L892.9 359.5L927.9 359.5L928.5 359.5" stroke="#e69f00" stroke-width="2" fill="none" stroke-linejoin="round" stroke-linecap="butt" />
<path d="M92.7 368.7L252.5 368.7L253.1 365.6L348.4 365.6L349.0 362.5L405.9 362.5L406.5 359.5L409.6 359.5L410.0 357.3L410.4 359.5L413.1 359.5L413.5 361.0L413.9 359.5L416.6 359.5L417.0 357.3L417.4 359.5L435.6 359.5L436.1 357.6L440.8 357.6L441.4 356.4L444.4 356.4L444.9 357.9L445.3 356.4L448.5 356.4L449.0 357.9L453.0 357.9L453.6 359.5L490.3 359.5L490.9 357.0L494.8 357.0L495.4 359.5L550.6 359.5L551.2 362.5L602.9 362.5L603.5 365.6L683.1 365.6L683.7 368.7L697.1 368.7L697.6 365.6L754.6 365.6L755.2 362.2L768.2 362.2L768.8 359.2L776.2 359.2L776.8 356.4L813.2 356.4L813.8 353.3L873.1 353.3L873.7 348.7L880.1 348.7L880.7 347.1L916.7 347.1L917.3 344.1L927.9 344.1L928.5 344.1" stroke="#f0e442" stroke-width="2" fill="none" stroke-linejoin="round" stroke-linecap="butt" />
<path d="M92.7 350.2L97.4 350.2L97.9 347.1L123.5 347.1L124.1 344.1L139.2 344.1L139.8 342.5L141.1 342.5L141.5 341.0L141.9 342.5L144.6 342.5L145.0 344.1L145.4 342.5L148.1 342.5L148.5 341.0L148.9 342.5L151.6 342.5L152.0 341.0L152.4 342.5L154.9 342.5L155.5 344.1L179.5 344.1L179.9 341.6L180.3 344.1L184.7 344.1L185.1 341.6L185.5 344.1L189.9 344.1L190.3 341.6L190.8 344.1L193.2 344.1L193.8 341.0L242.1 341.0L242.6 337.9L280.4 337.9L281.0 334.8L308.3 334.8L308.9 331.7L353.6 331.7L354.2 328.7L378.0 328.7L378.6 325.6L405.9 325.6L406.5 322.5L466.9 322.5L467.5 325.6L477.4 325.6L478.0 328.7L489.6 328.7L490.2 331.7L500.1 331.7L500.6 334.8L508.8 334.8L509.4 337.9L515.8 337.9L516.3 341.0L524.5 341.0L525.1 344.1L531.4 344.1L532.0 347.1L538.4 347.1L539.0 350.2L548.9 350.2L549.5 353.3L555.9 353.3L556.4 356.4L566.3 356.4L566.9 359.5L575.0 359.5L575.6 362.5L585.5 362.5L586.1 365.6L594.2 365.6L594.8 368.7L608.2 368.7L608.7 371.8L622.1 371.8L622.7 374.9L660.5 374.9L661.0 377.9L672.7 377.9L673.2 381.0L690.1 381.0L690.7 377.9L700.6 377.9L701.1 374.9L709.3 374.9L709.9 371.8L740.6 371.8L741.2 368.7L756.7 368.7L757.3 365.6L763.0 365.6L763.5 362.5L776.2 362.5L776.8 359.5L779.4 359.5L779.9 358.5L781.8 358.5L782.4 355.1L783.9 355.1L784.5 350.2L786.7 350.2L787.3 347.1L798.9 347.1L799.5 344.1L807.9 344.1L808.5 341.0L811.8 341.0L812.4 337.6L813.2 337.6L813.8 341.0L829.2 341.0L829.8 344.1L833.7 344.1L834.3 341.0L848.7 341.0L849.3 337.6L850.5 337.6L851.1 341.0L855.7 341.0L856.3 337.9L859.2 337.9L859.8 334.8L865.5 334.8L866.1 337.9L920.2 337.9L920.8 334.8L922.0 334.8L922.5 337.9L927.2 337.9L927.8 334.8L927.9 334.8L928.5 334.8" stroke="#0072b2" stroke-width="2" fill="none" stroke-linejoin="round" stroke-linecap="butt" />
<path d="M92.7 368.7L207.4 368.7L207.8 365.6L208.2 368.7L210.8 368.7L211.3 365.6L211.7 368.7L216.1 368.7L216.5 365.6L216.9 368.7L219.6 368.7L220.0 365.6L220.4 368.7L222.9 368.7L223.5 365.6L390.2 365.6L390.8 362.5L393.9 362.5L394.3 364.4L394.7 362.5L396.3 362.5L396.7 364.4L397.2 362.5L410.3 362.5L410.7 365.3L411.1 362.5L413.1 362.5L413.5 360.7L413.9 362.5L415.2 362.5L415.6 365.0L416.0 362.5L416.4 362.5L417.0 365.6L470.4 365.6L471.0 368.7L484.4 368.7L485.0 365.6L533.2 365.6L533.8 362.5L538.4 362.5L539.0 365.6L555.9 365.6L556.4 368.7L564.6 368.7L565.2 371.8L576.8 371.8L577.4 368.7L578.7 368.7L579.1 370.5L579.5 368.7L580.4 368.7L580.8 366.9L581.3 368.7L583.9 368.7L584.3 370.2L584.7 368.7L587.2 368.7L587.8 365.6L592.5 365.6L593.0 362.5L615.1 362.5L615.7 365.6L623.8 365.6L624.4 368.7L630.8 368.7L631.4 371.8L641.3 371.8L641.9 368.7L644.8 368.7L645.3 371.8L653.5 371.8L654.1 368.7L672.7 368.7L673.2 371.8L693.6 371.8L694.2 374.9L714.5 374.9L715.1 371.8L764.4 371.8L764.9 368.7L771.3 368.7L771.9 365.6L774.5 365.6L775.1 362.5L779.4 362.5L779.9 359.2L787.2 359.2L787.6 356.4L788.0 359.2L789.6 359.2L790.0 357.9L790.5 359.2L795.0 359.2L795.6 355.8L799.7 355.8L800.2 354.2L800.6 355.8L803.6 355.8L804.0 357.0L804.4 355.8L805.5 355.8L806.1 353.3L807.1 353.3L807.5 355.1L807.9 353.3L809.8 353.3L810.3 351.1L810.7 353.3L811.6 353.3L812.0 354.8L812.4 353.3L813.2 353.3L813.8 355.5L817.4 355.5L817.9 359.2L819.6 359.2L820.0 357.3L820.4 359.2L836.9 359.2L837.5 362.5L846.3 362.5L846.9 365.6L849.4 365.6L850.0 362.5L858.1 362.5L858.7 365.6L869.8 365.6L870.2 368.7L870.7 365.6L904.7 365.6L905.1 364.1L905.5 365.6L907.5 365.6L907.9 367.5L908.3 365.6L909.9 365.6L910.3 363.5L910.8 365.6L912.4 365.6L912.8 367.2L913.2 365.6L915.1 365.6L915.6 368.4L916.0 365.6L916.7 365.6L917.3 362.5L927.9 362.5L928.5 362.5" stroke="#e51e10" stroke-width="2" fill="none" stroke-linejoin="round" stroke-linecap="butt" />
<path d="M92.7 334.8L93.3 334.9L93.9 334.9L94.5 334.9L95.0 334.7L95.6 334.9L96.2 334.9L96.8 334.8L97.4 334.8L97.9 334.7L98.5 334.8L99.1 334.8L99.7 334.8L100.3 334.9L100.8 334.7L101.4 334.9L102.0 334.9L102.6 334.8L103.2 334.9L103.8 334.8L104.3 334.7L104.9 334.9L105.5 334.7L106.1 334.8L106.7 334.7L107.2 334.8L107.8 334.8L108.4 334.9L109.0 335.0L109.6 334.9L110.1 334.7L110.7 334.8L111.3 334.8L111.9 334.7L112.5 334.8L113.0 334.7L113.6 334.9L114.2 334.9L114.8 334.7L115.4 334.9L116.0 334.7L116.5 334.8L117.1 334.7L117.7 334.7L118.3 334.8L118.9 335.0L119.4 335.0L120.0 334.8L120.6 334.7L121.2 334.9L121.8 334.8L122.3 334.9L122.9 334.9L123.5 335.0L124.1 334.9L124.7 334.8L125.3 334.9L125.8 334.7L126.4 335.0L127.0 334.9L127.6 334.9L128.2 334.8L128.7 334.7L129.3 334.9L129.9 334.8L130.5 334.7L131.1 334.9L131.6 334.7L132.2 334.8L132.8 334.7L133.4 334.8L134.0 334.8L134.5 334.9L135.1 334.9L135.7 334.9L136.3 334.9L136.9 334.9L137.5 334.9L138.0 334.8L138.6 334.7L139.2 334.7L139.8 334.7L140.4 334.9L140.9 334.7L141.5 334.9L142.1 335.0L142.7 334.9L143.3 334.8L143.8 335.0L144.4 334.9L145.0 334.9L145.6 334.7L146.2 334.9L146.8 334.8L147.3 334.9L147.9 334.9L148.5 334.7L149.1 334.7L149.7 334.8L150.2 334.9L150.8 334.8L151.4 334.9L152.0 334.8L152.6 334.8L153.1 334.9L153.7 334.7L154.3 334.8L154.9 334.9L155.5 334.7L156.1 334.8L156.6 334.9L157.2 334.9L157.8 334.7L158.4 334.9L159.0 334.8L159.5 334.7L160.1 334.9L160.7 334.8L161.3 334.7L161.9 334.7L162.4 334.7L163.0 334.8L163.6 334.7L164.2 334.9L164.8 334.7L165.3 334.8L165.9 334.8L166.5 334.8L167.1 334.9L167.7 334.8L168.3 334.8L168.8 334.7L169.4 334.8L170.0 334.8L170.6 334.9L171.2 334.7L171.7 334.9L172.3 334.8L172.9 334.8L173.5 334.7L174.1 334.9L174.6 334.8L175.2 334.9L175.8 334.8L176.4 334.8L177.0 334.7L177.6 334.7L178.1 334.9L178.7 334.7L179.3 334.9L179.9 334.9L180.5 334.9L181.0 334.8L181.6 335.0L182.2 334.9L182.8 334.8L183.4 334.7L183.9 334.9L184.5 334.7L185.1 334.8L185.7 334.9L186.3 334.7L186.8 334.7L187.4 334.8L188.0 334.8L188.6 334.8L189.2 334.8L189.8 334.7L190.3 334.7L190.9 334.9L191.5 335.0L192.1 334.9L192.7 334.9L193.2 334.8L193.8 334.7L194.4 334.8L195.0 334.9L195.6 334.8L196.1 334.7L196.7 334.8L197.3 334.9L197.9 334.7L198.5 334.7L199.1 334.7L199.6 334.9L200.2 334.9L200.8 334.8L201.4 334.9L202.0 334.9L202.5 334.8L203.1 334.7L203.7 334.8L204.3 334.8L204.9 334.7L205.4 334.9L206.0 334.9L206.6 334.9L207.2 334.8L207.8 334.7L208.4 334.9L208.9 334.7L209.5 334.7L210.1 334.8L210.7 334.7L211.3 334.7L211.8 334.8L212.4 334.9L213.0 335.0L213.6 334.9L214.2 334.8L214.7 335.0L215.3 334.9L215.9 334.8L216.5 334.9L217.1 334.7L217.6 334.8L218.2 334.8L218.8 334.8L219.4 334.8L220.0 334.8L220.6 334.9L221.1 334.8L221.7 335.0L222.3 335.0L222.9 334.9L223.5 334.9L224.0 334.7L224.6 334.9L225.2 334.8L225.8 334.8L226.4 334.8L226.9 334.7L227.5 334.9L228.1 334.9L228.7 334.9L229.3 334.9L229.9 334.8L230.4 334.9L231.0 334.8L231.6 334.8L232.2 334.8L232.8 334.7L233.3 334.9L233.9 334.8L234.5 334.8L235.1 334.7L235.7 334.9L236.2 334.9L236.8 334.7L237.4 334.8L238.0 334.9L238.6 334.7L239.1 334.8L239.7 334.8L240.3 334.7L240.9 334.8L241.5 334.9L242.1 335.0L242.6 334.9L243.2 334.8L243.8 334.9L244.4 334.9L245.0 334.9L245.5 334.8L246.1 334.7L246.7 334.7L247.3 335.0L247.9 334.9L248.4 334.8L249.0 334.9L249.6 334.7L250.2 334.9L250.8 334.8L251.4 334.7L251.9 334.7L252.5 334.9L253.1 334.7L253.7 334.7L254.3 334.7L254.8 334.7L255.4 334.9L256.0 334.9L256.6 335.0L257.2 334.9L257.7 334.9L258.3 334.9L258.9 334.7L259.5 334.7L260.1 334.7L260.7 334.9L261.2 334.9L261.8 334.8L262.4 335.0L263.0 334.9L263.6 334.8L264.1 334.9L264.7 334.9L265.3 334.9L265.9 334.7L266.5 335.0L267.0 334.7L267.6 334.8L268.2 334.8L268.8 334.8L269.4 335.0L269.9 334.7L270.5 334.9L271.1 334.9L271.7 334.8L272.3 334.7L272.9 334.9L273.4 334.8L274.0 334.7L274.6 334.9L275.2 334.8L275.8 334.9L276.3 334.8L276.9 334.8L277.5 334.8L278.1 335.0L278.7 334.9L279.2 334.7L279.8 334.9L280.4 334.9L281.0 334.7L281.6 334.9L282.2 334.8L282.7 334.8L283.3 335.0L283.9 334.8L284.5 334.8L285.1 334.7L285.6 334.7L286.2 335.0L286.8 334.8L287.4 334.9L288.0 334.9L288.5 334.7L289.1 334.9L289.7 334.8L290.3 334.9L290.9 334.8L291.4 334.9L292.0 334.7L292.6 334.8L293.2 334.9L293.8 334.7L294.4 334.9L294.9 334.7L295.5 334.9L296.1 334.7L296.7 334.9L297.3 334.8L297.8 334.8L298.4 334.8L299.0 334.7L299.6 334.8L300.2 334.9L300.7 334.8L301.3 334.8L301.9 334.8L302.5 334.8L303.1 335.0L303.7 334.9L304.2 334.7L304.8 334.9L305.4 334.9L306.0 334.7L306.6 335.0L307.1 335.0L307.7 335.0L308.3 334.9L308.9 335.0L309.5 334.9L310.0 334.9L310.6 334.7L311.2 334.9L311.8 334.8L312.4 334.9L313.0 334.8L313.5 334.9L314.1 334.9L314.7 334.9L315.3 334.9L315.9 334.9L316.4 334.8L317.0 334.7L317.6 335.0L318.2 334.9L318.8 334.8L319.3 334.7L319.9 334.9L320.5 334.9L321.1 334.9L321.7 334.9L322.2 334.8L322.8 334.7L323.4 335.0L324.0 334.9L324.6 334.9L325.2 334.8L325.7 334.7L326.3 335.0L326.9 335.0L327.5 334.9L328.1 334.8L328.6 334.8L329.2 334.7L329.8 334.9L330.4 334.8L331.0 334.7L331.5 334.7L332.1 334.7L332.7 334.9L333.3 334.8L333.9 334.7L334.5 334.9L335.0 334.9L335.6 334.7L336.2 334.9L336.8 334.9L337.4 334.9L337.9 334.7L338.5 334.8L339.1 334.9L339.7 334.8L340.3 334.8L340.8 335.0L341.4 334.7L342.0 331.9L342.6 331.8L343.2 331.7L343.8 331.8L344.3 331.7L344.9 331.6L345.5 331.7L346.1 331.8L346.7 331.6L347.2 331.8L347.8 331.6L348.4 331.7L349.0 331.7L349.6 331.6L350.1 331.9L350.7 331.8L351.3 331.7L351.9 331.9L352.5 331.6L353.0 331.8L353.6 331.7L354.2 331.6L354.8 331.9L355.4 331.9L356.0 331.7L356.5 331.7L357.1 331.6L357.7 331.8L358.3 331.6L358.9 331.7L359.4 331.7L360.0 331.9L360.6 331.6L361.2 331.8L361.8 331.7L362.3 331.6L362.9 331.9L363.5 331.8L364.1 331.6L364.7 331.8L365.3 331.6L365.8 331.6L366.4 331.7L367.0 331.6L367.6 331.7L368.2 331.9L368.7 331.6L369.3 331.7L369.9 331.8L370.5 331.9L371.1 331.8L371.6 331.7L372.2 331.8L372.8 331.6L373.4 331.8L374.0 331.8L374.5 331.9L375.1 331.7L375.7 331.6L376.3 331.8L376.9 331.8L377.5 331.6L378.0 331.7L378.6 331.8L379.2 331.6L379.8 331.7L380.4 331.8L380.9 331.8L381.5 331.7L382.1 331.7L382.7 331.8L383.3 331.8L383.8 331.8L384.4 331.9L385.0 331.7L385.6 331.7L386.2 331.7L386.8 331.9L387.3 331.7L387.9 331.7L388.5 331.7L389.1 331.8L389.7 331.7L390.2 331.8L390.8 331.6L391.4 331.9L392.0 331.9L392.6 331.8L393.1 331.9L393.7 331.8L394.3 331.6L394.9 331.7L395.5 331.8L396.0 331.9L396.6 331.7L397.2 331.7L397.8 331.8L398.4 331.7L399.0 331.7L399.5 331.9L400.1 331.9L400.7 331.9L401.3 331.6L401.9 331.8L402.4 331.8L403.0 331.9L403.6 331.7L404.2 331.8L404.8 331.7L405.3 331.8L405.9 331.8L406.5 331.9L407.1 331.8L407.7 331.6L408.3 331.6L408.8 331.6L409.4 331.6L410.0 331.6L410.6 331.7L411.2 331.7L411.7 331.7L412.3 331.6L412.9 331.7L413.5 331.7L414.1 331.7L414.6 331.6L415.2 331.7L415.8 331.9L416.4 331.7L417.0 331.8L417.6 331.9L418.1 331.9L418.7 331.7L419.3 331.6L419.9 331.7L420.5 331.6L421.0 331.8L421.6 331.8L422.2 331.6L422.8 331.7L423.4 331.7L423.9 331.8L424.5 331.7L425.1 331.8L425.7 331.8L426.3 331.8L426.8 331.8L427.4 331.9L428.0 331.8L428.6 331.6L429.2 331.7L429.8 331.8L430.3 331.7L430.9 331.6L431.5 331.8L432.1 331.6L432.7 331.6L433.2 331.8L433.8 331.9L434.4 331.7L435.0 331.6L435.6 331.8L436.1 331.8L436.7 331.8L437.3 331.9L437.9 331.7L438.5 331.8L439.1 331.6L439.6 331.8L440.2 331.9L440.8 331.7L441.4 331.6L442.0 331.9L442.5 331.6L443.1 331.7L443.7 331.7L444.3 331.6L444.9 331.7L445.4 331.7L446.0 331.9L446.6 331.8L447.2 331.7L447.8 331.8L448.3 331.8L448.9 331.8L449.5 331.6L450.1 331.8L450.7 331.6L451.3 331.8L451.8 331.7L452.4 331.7L453.0 331.8L453.6 331.7L454.2 331.6L454.7 331.9L455.3 331.6L455.9 331.9L456.5 331.8L457.1 331.6L457.6 331.6L458.2 331.6L458.8 331.8L459.4 331.7L460.0 331.6L460.6 331.9L461.1 331.6L461.7 331.7L462.3 331.6L462.9 331.8L463.5 331.7L464.0 331.7L464.6 331.7L465.2 331.7L465.8 331.8L466.4 331.9L466.9 331.8L467.5 331.6L468.1 331.8L468.7 331.6L469.3 331.6L469.9 331.6L470.4 331.7L471.0 331.8L471.6 331.7L472.2 331.7L472.8 331.7L473.3 331.9L473.9 331.9L474.5 331.9L475.1 331.8L475.7 331.8L476.2 331.8L476.8 331.7L477.4 331.7L478.0 331.8L478.6 331.8L479.1 331.6L479.7 331.7L480.3 331.9L480.9 331.8L481.5 331.6L482.1 331.7L482.6 331.8L483.2 331.8L483.8 331.7L484.4 331.8L485.0 331.8L485.5 331.6L486.1 331.8L486.7 331.8L487.3 331.6L487.9 331.6L488.4 331.8L489.0 331.9L489.6 331.8L490.2 331.6L490.8 331.7L491.4 331.8L491.9 331.6L492.5 331.6L493.1 331.7L493.7 331.9L494.3 331.7L494.8 331.8L495.4 331.8L496.0 331.8L496.6 331.8L497.2 331.6L497.7 331.8L498.3 331.8L498.9 331.8L499.5 331.8L500.1 331.8L500.6 331.6L501.2 331.7L501.8 331.7L502.4 331.8L503.0 331.7L503.6 331.7L504.1 331.9L504.7 331.8L505.3 331.7L505.9 331.8L506.5 331.6L507.0 331.8L507.6 331.9L508.2 331.7L508.8 331.6L509.4 331.7L509.9 331.7L510.5 331.8L511.1 331.8L511.7 331.9L512.3 331.8L512.9 331.7L513.4 331.8L514.0 331.6L514.6 331.8L515.2 331.8L515.8 331.8L516.3 331.6L516.9 331.8L517.5 331.8L518.1 331.7L518.7 331.9L519.2 331.7L519.8 331.8L520.4 331.6L521.0 331.8L521.6 331.7L522.2 331.6L522.7 331.7L523.3 331.6L523.9 331.8L524.5 331.6L525.1 331.8L525.6 331.8L526.2 331.6L526.8 331.7L527.4 331.8L528.0 331.7L528.5 331.7L529.1 331.9L529.7 331.7L530.3 331.8L530.9 331.8L531.4 331.7L532.0 331.7L532.6 331.7L533.2 331.7L533.8 331.7L534.4 331.7L534.9 331.7L535.5 331.6L536.1 331.6L536.7 331.8L537.3 331.9L537.8 331.7L538.4 331.8L539.0 331.6L539.6 331.8L540.2 331.9L540.7 331.8" stroke="#000000" stroke-width="2.4" fill="none" stroke-linejoin="round" stroke-linecap="butt" />
<path d="M539.0 331.6L539.6 331.8L540.2 331.9L540.7 331.8L541.3 331.6L541.9 331.9L542.5 331.6L543.1 331.8L543.7 331.7L544.2 331.7L544.8 331.6L545.4 331.9L546.0 331.7L546.6 331.8L547.1 331.6L547.7 331.7L548.3 331.8L548.9 331.8L549.5 331.6L550.0 331.6L550.6 331.7L551.2 331.9L551.8 331.8L552.4 331.7L552.9 331.8L553.5 331.7L554.1 331.9L554.7 331.8L555.3 331.7L555.9 331.6L556.4 331.8L557.0 331.6L557.6 331.8L558.2 331.9L558.8 331.8L559.3 331.8L559.9 331.6L560.5 331.6L561.1 331.6L561.7 331.8L562.2 331.6L562.8 331.6L563.4 331.8L564.0 331.6L564.6 331.8L565.2 331.8L565.7 331.7L566.3 331.8L566.9 331.8L567.5 331.7L568.1 331.7L568.6 331.9L569.2 331.9L569.8 331.7L570.4 331.9L571.0 331.9L571.5 331.6L572.1 331.6L572.7 331.7L573.3 331.6L573.9 331.7L574.5 331.6L575.0 331.9L575.6 331.8L576.2 331.8L576.8 331.8L577.4 331.8L577.9 331.8L578.5 331.7L579.1 331.6L579.7 331.6L580.3 331.8L580.8 331.7L581.4 331.8L582.0 331.8L582.6 331.6L583.2 331.7L583.7 331.9L584.3 331.7L584.9 331.7L585.5 331.7L586.1 331.9L586.7 331.8L587.2 331.8L587.8 331.8L588.4 331.8L589.0 331.6L589.6 331.7L590.1 331.6L590.7 331.8L591.3 331.6L591.9 331.9L592.5 331.8L593.0 334.9L593.6 334.9L594.2 334.7L594.8 334.9L595.4 334.7" stroke="#000000" stroke-width="3.0" fill="none" stroke-linejoin="round" stroke-linecap="butt" />
<path d="M594.2 334.7L594.8 334.9L595.4 334.7L596.0 334.8L596.5 334.7L597.1 335.0L597.5 335.0L597.7 335.0L597.9 333.4L598.2 334.8L598.3 335.0L598.3 335.0L598.6 332.3L598.9 334.7L599.0 334.8L599.3 334.9L599.4 334.8L599.7 332.7L600.0 335.0L600.1 334.9L600.3 334.9L600.6 334.9L600.7 333.6L601.1 334.9L601.2 334.9L601.8 334.9L602.3 334.9L602.9 334.9L603.5 334.9L604.1 334.8L604.7 334.9L605.2 334.8L605.8 334.7L606.4 334.9L607.0 334.8L607.6 334.8L608.2 334.9L608.7 334.9L609.3 334.9L609.9 334.8L610.5 334.7L611.1 334.7L611.6 334.9L612.2 334.8L612.8 334.8L613.4 334.9L614.0 334.7L614.5 334.7L615.1 334.8L615.7 334.9L616.3 334.7L616.9 334.8L617.5 334.8L618.0 334.7L618.6 334.7L619.2 334.7L619.8 334.9L620.4 334.8L620.9 334.8L621.5 334.9L622.1 334.7L622.7 334.9L623.3 334.7L623.8 335.0L624.4 334.9L625.0 335.0L625.6 334.9L626.2 335.0L626.8 334.9L627.3 334.8L627.9 334.7L628.5 334.7L629.1 334.7L629.7 334.7L630.2 334.9L630.8 334.9L631.4 335.0L632.0 334.9L632.6 334.9L633.1 334.8L633.7 334.7L634.3 334.9L634.9 334.8L635.5 334.8L636.0 334.9L636.6 335.0L637.2 334.9L637.8 334.9L638.4 334.8L639.0 334.9L639.5 334.8L640.1 334.8L640.7 334.9L641.3 334.7L641.9 334.8L642.4 334.9L643.0 335.0L643.6 334.8L644.2 334.9L644.8 334.7L645.3 334.9L645.9 334.9L646.5 334.8L647.1 335.0L647.7 334.7L648.3 334.7L648.8 334.9L649.4 334.9L650.0 334.7L650.6 334.7L651.2 334.8L651.7 334.8L652.3 334.8L652.9 334.8L653.5 334.8L654.1 334.7L654.6 334.7L655.2 334.8L655.8 334.9L656.4 334.7L657.0 334.7L657.5 334.8L658.1 334.7L658.7 334.7L659.3 334.7L659.9 334.7L660.5 334.8L661.0 334.9L661.6 334.9L662.2 334.7L662.8 334.8L663.4 334.9L663.9 334.9L664.5 334.7L665.1 334.9L665.7 334.8L666.3 334.7L666.8 334.9L667.4 335.0L668.0 334.9L668.6 334.8L669.2 334.7L669.8 334.8L670.3 335.0L670.9 334.9L671.5 334.8L672.1 334.9L672.7 334.9L673.2 334.9L673.8 334.7L674.4 334.9L675.0 334.7L675.6 334.7L676.1 334.9L676.7 334.8L677.3 334.9L677.9 334.9L678.5 334.9L679.1 334.8L679.6 334.9L680.2 334.7L680.8 334.8L681.4 334.9L682.0 334.9L682.5 334.9L683.1 334.7L683.7 334.7L684.3 334.9L684.9 334.8L685.4 334.7L686.0 334.8L686.6 334.9L687.2 334.7L687.8 335.0L688.3 334.7L688.9 334.7L689.5 334.8L690.1 334.9L690.7 334.9L691.3 334.9L691.8 334.8L692.4 334.8L693.0 334.9L693.6 334.9L694.2 334.9L694.7 335.0L695.3 334.8L695.9 334.8L696.5 334.8L697.1 334.8L697.6 334.8L698.2 334.7L698.8 334.9L699.4 334.8L700.0 334.8L700.6 334.8L701.1 335.0L701.7 334.9L702.3 334.8L702.9 334.8L703.5 334.9L704.0 334.9L704.6 334.9L705.2 334.8L705.8 334.8L706.4 334.9L706.9 334.9L707.5 334.9L708.1 334.9L708.7 334.8L709.3 334.7L709.9 334.8L710.4 334.7L711.0 334.9L711.6 334.9L712.2 334.8L712.8 334.7L713.3 334.7L713.9 334.8L714.5 334.9L715.1 334.8L715.7 334.9L716.2 334.9L716.8 334.8L717.4 334.8L718.0 334.9L718.6 334.8L719.1 334.9L719.7 334.9L720.3 334.7L720.9 334.7L721.5 334.7L722.1 334.9L722.6 334.7L723.2 334.7L723.8 335.0L724.4 334.9L725.0 334.9L725.5 334.9L726.1 334.8L726.7 334.7L727.3 334.8L727.9 334.7L728.4 334.8L729.0 334.7L729.6 334.8L730.2 334.7L730.8 334.9L731.4 334.8L731.9 334.9L732.5 334.9L733.1 334.9L733.7 335.0L734.3 334.8L734.8 334.9L735.4 334.8L736.0 334.8L736.6 334.8L737.2 334.7L737.7 334.8L738.3 334.8L738.9 334.7L739.5 334.8L740.1 334.7L740.6 334.8L741.2 335.0L741.8 334.9L742.4 334.9L743.0 334.8L743.6 334.9L744.1 334.8L744.7 334.9L745.3 334.8L745.9 334.7L746.5 334.8L747.0 334.8L747.6 334.8L748.2 334.8L748.8 334.8L749.4 334.7L749.9 334.8L750.5 334.8L751.1 334.7L751.7 334.7L752.3 335.0L752.9 334.9L753.4 334.9L754.0 334.9L754.6 334.9L755.2 334.8L755.8 334.8L756.3 334.8L756.9 334.9L757.5 334.7L758.1 334.7L758.7 334.7L759.2 335.0L759.8 334.7L760.4 334.7L761.0 334.8L761.6 334.8L762.1 334.7L762.7 334.9L763.3 334.7L763.9 334.8L764.5 334.7L765.1 334.7L765.6 334.8L766.2 334.9L766.8 334.9L767.4 334.8L768.0 334.9L768.5 334.9L769.1 334.9L769.7 334.8L770.3 334.8L770.9 334.7L771.4 335.0L772.0 334.8L772.6 334.9L773.2 334.8L773.8 334.9L774.4 334.8L774.9 334.8L775.5 334.9L776.1 334.8L776.7 334.8L777.3 334.8L777.8 334.7L778.4 334.7L779.0 334.7L779.6 335.0L780.2 334.8L780.7 334.9L781.3 334.7L781.9 334.9L782.5 334.7L783.1 334.9L783.7 334.9L784.2 334.9L784.8 334.9L785.4 334.7L786.0 334.9L786.6 334.8L787.1 334.7L787.7 334.9L788.3 334.8L788.9 334.8L789.5 334.8L790.0 335.0L790.6 334.9L791.2 334.8L791.8 334.9L792.4 335.0L792.9 334.7L793.5 334.9L794.1 334.8L794.7 334.9L795.3 334.8L795.9 334.7L796.4 334.7L797.0 334.8L797.6 334.7L798.2 334.7L798.8 334.7L799.3 335.0L799.9 334.8L800.5 334.9L801.1 334.7L801.7 334.7L802.2 334.7L802.8 334.8L803.4 334.9L804.0 334.9L804.6 334.7L805.2 334.7L805.7 334.9L806.3 335.0L806.9 334.8L807.5 334.9L808.1 334.8L808.6 334.8L809.2 334.8L809.8 334.9L810.4 334.8L811.0 334.7L811.5 334.8L812.1 334.9L812.7 334.9L813.3 334.7L813.9 334.8L814.4 334.9L815.0 334.8L815.6 334.7L816.2 334.8L816.8 334.9L817.4 334.7L817.9 334.8L818.5 334.8L819.1 334.9L819.7 334.8L820.3 334.8L820.8 334.9L821.4 334.7L822.0 334.8L822.6 334.8L823.2 331.7L823.7 331.8L824.3 331.9L824.9 331.6L825.5 331.8L826.1 331.8L826.7 331.8L827.2 331.7L827.8 331.7L828.4 331.8L829.0 331.8L829.6 331.8L830.1 331.7L830.7 331.8L831.3 331.7L831.9 331.6L832.5 331.9L833.0 331.7L833.6 331.8L834.2 331.8L834.8 331.8L835.4 331.8L836.0 331.9L836.5 331.9L837.1 331.9L837.7 331.8L838.3 331.6L838.9 331.8L839.4 331.6L840.0 331.8L840.6 331.7L841.2 331.6L841.8 331.8L842.3 331.7L842.9 331.7L843.5 331.9L844.1 331.9L844.7 331.8L845.2 331.8L845.8 331.8L846.4 331.7L847.0 331.7L847.6 331.8L848.2 331.6L848.7 331.8L849.3 331.7L849.9 331.6L850.5 331.9L851.1 331.6L851.6 331.9L852.2 331.9L852.8 331.7L853.4 331.7L854.0 331.6L854.5 331.7L855.1 331.8L855.7 331.7L856.3 331.6L856.9 331.6L857.5 331.7L858.0 331.8L858.6 331.8L859.2 331.7L859.8 331.9L860.4 331.8L860.9 331.8L861.5 331.8L862.1 331.7L862.7 331.8L863.3 331.7L863.8 331.6L864.4 331.7L865.0 331.7L865.6 331.7L866.2 331.7L866.8 331.7L867.3 331.8L867.9 331.7L868.5 331.6L869.1 331.8L869.7 331.7L870.2 331.8L870.8 331.7L871.4 331.8L872.0 331.8L872.6 331.8L873.1 331.8L873.7 331.9L874.3 331.9L874.9 331.6L875.5 331.7L876.0 331.8L876.6 331.8L877.2 331.6L877.8 331.9L878.4 331.8L879.0 331.9L879.5 331.8L880.1 331.8L880.7 331.9L881.3 331.7L881.9 331.7L882.4 331.7L883.0 331.7L883.6 331.9L884.2 331.9L884.8 331.7L885.3 331.8L885.9 331.8L886.5 331.7L887.1 331.7L887.7 331.8L888.3 331.6L888.8 331.9L889.4 331.9L890.0 331.8L890.6 331.6L891.2 331.7L891.7 331.7L892.3 331.9L892.9 331.7L893.5 331.6L894.1 331.7L894.6 331.7L895.2 331.8L895.8 331.8L896.4 331.6L897.0 331.7L897.5 331.9L898.1 331.8L898.7 331.9L899.3 331.8L899.9 331.8L900.5 331.8L901.0 331.6L901.6 331.6L902.2 331.7L902.8 331.8L903.4 331.8L903.9 331.6L904.5 331.9L905.1 331.8L905.7 331.9L906.3 331.7L906.8 331.7L907.4 331.7L908.0 331.9L908.6 331.8L909.2 331.8L909.8 331.6L910.3 331.8L910.9 331.9L911.5 331.8L912.1 331.7L912.7 331.8L913.2 331.7L913.8 331.6L914.4 331.8L915.0 331.7L915.6 331.8L916.1 331.6L916.7 331.7L917.3 331.6L917.9 331.7L918.5 331.6L919.1 331.8L919.6 331.6L920.2 331.7L920.8 331.9L921.4 331.7L922.0 331.8L922.5 331.9L923.1 331.9L923.7 331.9L924.3 331.8L924.9 331.6L925.4 331.7L926.0 331.7L926.6 331.9L927.2 331.7L927.8 331.8L928.3 331.9" stroke="#000000" stroke-width="2.5" fill="none" stroke-linejoin="round" stroke-linecap="butt" />
</g>
<path d="M92.50 414.90v-7.60M92.50 230.10v7.60M110.50 414.90v-4.10M110.50 230.10v4.10M127.50 414.90v-7.60M127.50 230.10v7.60M145.50 414.90v-4.10M145.50 230.10v4.10M162.50 414.90v-7.60M162.50 230.10v7.60M179.50 414.90v-4.10M179.50 230.10v4.10M197.50 414.90v-7.60M197.50 230.10v7.60M214.50 414.90v-4.10M214.50 230.10v4.10M232.50 414.90v-7.60M232.50 230.10v7.60M249.50 414.90v-4.10M249.50 230.10v4.10M267.50 414.90v-7.60M267.50 230.10v7.60M284.50 414.90v-4.10M284.50 230.10v4.10M301.50 414.90v-7.60M301.50 230.10v7.60M319.50 414.90v-4.10M319.50 230.10v4.10M336.50 414.90v-7.60M336.50 230.10v7.60M354.50 414.90v-4.10M354.50 230.10v4.10M371.50 414.90v-7.60M371.50 230.10v7.60M389.50 414.90v-4.10M389.50 230.10v4.10M406.50 414.90v-7.60M406.50 230.10v7.60M423.50 414.90v-4.10M423.50 230.10v4.10M441.50 414.90v-7.60M441.50 230.10v7.60M458.50 414.90v-4.10M458.50 230.10v4.10M476.50 414.90v-7.60M476.50 230.10v7.60M493.50 414.90v-4.10M493.50 230.10v4.10M511.50 414.90v-7.60M511.50 230.10v7.60M528.50 414.90v-4.10M528.50 230.10v4.10M545.50 414.90v-7.60M545.50 230.10v7.60M563.50 414.90v-4.10M563.50 230.10v4.10M580.50 414.90v-7.60M580.50 230.10v7.60M598.50 414.90v-4.10M598.50 230.10v4.10M615.50 414.90v-7.60M615.50 230.10v7.60M633.50 414.90v-4.10M633.50 230.10v4.10M650.50 414.90v-7.60M650.50 230.10v7.60M668.50 414.90v-4.10M668.50 230.10v4.10M685.50 414.90v-7.60M685.50 230.10v7.60M702.50 414.90v-4.10M702.50 230.10v4.10M720.50 414.90v-7.60M720.50 230.10v7.60M737.50 414.90v-4.10M737.50 230.10v4.10M755.50 414.90v-7.60M755.50 230.10v7.60M772.50 414.90v-4.10M772.50 230.10v4.10M790.50 414.90v-7.60M790.50 230.10v7.60M807.50 414.90v-4.10M807.50 230.10v4.10M824.50 414.90v-7.60M824.50 230.10v7.60M842.50 414.90v-4.10M842.50 230.10v4.10M859.50 414.90v-7.60M859.50 230.10v7.60M877.50 414.90v-4.10M877.50 230.10v4.10M894.50 414.90v-7.60M894.50 230.10v7.60M912.50 414.90v-4.10M912.50 230.10v4.10M929.50 414.90v-7.60M929.50 230.10v7.60M92.71 414.50h7.60M929.51 414.50h-7.60M92.71 399.50h4.10M929.51 399.50h-4.10M92.71 384.50h7.60M929.51 384.50h-7.60M92.71 368.50h4.10M929.51 368.50h-4.10M92.71 353.50h7.60M929.51 353.50h-7.60M92.71 337.50h4.10M929.51 337.50h-4.10M92.71 322.50h7.60M929.51 322.50h-7.60M92.71 307.50h4.10M929.51 307.50h-4.10M92.71 291.50h7.60M929.51 291.50h-7.60M92.71 276.50h4.10M929.51 276.50h-4.10M92.71 260.50h7.60M929.51 260.50h-7.60M92.71 245.50h4.10M929.51 245.50h-4.10M92.71 230.50h7.60M929.51 230.50h-7.60" stroke="#000" stroke-width="1" fill="none"/>
<rect x="92.5" y="230.5" width="837.0" height="184.0" fill="none" stroke="#000" stroke-width="1"/>
<text x="83.5" y="420.30" text-anchor="end">40</text>
<text x="83.5" y="390.30" text-anchor="end">50</text>
<text x="83.5" y="359.30" text-anchor="end">60</text>
<text x="83.5" y="328.30" text-anchor="end">70</text>
<text x="83.5" y="297.30" text-anchor="end">80</text>
<text x="83.5" y="266.30" text-anchor="end">90</text>
<text x="83.5" y="236.30" text-anchor="end">100</text>
<text transform="translate(33.5 322.5) rotate(-90)" text-anchor="middle">relative humidity</text>
<text transform="translate(51.2 322.5) rotate(-90)" text-anchor="middle">(pct)</text>
</g>
<g>
<path d="M127.50 414.50V599.50M162.50 414.50V599.50M197.50 414.50V599.50M232.50 414.50V599.50M267.50 414.50V599.50M301.50 414.50V599.50M336.50 414.50V599.50M371.50 414.50V599.50M406.50 414.50V599.50M441.50 414.50V599.50M476.50 414.50V599.50M511.50 414.50V599.50M545.50 414.50V599.50M580.50 414.50V599.50M615.50 414.50V599.50M650.50 414.50V599.50M685.50 414.50V599.50M720.50 414.50V599.50M755.50 414.50V599.50M790.50 414.50V599.50M824.50 414.50V599.50M859.50 414.50V599.50M894.50 414.50V599.50M92.50 579.50H929.50M92.50 558.50H929.50M92.50 538.50H929.50M92.50 517.50H929.50M92.50 497.50H929.50M92.50 476.50H929.50M92.50 455.50H929.50M92.50 435.50H929.50" stroke="#b4b4b4" stroke-width="1" fill="none"/>
<clipPath id="cp2"><rect x="92.71" y="414.78" width="836.8" height="185.04000000000008"/></clipPath>
<g clip-path="url(#cp2)">
<path d="M92.7 548.4L97.9 548.4L98.5 538.1L103.8 538.1L104.3 538.1L109.6 538.1L110.1 538.1L115.4 538.1L116.0 558.7L121.2 558.7L121.8 538.1L127.0 538.1L127.6 538.1L132.8 538.1L133.4 558.7L138.6 558.7L139.2 538.1L144.4 538.1L145.0 527.9L150.2 527.9L150.8 548.4L156.1 548.4L156.6 507.3L161.9 507.3L162.4 527.9L167.7 527.9L168.3 517.6L173.5 517.6L174.1 517.6L179.3 517.6L179.9 538.1L185.1 538.1L185.7 507.3L190.9 507.3L191.5 517.6L196.7 517.6L197.3 517.6L202.5 517.6L203.1 497.0L208.4 497.0L208.9 527.9L214.2 527.9L214.7 517.6L220.0 517.6L220.6 527.9L225.8 527.9L226.4 548.4L231.6 548.4L232.2 527.9L237.4 527.9L238.0 558.7L243.2 558.7L243.8 497.0L249.0 497.0L249.6 538.1L254.8 538.1L255.4 558.7L260.7 558.7L261.2 558.7L266.5 558.7L267.0 558.7L272.3 558.7L272.9 548.4L278.1 548.4L278.7 527.9L283.9 527.9L284.5 517.6L289.7 517.6L290.3 527.9L295.5 527.9L296.1 558.7L301.3 558.7L301.9 538.1L307.1 538.1L307.7 548.4L313.0 548.4L313.5 538.1L318.8 538.1L319.3 558.7L324.6 558.7L325.2 538.1L330.4 538.1L331.0 527.9L336.2 527.9L336.8 527.9L342.0 527.9L342.6 548.4L347.8 548.4L348.4 548.4L353.6 548.4L354.2 497.0L359.4 497.0L360.0 538.1L365.3 538.1L365.8 548.4L371.1 548.4L371.6 486.7L376.9 486.7L377.5 558.7L382.7 558.7L383.3 558.7L388.5 558.7L389.1 527.9L394.3 527.9L394.9 569.0L400.1 569.0L400.7 569.0L405.9 569.0L406.5 569.0L411.7 569.0L412.3 558.7L417.6 558.7L418.1 558.7L423.4 558.7L423.9 558.7L429.2 558.7L429.8 558.7L435.0 558.7L435.6 558.7L440.8 558.7L441.4 558.7L446.6 558.7L447.2 569.0L452.4 569.0L453.0 579.3L458.2 579.3L458.8 558.7L464.0 558.7L464.6 558.7L469.9 558.7L470.4 558.7L475.7 558.7L476.2 558.7L481.5 558.7L482.1 569.0L487.3 569.0L487.9 558.7L493.1 558.7L493.7 558.7L498.9 558.7L499.5 548.4L504.7 548.4L505.3 558.7L510.5 558.7L511.1 548.4L516.3 548.4L516.9 558.7L522.2 558.7L522.7 558.7L528.0 558.7L528.5 569.0L533.8 569.0L534.4 569.0L539.6 569.0L540.2 569.0L545.4 569.0L546.0 569.0L551.2 569.0L551.8 569.0L557.0 569.0L557.6 569.0L562.8 569.0L563.4 558.7L568.6 558.7L569.2 569.0L574.5 569.0L575.0 569.0L580.3 569.0L580.8 569.0L586.1 569.0L586.7 569.0L591.9 569.0L592.5 569.0L597.7 569.0L598.3 538.1L603.5 538.1L604.1 558.7L609.3 558.7L609.9 558.7L615.1 558.7L615.7 548.4L620.9 548.4L621.5 558.7L626.8 558.7L627.3 538.1L632.6 538.1L633.1 538.1L638.4 538.1L639.0 548.4L644.2 548.4L644.8 569.0L650.0 569.0L650.6 558.7L655.8 558.7L656.4 558.7L661.6 558.7L662.2 548.4L667.4 548.4L668.0 548.4L673.2 548.4L673.8 569.0L679.1 569.0L679.6 569.0L684.9 569.0L685.4 569.0L690.7 569.0L691.3 538.1L696.5 538.1L697.1 548.4L702.3 548.4L702.9 527.9L708.1 527.9L708.7 548.4L713.9 548.4L714.5 527.9L719.7 527.9L720.3 558.7L725.5 558.7L726.1 558.7L731.4 558.7L731.9 558.7L737.2 558.7L737.7 527.9L743.0 527.9L743.6 569.0L748.8 569.0L749.4 569.0L754.6 569.0L755.2 569.0L760.4 569.0L761.0 569.0L766.2 569.0L766.8 527.9L772.0 527.9L772.6 558.7L777.8 558.7L778.4 558.7L783.7 558.7L784.2 548.4L789.5 548.4L790.0 548.4L795.3 548.4L795.9 538.1L801.1 538.1L801.7 527.9L806.9 527.9L807.5 548.4L812.7 548.4L813.3 548.4L818.5 548.4L819.1 538.1L824.3 538.1L824.9 517.6L830.1 517.6L830.7 548.4L836.0 548.4L836.5 558.7L841.8 558.7L842.3 548.4L847.6 548.4L848.2 548.4L853.4 548.4L854.0 517.6L859.2 517.6L859.8 527.9L865.0 527.9L865.6 548.4L870.8 548.4L871.4 507.3L876.6 507.3L877.2 497.0L882.4 497.0L883.0 425.1L888.3 425.1L888.8 466.2L894.1 466.2L894.6 435.3L899.9 435.3L900.5 476.5L905.7 476.5L906.3 466.2L911.5 466.2L912.1 455.9L917.3 455.9L917.9 425.1L923.1 425.1L923.7 455.9L927.9 455.9L928.5 455.9" stroke="#989898" stroke-width="1" fill="none" stroke-linejoin="round" stroke-linecap="butt" />
<path d="M92.7 579.3L93.3 579.3L93.9 589.5L94.5 589.5L95.0 558.7L95.6 589.5L96.2 569.0L96.8 589.5L97.4 589.5L97.9 589.5L98.5 589.5L99.1 579.3L99.7 548.4L100.3 589.5L100.8 579.3L101.4 589.5L102.0 589.5L102.6 579.3L103.2 558.7L103.8 579.3L104.3 579.3L104.9 579.3L105.5 579.3L106.1 579.3L106.7 579.3L107.2 589.5L107.8 569.0L108.4 579.3L109.0 579.3L109.6 589.5L110.1 527.9L110.7 579.3L111.3 589.5L111.9 589.5L112.5 589.5L113.0 548.4L113.6 579.3L114.2 589.5L114.8 548.4L115.4 569.0L116.0 579.3L116.5 558.7L117.1 579.3L117.7 589.5L118.3 579.3L118.9 579.3L119.4 589.5L120.0 558.7L120.6 589.5L121.2 579.3L121.8 589.5L122.3 589.5L122.9 589.5L123.5 579.3L124.1 538.1L124.7 589.5L125.3 589.5L125.8 589.5L126.4 548.4L127.0 579.3L127.6 569.0L128.2 569.0L128.7 579.3L129.3 589.5L129.9 579.3L130.5 589.5L131.1 579.3L131.6 579.3L132.2 579.3L132.8 579.3L133.4 579.3L134.0 589.5L134.5 579.3L135.1 579.3L135.7 579.3L136.3 579.3L136.9 589.5L137.5 589.5L138.0 589.5L138.6 569.0L139.2 589.5L139.8 579.3L140.4 589.5L140.9 579.3L141.5 579.3L142.1 569.0L142.7 569.0L143.3 579.3L143.8 589.5L144.4 589.5L145.0 579.3L145.6 589.5L146.2 579.3L146.8 579.3L147.3 569.0L147.9 579.3L148.5 548.4L149.1 589.5L149.7 569.0L150.2 579.3L150.8 589.5L151.4 589.5L152.0 589.5L152.6 589.5L153.1 589.5L153.7 589.5L154.3 558.7L154.9 579.3L155.5 589.5L156.1 579.3L156.6 579.3L157.2 579.3L157.8 579.3L158.4 589.5L159.0 548.4L159.5 589.5L160.1 589.5L160.7 548.4L161.3 579.3L161.9 589.5L162.4 579.3L163.0 579.3L163.6 579.3L164.2 569.0L164.8 589.5L165.3 569.0L165.9 579.3L166.5 579.3L167.1 579.3L167.7 589.5L168.3 589.5L168.8 589.5L169.4 579.3L170.0 589.5L170.6 589.5L171.2 589.5L171.7 579.3L172.3 589.5L172.9 579.3L173.5 579.3L174.1 589.5L174.6 579.3L175.2 579.3L175.8 589.5L176.4 579.3L177.0 579.3L177.6 558.7L178.1 579.3L178.7 558.7L179.3 589.5L179.9 589.5L180.5 579.3L181.0 579.3L181.6 589.5L182.2 579.3L182.8 579.3L183.4 589.5L183.9 589.5L184.5 589.5L185.1 579.3L185.7 589.5L186.3 579.3L186.8 579.3L187.4 579.3L188.0 579.3L188.6 589.5L189.2 558.7L189.8 589.5L190.3 579.3L190.9 579.3L191.5 569.0L192.1 579.3L192.7 579.3L193.2 579.3L193.8 579.3L194.4 579.3L195.0 589.5L195.6 589.5L196.1 589.5L196.7 579.3L197.3 548.4L197.9 579.3L198.5 569.0L199.1 589.5L199.6 589.5L200.2 589.5L200.8 589.5L201.4 589.5L202.0 579.3L202.5 589.5L203.1 589.5L203.7 579.3L204.3 558.7L204.9 579.3L205.4 589.5L206.0 579.3L206.6 579.3L207.2 579.3L207.8 548.4L208.4 579.3L208.9 569.0L209.5 579.3L210.1 579.3L210.7 579.3L211.3 579.3L211.8 579.3L212.4 569.0L213.0 579.3L213.6 589.5L214.2 579.3L214.7 579.3L215.3 579.3L215.9 579.3L216.5 579.3L217.1 579.3L217.6 579.3L218.2 579.3L218.8 579.3L219.4 579.3L220.0 589.5L220.6 589.5L221.1 589.5L221.7 569.0L222.3 579.3L222.9 589.5L223.5 589.5L224.0 589.5L224.6 569.0L225.2 579.3L225.8 589.5L226.4 579.3L226.9 579.3L227.5 589.5L228.1 589.5L228.7 589.5L229.3 579.3L229.9 579.3L230.4 579.3L231.0 589.5L231.6 579.3L232.2 579.3L232.8 589.5L233.3 589.5L233.9 579.3L234.5 579.3L235.1 579.3L235.7 579.3L236.2 579.3L236.8 589.5L237.4 589.5L238.0 569.0L238.6 589.5L239.1 579.3L239.7 589.5L240.3 589.5L240.9 589.5L241.5 589.5L242.1 579.3L242.6 589.5L243.2 589.5L243.8 579.3L244.4 579.3L245.0 579.3L245.5 569.0L246.1 579.3L246.7 569.0L247.3 579.3L247.9 589.5L248.4 579.3L249.0 569.0L249.6 558.7L250.2 579.3L250.8 589.5L251.4 589.5L251.9 589.5L252.5 579.3L253.1 589.5L253.7 589.5L254.3 579.3L254.8 579.3L255.4 579.3L256.0 579.3L256.6 579.3L257.2 589.5L257.7 579.3L258.3 589.5L258.9 589.5L259.5 579.3L260.1 548.4L260.7 579.3L261.2 579.3L261.8 558.7L262.4 579.3L263.0 579.3L263.6 569.0L264.1 589.5L264.7 579.3L265.3 589.5L265.9 558.7L266.5 579.3L267.0 558.7L267.6 589.5L268.2 558.7L268.8 579.3L269.4 589.5L269.9 517.6L270.5 579.3L271.1 569.0L271.7 589.5L272.3 558.7L272.9 589.5L273.4 589.5L274.0 589.5L274.6 589.5L275.2 558.7L275.8 579.3L276.3 579.3L276.9 579.3L277.5 579.3L278.1 569.0L278.7 589.5L279.2 579.3L279.8 589.5L280.4 579.3L281.0 579.3L281.6 569.0L282.2 579.3L282.7 569.0L283.3 569.0L283.9 569.0L284.5 579.3L285.1 579.3L285.6 589.5L286.2 579.3L286.8 569.0L287.4 589.5L288.0 589.5L288.5 579.3L289.1 569.0L289.7 589.5L290.3 589.5L290.9 589.5L291.4 579.3L292.0 579.3L292.6 579.3L293.2 589.5L293.8 589.5L294.4 589.5L294.9 589.5L295.5 589.5L296.1 579.3L296.7 589.5L297.3 579.3L297.8 579.3L298.4 589.5L299.0 558.7L299.6 569.0L300.2 579.3L300.7 589.5L301.3 589.5L301.9 589.5L302.5 579.3L303.1 558.7L303.7 579.3L304.2 579.3L304.8 569.0L305.4 579.3L306.0 589.5L306.6 589.5L307.1 569.0L307.7 589.5L308.3 589.5L308.9 589.5L309.5 579.3L310.0 579.3L310.6 548.4L311.2 589.5L311.8 579.3L312.4 569.0L313.0 558.7L313.5 579.3L314.1 579.3L314.7 589.5L315.3 579.3L315.9 579.3L316.4 589.5L317.0 589.5L317.6 579.3L318.2 589.5L318.8 579.3L319.3 579.3L319.9 579.3L320.5 579.3L321.1 579.3L321.7 589.5L322.2 589.5L322.8 589.5L323.4 579.3L324.0 579.3L324.6 589.5L325.2 558.7L325.7 579.3L326.3 569.0L326.9 579.3L327.5 589.5L328.1 589.5L328.6 589.5L329.2 589.5L329.8 589.5L330.4 589.5L331.0 579.3L331.5 579.3L332.1 558.7L332.7 579.3L333.3 589.5L333.9 558.7L334.5 589.5L335.0 579.3L335.6 579.3L336.2 579.3L336.8 589.5L337.4 579.3L337.9 589.5L338.5 579.3L339.1 579.3L339.7 579.3L340.3 589.5L340.8 579.3L341.4 589.5L342.0 589.5L342.6 579.3L343.2 569.0L343.8 579.3L344.3 579.3L344.9 579.3L345.5 589.5L346.1 589.5L346.7 589.5L347.2 569.0L347.8 579.3L348.4 579.3L349.0 579.3L349.6 589.5L350.1 548.4L350.7 589.5L351.3 589.5L351.9 579.3L352.5 579.3L353.0 589.5L353.6 589.5L354.2 589.5L354.8 569.0L355.4 589.5L356.0 589.5L356.5 579.3L357.1 579.3L357.7 569.0L358.3 569.0L358.9 579.3L359.4 579.3L360.0 579.3L360.6 579.3L361.2 579.3L361.8 558.7L362.3 569.0L362.9 579.3L363.5 589.5L364.1 569.0L364.7 589.5L365.3 589.5L365.8 579.3L366.4 589.5L367.0 579.3L367.6 589.5L368.2 579.3L368.7 579.3L369.3 589.5L369.9 589.5L370.5 569.0L371.1 579.3L371.6 589.5L372.2 589.5L372.8 579.3L373.4 579.3L374.0 569.0L374.5 569.0L375.1 569.0L375.7 569.0L376.3 569.0L376.9 579.3L377.5 558.7L378.0 579.3L378.6 579.3L379.2 579.3L379.8 589.5L380.4 589.5L380.9 548.4L381.5 589.5L382.1 589.5L382.7 589.5L383.3 589.5L383.8 589.5L384.4 527.9L385.0 589.5L385.6 589.5L386.2 579.3L386.8 589.5L387.3 589.5L387.9 579.3L388.5 579.3L389.1 579.3L389.7 589.5L390.2 569.0L390.8 569.0L391.4 589.5L392.0 589.5L392.6 589.5L393.1 589.5L393.7 569.0L394.3 579.3L394.9 579.3L395.5 589.5L396.0 589.5L396.6 589.5L397.2 589.5L397.8 589.5L398.4 569.0L399.0 589.5L399.5 579.3L400.1 589.5L400.7 579.3L401.3 589.5L401.9 579.3L402.4 569.0L403.0 579.3L403.6 579.3L404.2 579.3L404.8 579.3L405.3 579.3L405.9 579.3L406.5 589.5L407.1 579.3L407.7 589.5L408.3 579.3L408.8 589.5L409.4 569.0L410.0 579.3L410.6 589.5L411.2 569.0L411.7 579.3L412.3 589.5L412.9 589.5L413.5 589.5L414.1 589.5L414.6 589.5L415.2 589.5L415.8 589.5L416.4 589.5L417.0 579.3L417.6 548.4L418.1 589.5L418.7 569.0L419.3 589.5L419.9 589.5L420.5 589.5L421.0 569.0L421.6 579.3L422.2 579.3L422.8 579.3L423.4 579.3L423.9 558.7L424.5 579.3L425.1 558.7L425.7 579.3L426.3 579.3L426.8 579.3L427.4 569.0L428.0 589.5L428.6 558.7L429.2 589.5L429.8 538.1L430.3 579.3L430.9 589.5L431.5 579.3L432.1 558.7L432.7 589.5L433.2 569.0L433.8 589.5L434.4 589.5L435.0 558.7L435.6 569.0L436.1 579.3L436.7 548.4L437.3 589.5L437.9 589.5L438.5 589.5L439.1 579.3L439.6 579.3L440.2 558.7L440.8 579.3L441.4 579.3L442.0 569.0L442.5 569.0L443.1 579.3L443.7 579.3L444.3 579.3L444.9 589.5L445.4 579.3L446.0 589.5L446.6 548.4L447.2 579.3L447.8 579.3L448.3 558.7L448.9 589.5L449.5 589.5L450.1 569.0L450.7 569.0L451.3 589.5L451.8 579.3L452.4 579.3L453.0 589.5L453.6 589.5L454.2 579.3L454.7 558.7L455.3 579.3L455.9 589.5L456.5 579.3L457.1 579.3L457.6 579.3L458.2 589.5L458.8 579.3L459.4 579.3L460.0 579.3L460.6 579.3L461.1 579.3L461.7 589.5L462.3 558.7L462.9 579.3L463.5 579.3L464.0 579.3L464.6 579.3L465.2 589.5L465.8 589.5L466.4 589.5L466.9 589.5L467.5 589.5L468.1 569.0L468.7 589.5L469.3 589.5L469.9 589.5L470.4 589.5L471.0 589.5L471.6 589.5L472.2 589.5L472.8 589.5L473.3 579.3L473.9 579.3L474.5 579.3L475.1 579.3L475.7 579.3L476.2 579.3L476.8 579.3L477.4 579.3L478.0 589.5L478.6 589.5L479.1 579.3L479.7 589.5L480.3 579.3L480.9 589.5L481.5 589.5L482.1 579.3L482.6 558.7L483.2 579.3L483.8 579.3L484.4 569.0L485.0 589.5L485.5 589.5L486.1 589.5L486.7 589.5L487.3 589.5L487.9 589.5L488.4 579.3L489.0 579.3L489.6 579.3L490.2 579.3L490.8 589.5L491.4 579.3L491.9 579.3L492.5 579.3L493.1 558.7L493.7 579.3L494.3 589.5L494.8 579.3L495.4 548.4L496.0 589.5L496.6 589.5L497.2 579.3L497.7 589.5L498.3 589.5L498.9 569.0L499.5 589.5L500.1 589.5L500.6 579.3L501.2 569.0L501.8 589.5L502.4 589.5L503.0 589.5L503.6 589.5L504.1 589.5L504.7 589.5L505.3 569.0L505.9 579.3L506.5 579.3L507.0 569.0L507.6 589.5L508.2 589.5L508.8 589.5L509.4 589.5L509.9 579.3L510.5 579.3L511.1 558.7L511.7 589.5L512.3 579.3L512.9 589.5L513.4 589.5L514.0 589.5L514.6 589.5L515.2 579.3L515.8 569.0L516.3 589.5L516.9 589.5L517.5 589.5L518.1 579.3L518.7 579.3L519.2 569.0L519.8 579.3L520.4 579.3L521.0 569.0L521.6 579.3L522.2 579.3L522.7 569.0L523.3 558.7L523.9 579.3L524.5 579.3L525.1 589.5L525.6 589.5L526.2 589.5L526.8 589.5L527.4 579.3L528.0 569.0L528.5 579.3L529.1 589.5L529.7 589.5L530.3 579.3L530.9 579.3L531.4 589.5L532.0 569.0L532.6 589.5L533.2 589.5L533.8 579.3L534.4 579.3L534.9 579.3L535.5 579.3L536.1 579.3L536.7 579.3L537.3 579.3L537.8 579.3L538.4 579.3L539.0 579.3L539.6 589.5L540.2 579.3L540.7 579.3L541.3 579.3L541.9 579.3L542.5 579.3L543.1 569.0L543.7 589.5L544.2 579.3L544.8 569.0L545.4 589.5L546.0 589.5L546.6 589.5L547.1 589.5L547.7 589.5L548.3 589.5L548.9 579.3L549.5 579.3L550.0 589.5L550.6 579.3L551.2 579.3L551.8 589.5L552.4 589.5L552.9 579.3L553.5 589.5L554.1 589.5L554.7 589.5L555.3 579.3L555.9 579.3L556.4 569.0L557.0 579.3L557.6 569.0L558.2 569.0L558.8 569.0L559.3 579.3L559.9 579.3L560.5 589.5L561.1 579.3L561.7 579.3L562.2 569.0L562.8 569.0L563.4 558.7L564.0 579.3L564.6 589.5L565.2 589.5L565.7 589.5L566.3 579.3L566.9 579.3L567.5 558.7L568.1 579.3L568.6 589.5L569.2 589.5L569.8 589.5L570.4 569.0L571.0 579.3L571.5 589.5L572.1 579.3L572.7 589.5L573.3 589.5L573.9 589.5L574.5 589.5L575.0 579.3L575.6 538.1L576.2 579.3L576.8 579.3L577.4 579.3L577.9 589.5L578.5 589.5L579.1 579.3L579.7 579.3L580.3 579.3L580.8 589.5L581.4 579.3L582.0 579.3L582.6 558.7L583.2 579.3L583.7 579.3L584.3 569.0L584.9 558.7L585.5 579.3L586.1 569.0L586.7 579.3L587.2 579.3L587.8 569.0L588.4 579.3L589.0 579.3L589.6 548.4L590.1 589.5L590.7 558.7L591.3 589.5L591.9 589.5L592.5 579.3L593.0 579.3L593.6 579.3L594.2 579.3L594.8 589.5L595.4 579.3L596.0 579.3L596.5 548.4L597.1 579.3L597.7 579.3L598.3 569.0L598.9 589.5L599.4 589.5L600.0 589.5L600.6 589.5L601.2 589.5L601.8 579.3L602.3 589.5L602.9 548.4L603.5 579.3L604.1 569.0L604.7 579.3L605.2 569.0L605.8 589.5L606.4 579.3L607.0 579.3L607.6 589.5L608.2 579.3L608.7 589.5L609.3 579.3L609.9 527.9L610.5 579.3L611.1 589.5L611.6 579.3L612.2 589.5L612.8 589.5L613.4 569.0L614.0 589.5L614.5 569.0L615.1 589.5L615.7 589.5L616.3 579.3L616.9 589.5L617.5 589.5L618.0 579.3L618.6 589.5L619.2 558.7L619.8 558.7L620.4 579.3L620.9 569.0L621.5 589.5L622.1 558.7L622.7 589.5L623.3 579.3L623.8 579.3L624.4 548.4L625.0 589.5L625.6 558.7L626.2 569.0L626.8 589.5L627.3 579.3L627.9 579.3L628.5 569.0L629.1 558.7L629.7 579.3L630.2 589.5L630.8 558.7L631.4 579.3L632.0 548.4L632.6 589.5L633.1 569.0L633.7 579.3L634.3 569.0L634.9 579.3L635.5 558.7L636.0 558.7L636.6 579.3L637.2 589.5L637.8 569.0L638.4 589.5L639.0 579.3L639.5 579.3L640.1 579.3L640.7 589.5L641.3 579.3L641.9 548.4L642.4 589.5L643.0 569.0L643.6 589.5L644.2 589.5L644.8 558.7L645.3 579.3L645.9 558.7L646.5 589.5L647.1 569.0L647.7 558.7L648.3 589.5L648.8 558.7L649.4 579.3L650.0 579.3L650.6 579.3L651.2 558.7L651.7 589.5L652.3 579.3L652.9 579.3L653.5 589.5L654.1 558.7L654.6 579.3L655.2 579.3L655.8 589.5L656.4 569.0L657.0 589.5L657.5 579.3L658.1 589.5L658.7 579.3L659.3 579.3L659.9 579.3L660.5 589.5L661.0 589.5L661.6 558.7L662.2 579.3L662.8 569.0L663.4 569.0L663.9 579.3L664.5 589.5L665.1 579.3L665.7 579.3L666.3 579.3L666.8 589.5L667.4 569.0L668.0 579.3L668.6 579.3L669.2 579.3L669.8 579.3L670.3 589.5L670.9 589.5L671.5 558.7L672.1 569.0L672.7 579.3L673.2 579.3L673.8 589.5L674.4 589.5L675.0 589.5L675.6 589.5L676.1 579.3L676.7 589.5L677.3 589.5L677.9 579.3L678.5 589.5L679.1 579.3L679.6 589.5L680.2 569.0L680.8 589.5L681.4 589.5L682.0 589.5L682.5 579.3L683.1 589.5L683.7 579.3L684.3 548.4L684.9 589.5L685.4 589.5L686.0 579.3L686.6 558.7L687.2 579.3L687.8 589.5L688.3 589.5L688.9 589.5L689.5 558.7L690.1 579.3L690.7 589.5L691.3 558.7L691.8 579.3L692.4 589.5L693.0 569.0L693.6 579.3L694.2 579.3L694.7 589.5L695.3 589.5L695.9 579.3L696.5 569.0L697.1 569.0L697.6 589.5L698.2 579.3L698.8 589.5L699.4 589.5L700.0 579.3L700.6 579.3L701.1 589.5L701.7 569.0L702.3 579.3L702.9 589.5L703.5 589.5L704.0 579.3L704.6 589.5L705.2 589.5L705.8 579.3L706.4 589.5L706.9 579.3L707.5 558.7L708.1 569.0L708.7 569.0L709.3 579.3L709.9 589.5L710.4 558.7L711.0 589.5L711.6 569.0L712.2 579.3L712.8 579.3L713.3 589.5L713.9 569.0L714.5 579.3L715.1 579.3L715.7 579.3L716.2 569.0L716.8 579.3L717.4 579.3L718.0 558.7L718.6 589.5L719.1 579.3L719.7 589.5L720.3 579.3L720.9 579.3L721.5 579.3L722.1 589.5L722.6 579.3L723.2 569.0L723.8 538.1L724.4 579.3L725.0 579.3L725.5 579.3L726.1 569.0L726.7 589.5L727.3 589.5L727.9 569.0L728.4 579.3L729.0 579.3L729.6 589.5L730.2 579.3L730.8 589.5L731.4 569.0L731.9 569.0L732.5 589.5L733.1 558.7L733.7 569.0L734.3 579.3L734.8 579.3L735.4 579.3L736.0 579.3L736.6 569.0L737.2 579.3L737.7 558.7L738.3 579.3L738.9 579.3L739.5 548.4L740.1 589.5L740.6 589.5L741.2 579.3L741.8 579.3L742.4 579.3L743.0 569.0L743.6 589.5L744.1 579.3L744.7 579.3L745.3 589.5L745.9 579.3L746.5 579.3L747.0 569.0L747.6 558.7L748.2 589.5L748.8 589.5L749.4 569.0L749.9 579.3L750.5 589.5L751.1 569.0L751.7 579.3L752.3 579.3L752.9 579.3L753.4 579.3L754.0 579.3L754.6 569.0L755.2 589.5L755.8 579.3L756.3 589.5L756.9 579.3L757.5 579.3L758.1 589.5L758.7 548.4L759.2 589.5L759.8 579.3L760.4 579.3L761.0 579.3L761.6 589.5L762.1 579.3L762.7 569.0L763.3 558.7L763.9 569.0L764.5 579.3L765.1 558.7L765.6 569.0L766.2 589.5L766.8 569.0L767.4 579.3L768.0 579.3L768.5 579.3L769.1 589.5L769.7 558.7L770.3 579.3L770.9 569.0L771.4 589.5L772.0 579.3L772.6 569.0L773.2 579.3L773.8 569.0L774.4 569.0L774.9 569.0L775.5 589.5L776.1 569.0L776.7 569.0L777.3 579.3L777.8 548.4L778.4 589.5L779.0 579.3L779.6 579.3L780.2 569.0L780.7 579.3L781.3 569.0L781.9 579.3L782.5 569.0L783.1 569.0L783.7 579.3L784.2 589.5L784.8 548.4L785.4 579.3L786.0 579.3L786.6 569.0L787.1 579.3L787.7 569.0L788.3 569.0L788.9 589.5L789.5 569.0L790.0 569.0L790.6 579.3L791.2 569.0L791.8 517.6L792.4 579.3L792.9 569.0L793.5 579.3L794.1 579.3L794.7 569.0L795.3 548.4L795.9 589.5L796.4 589.5L797.0 589.5L797.6 569.0L798.2 589.5L798.8 579.3L799.3 589.5L799.9 589.5L800.5 589.5L801.1 589.5L801.7 558.7L802.2 589.5L802.8 548.4L803.4 569.0L804.0 538.1L804.6 579.3L805.2 589.5L805.7 589.5L806.3 569.0L806.9 589.5L807.5 589.5L808.1 589.5L808.6 548.4L809.2 579.3L809.8 507.3L810.4 538.1L811.0 579.3L811.5 589.5L812.1 589.5L812.7 517.6L813.3 579.3L813.9 569.0L814.4 589.5L815.0 579.3L815.6 589.5L816.2 579.3L816.8 579.3L817.4 569.0L817.9 569.0L818.5 569.0L819.1 569.0L819.7 548.4L820.3 517.6L820.8 579.3L821.4 569.0L822.0 569.0L822.6 569.0L823.2 527.9L823.7 579.3L824.3 579.3L824.9 579.3L825.5 558.7L826.1 569.0L826.7 589.5L827.2 589.5L827.8 579.3L828.4 558.7L829.0 579.3L829.6 579.3L830.1 558.7L830.7 466.2L831.3 569.0L831.9 579.3L832.5 558.7L833.0 589.5L833.6 569.0L834.2 538.1L834.8 579.3L835.4 569.0L836.0 569.0L836.5 569.0L837.1 589.5L837.7 538.1L838.3 569.0L838.9 569.0L839.4 579.3L840.0 579.3L840.6 569.0L841.2 527.9L841.8 558.7L842.3 579.3L842.9 569.0L843.5 589.5L844.1 579.3L844.7 579.3L845.2 538.1L845.8 579.3L846.4 569.0L847.0 569.0L847.6 569.0L848.2 569.0L848.7 569.0L849.3 569.0L849.9 569.0L850.5 569.0L851.1 569.0L851.6 548.4L852.2 538.1L852.8 538.1L853.4 569.0L854.0 569.0L854.5 569.0L855.1 579.3L855.7 579.3L856.3 579.3L856.9 579.3L857.5 558.7L858.0 579.3L858.6 579.3L859.2 589.5L859.8 569.0L860.4 569.0L860.9 579.3L861.5 589.5L862.1 579.3L862.7 579.3L863.3 527.9L863.8 579.3L864.4 579.3L865.0 569.0L865.6 569.0L866.2 569.0L866.8 558.7L867.3 558.7L867.9 569.0L868.5 569.0L869.1 569.0L869.7 569.0L870.2 589.5L870.8 579.3L871.4 538.1L872.0 579.3L872.6 569.0L873.1 589.5L873.7 527.9L874.3 569.0L874.9 538.1L875.5 558.7L876.0 589.5L876.6 507.3L877.2 579.3L877.8 579.3L878.4 558.7L879.0 579.3L879.5 579.3L880.1 569.0L880.7 569.0L881.3 569.0L881.9 548.4L882.4 569.0L883.0 558.7L883.6 579.3L884.2 569.0L884.8 589.5L885.3 579.3L885.9 527.9L886.5 569.0L887.1 589.5L887.7 579.3L888.3 579.3L888.8 579.3L889.4 579.3L890.0 579.3L890.6 579.3L891.2 589.5L891.7 589.5L892.3 569.0L892.9 569.0L893.5 579.3L894.1 558.7L894.6 589.5L895.2 589.5L895.8 589.5L896.4 589.5L897.0 589.5L897.5 589.5L898.1 589.5L898.7 589.5L899.3 589.5L899.9 569.0L900.5 589.5L901.0 589.5L901.6 579.3L902.2 579.3L902.8 589.5L903.4 589.5L903.9 507.3L904.5 579.3L905.1 579.3L905.7 548.4L906.3 589.5L906.8 589.5L907.4 589.5L908.0 589.5L908.6 579.3L909.2 558.7L909.8 558.7L910.3 589.5L910.9 589.5L911.5 579.3L912.1 558.7L912.7 589.5L913.2 579.3L913.8 579.3L914.4 579.3L915.0 589.5L915.6 589.5L916.1 589.5L916.7 558.7L917.3 589.5L917.9 569.0L918.5 589.5L919.1 589.5L919.6 579.3L920.2 579.3L920.8 589.5L921.4 589.5L922.0 589.5L922.5 589.5L923.1 589.5L923.7 589.5L924.3 579.3L924.9 579.3L925.4 558.7L926.0 589.5L926.6 589.5L927.2 569.0L927.8 589.5L928.3 589.5" stroke="#e51e10" stroke-width="2" fill="none" stroke-linejoin="round" stroke-linecap="butt" stroke-linejoin="miter" stroke-miterlimit="2"/>
</g>
<path d="M92.50 599.82v-7.60M92.50 414.78v7.60M110.50 599.82v-4.10M110.50 414.78v4.10M127.50 599.82v-7.60M127.50 414.78v7.60M145.50 599.82v-4.10M145.50 414.78v4.10M162.50 599.82v-7.60M162.50 414.78v7.60M179.50 599.82v-4.10M179.50 414.78v4.10M197.50 599.82v-7.60M197.50 414.78v7.60M214.50 599.82v-4.10M214.50 414.78v4.10M232.50 599.82v-7.60M232.50 414.78v7.60M249.50 599.82v-4.10M249.50 414.78v4.10M267.50 599.82v-7.60M267.50 414.78v7.60M284.50 599.82v-4.10M284.50 414.78v4.10M301.50 599.82v-7.60M301.50 414.78v7.60M319.50 599.82v-4.10M319.50 414.78v4.10M336.50 599.82v-7.60M336.50 414.78v7.60M354.50 599.82v-4.10M354.50 414.78v4.10M371.50 599.82v-7.60M371.50 414.78v7.60M389.50 599.82v-4.10M389.50 414.78v4.10M406.50 599.82v-7.60M406.50 414.78v7.60M423.50 599.82v-4.10M423.50 414.78v4.10M441.50 599.82v-7.60M441.50 414.78v7.60M458.50 599.82v-4.10M458.50 414.78v4.10M476.50 599.82v-7.60M476.50 414.78v7.60M493.50 599.82v-4.10M493.50 414.78v4.10M511.50 599.82v-7.60M511.50 414.78v7.60M528.50 599.82v-4.10M528.50 414.78v4.10M545.50 599.82v-7.60M545.50 414.78v7.60M563.50 599.82v-4.10M563.50 414.78v4.10M580.50 599.82v-7.60M580.50 414.78v7.60M598.50 599.82v-4.10M598.50 414.78v4.10M615.50 599.82v-7.60M615.50 414.78v7.60M633.50 599.82v-4.10M633.50 414.78v4.10M650.50 599.82v-7.60M650.50 414.78v7.60M668.50 599.82v-4.10M668.50 414.78v4.10M685.50 599.82v-7.60M685.50 414.78v7.60M702.50 599.82v-4.10M702.50 414.78v4.10M720.50 599.82v-7.60M720.50 414.78v7.60M737.50 599.82v-4.10M737.50 414.78v4.10M755.50 599.82v-7.60M755.50 414.78v7.60M772.50 599.82v-4.10M772.50 414.78v4.10M790.50 599.82v-7.60M790.50 414.78v7.60M807.50 599.82v-4.10M807.50 414.78v4.10M824.50 599.82v-7.60M824.50 414.78v7.60M842.50 599.82v-4.10M842.50 414.78v4.10M859.50 599.82v-7.60M859.50 414.78v7.60M877.50 599.82v-4.10M877.50 414.78v4.10M894.50 599.82v-7.60M894.50 414.78v7.60M912.50 599.82v-4.10M912.50 414.78v4.10M929.50 599.82v-7.60M929.50 414.78v7.60M92.71 599.50h7.60M929.51 599.50h-7.60M92.71 589.50h4.10M929.51 589.50h-4.10M92.71 579.50h7.60M929.51 579.50h-7.60M92.71 568.50h4.10M929.51 568.50h-4.10M92.71 558.50h7.60M929.51 558.50h-7.60M92.71 548.50h4.10M929.51 548.50h-4.10M92.71 538.50h7.60M929.51 538.50h-7.60M92.71 527.50h4.10M929.51 527.50h-4.10M92.71 517.50h7.60M929.51 517.50h-7.60M92.71 507.50h4.10M929.51 507.50h-4.10M92.71 497.50h7.60M929.51 497.50h-7.60M92.71 486.50h4.10M929.51 486.50h-4.10M92.71 476.50h7.60M929.51 476.50h-7.60M92.71 466.50h4.10M929.51 466.50h-4.10M92.71 455.50h7.60M929.51 455.50h-7.60M92.71 445.50h4.10M929.51 445.50h-4.10M92.71 435.50h7.60M929.51 435.50h-7.60M92.71 425.50h4.10M929.51 425.50h-4.10M92.71 414.50h7.60M929.51 414.50h-7.60" stroke="#000" stroke-width="1" fill="none"/>
<rect x="92.5" y="414.5" width="837.0" height="185.0" fill="none" stroke="#000" stroke-width="1"/>
<text x="83.5" y="605.30" text-anchor="end">0</text>
<text x="83.5" y="585.30" text-anchor="end">2</text>
<text x="83.5" y="564.30" text-anchor="end">4</text>
<text x="83.5" y="544.30" text-anchor="end">6</text>
<text x="83.5" y="523.30" text-anchor="end">8</text>
<text x="83.5" y="503.30" text-anchor="end">10</text>
<text x="83.5" y="482.30" text-anchor="end">12</text>
<text x="83.5" y="461.30" text-anchor="end">14</text>
<text x="83.5" y="441.30" text-anchor="end">16</text>
<text x="83.5" y="420.30" text-anchor="end">18</text>
<text transform="translate(33.5 507.3) rotate(-90)" text-anchor="middle">2.5um particulate matter</text>
<text transform="translate(51.2 507.3) rotate(-90)" text-anchor="middle">(ug/m3)</text>
</g>
<text x="93.00" y="623.8" text-anchor="middle">00</text>
<text x="128.00" y="623.8" text-anchor="middle">01</text>
<text x="163.00" y="623.8" text-anchor="middle">02</text>
<text x="198.00" y="623.8" text-anchor="middle">03</text>
<text x="233.00" y="623.8" text-anchor="middle">04</text>
<text x="268.00" y="623.8" text-anchor="middle">05</text>
<text x="302.00" y="623.8" text-anchor="middle">06</text>
<text x="337.00" y="623.8" text-anchor="middle">07</text>
<text x="372.00" y="623.8" text-anchor="middle">08</text>
<text x="407.00" y="623.8" text-anchor="middle">09</text>
<text x="442.00" y="623.8" text-anchor="middle">10</text>
<text x="477.00" y="623.8" text-anchor="middle">11</text>
<text x="512.00" y="623.8" text-anchor="middle">12</text>
<text x="546.00" y="623.8" text-anchor="middle">13</text>
<text x="581.00" y="623.8" text-anchor="middle">14</text>
<text x="616.00" y="623.8" text-anchor="middle">15</text>
<text x="651.00" y="623.8" text-anchor="middle">16</text>
<text x="686.00" y="623.8" text-anchor="middle">17</text>
<text x="721.00" y="623.8" text-anchor="middle">18</text>
<text x="756.00" y="623.8" text-anchor="middle">19</text>
<text x="791.00" y="623.8" text-anchor="middle">20</text>
<text x="825.00" y="623.8" text-anchor="middle">21</text>
<text x="860.00" y="623.8" text-anchor="middle">22</text>
<text x="895.00" y="623.8" text-anchor="middle">23</text>
<text x="930.00" y="623.8" text-anchor="middle">00</text>
<text x="510.9" y="651.5" text-anchor="middle">time (hr)</text>
<text x="221.7" y="690.3" text-anchor="end">roof</text>
<path d="M232.2 684.5h48" stroke="#9c9c9c" stroke-width="1" fill="none"/>
<text x="221.7" y="708.3" text-anchor="end">113</text>
<path d="M232.2 702.5h48" stroke="#cfcfcf" stroke-width="1" fill="none"/>
<text x="369.9" y="690.3" text-anchor="end">0.7m-top</text>
<path d="M379.6 684.5h48" stroke="#9400d3" stroke-width="2" fill="none"/>
<text x="369.9" y="708.3" text-anchor="end">0.7m-mid</text>
<path d="M379.6 702.5h48" stroke="#009e73" stroke-width="2" fill="none"/>
<text x="517.3" y="690.3" text-anchor="end">0.7m-bot</text>
<path d="M527.0 684.5h48" stroke="#56b4e9" stroke-width="2" fill="none"/>
<text x="517.3" y="708.3" text-anchor="end">ctrl-rm</text>
<path d="M527.0 702.5h48" stroke="#e69f00" stroke-width="2" fill="none"/>
<text x="664.7" y="690.3" text-anchor="end">12in</text>
<path d="M674.4 684.5h48" stroke="#f0e442" stroke-width="2" fill="none"/>
<text x="664.7" y="708.3" text-anchor="end">6in</text>
<path d="M674.4 702.5h48" stroke="#0072b2" stroke-width="2" fill="none"/>
<text x="812.1" y="690.3" text-anchor="end">grnd-fl</text>
<path d="M821.8 684.5h48" stroke="#e51e10" stroke-width="2" fill="none"/>
<text x="812.1" y="708.3" text-anchor="end">bsmt</text>
<path d="M821.8 702.5h48" stroke="#000000" stroke-width="2" fill="none"/>
</svg>
</body></html>
